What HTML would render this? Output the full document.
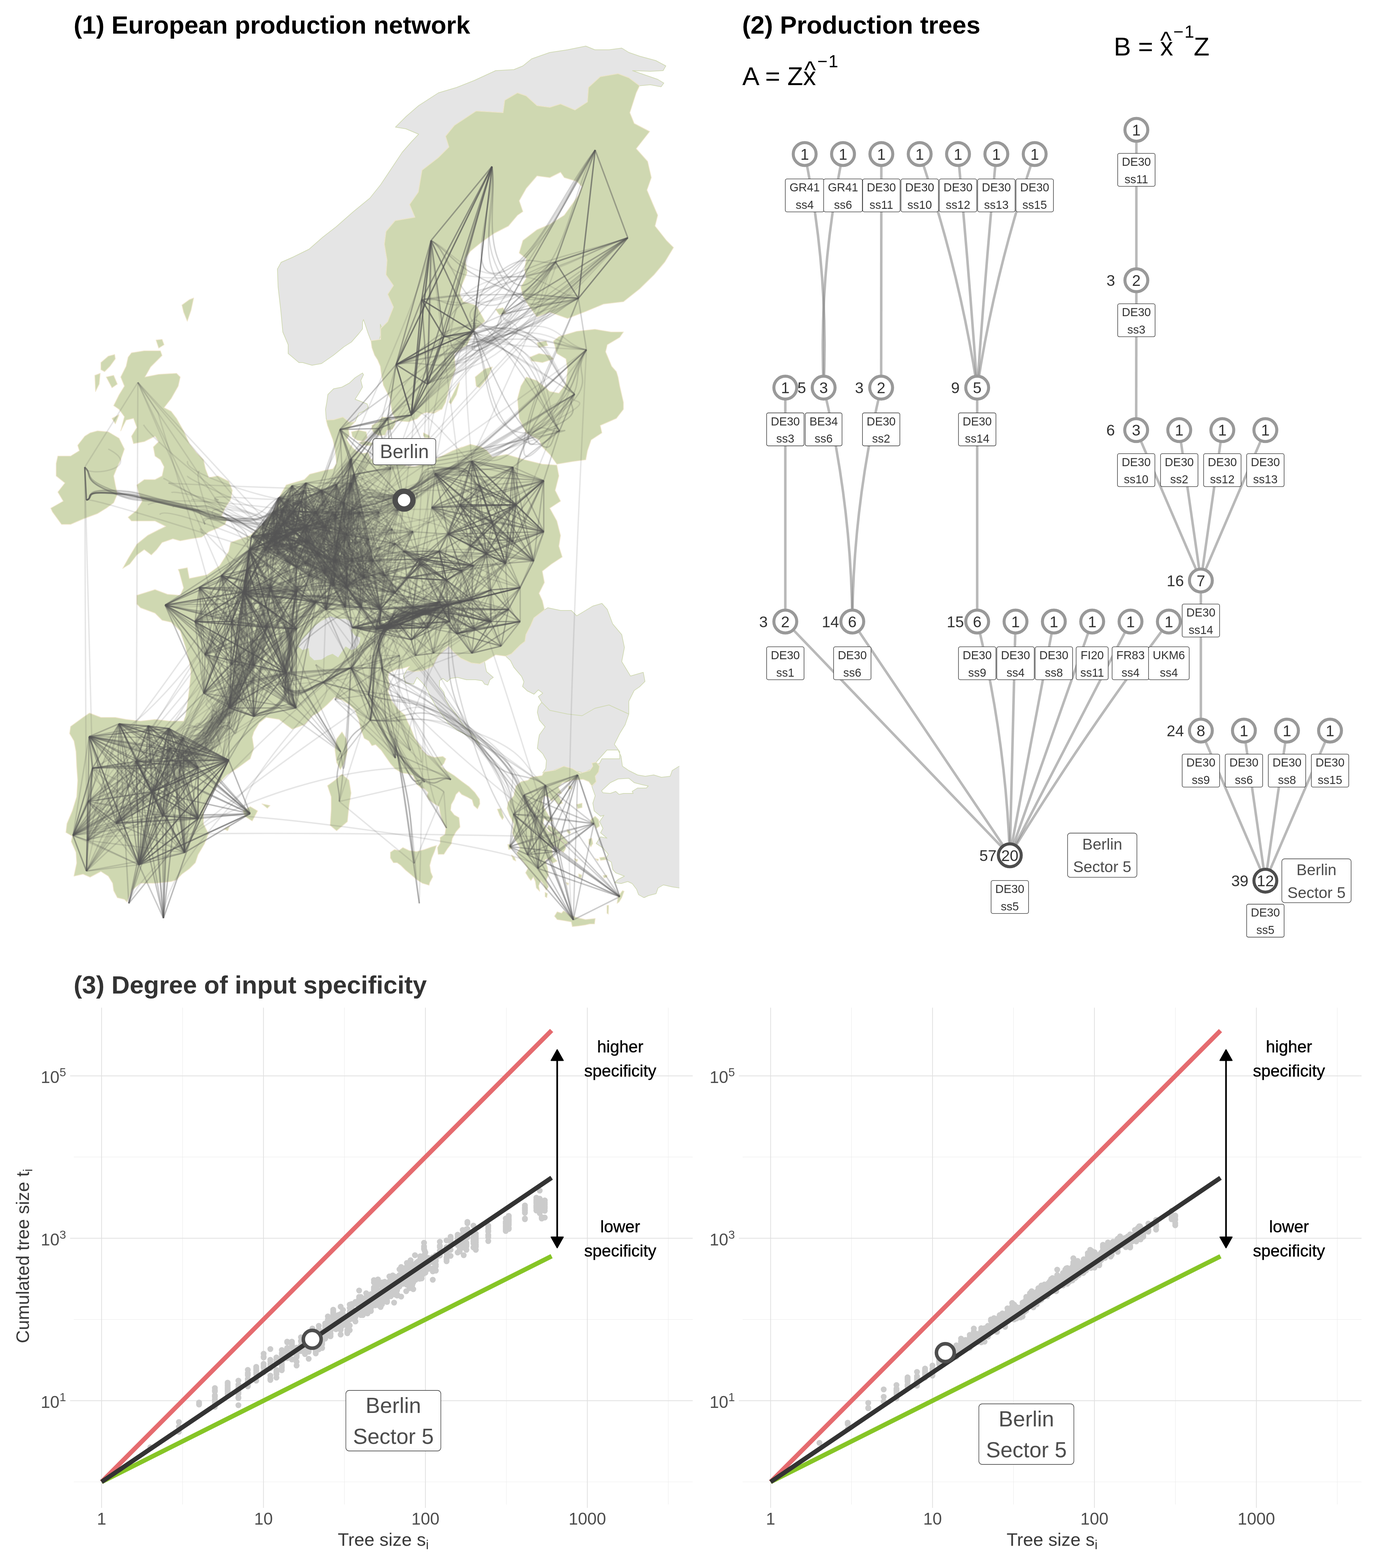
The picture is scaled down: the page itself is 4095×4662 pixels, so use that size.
<!DOCTYPE html>
<html lang="en"><head><meta charset="utf-8"><title>European production network</title><style>
html,body{margin:0;padding:0;background:#fff}
svg{display:block}
text{font-family:"Liberation Sans",Arial,Helvetica,sans-serif}
.tt{font-size:75px;font-weight:bold;fill:#000}
.nl{font-size:34.5px;fill:#333;text-anchor:middle}
.nn{font-size:46px;fill:#333;text-anchor:middle}
.bl{font-size:46.5px;fill:#4d4d4d;text-anchor:middle}
.cl{font-size:64.5px;fill:#4d4d4d;text-anchor:middle}
.fm{font-size:75px;fill:#000}
.an{font-size:49.5px;fill:#000;text-anchor:middle;stroke:#000;stroke-width:0.6}
.ax{font-size:50px;fill:#4d4d4d;text-anchor:middle}
.ay{font-size:50px;fill:#4d4d4d;text-anchor:end}
.at{font-size:54px;fill:#3a3a3a;text-anchor:middle}
</style></head><body>
<svg width="4095" height="4662" viewBox="0 0 4095 4662">
<rect width="4095" height="4662" fill="#fff"/>
<clipPath id="mc"><rect x="100" y="110" width="1920.3" height="2680"/></clipPath>
<g clip-path="url(#mc)">
<path d="M1902 255L1870 231L1838 219L1785 228L1750 260L1747 303L1710 327L1667 309L1635 319L1597 314L1565 285L1539 276L1501 298L1496 335L1416 330L1351 373L1325 405L1335 437L1303 469L1255 506L1244 571L1218 608L1234 646L1175 656L1148 688L1143 726L1151 774L1148 817L1170 849L1153 875L1170 913L1153 956L1132 977L1132 1009L1131 964L1137 978L1131 1000L1123 1025L1106 1014L1103 1013L1095 992L1081 950L1078 958L1078 978L1067 992L1045 1017L1023 1031L992 1056L956 1081L928 1086L900 1078L889 1078L857 1051L857 1025L841 987L835 923L827 853L825 800L836 780L870 765L919 741L960 705L1000 674L1050 630L1100 589L1132 549L1164 501L1196 453L1224 421L1245 399L1207 383L1176 378L1208 346L1245 314L1304 276L1358 260L1411 239L1474 210L1528 207L1555 196L1581 175L1635 156L1688 148L1742 137L1769 148L1811 148L1849 143L1870 156L1902 167L1950 180L1980 196L1972 210L1934 212L1881 210L1956 236L1974 247L1966 258L1934 252ZM970 1245L968 1217L972 1195L975 1173L992 1156L1017 1151L1039 1139L1056 1123L1078 1109L1081 1114L1073 1131L1078 1151L1067 1170L1056 1187L1092 1201L1095 1212L1081 1223L1067 1229L1056 1254L1039 1256L1020 1240L992 1248L972 1249ZM1334 1920L1347 1937L1370 1957L1401 1971L1427 1974L1441 1967L1444 1984L1447 1997L1467 2014L1457 2021L1451 2037L1441 2034L1434 2024L1414 2021L1387 2021L1360 2014L1340 2017L1330 2027L1317 2017L1307 2024L1307 2041L1320 2058L1324 2078L1337 2101L1357 2124L1374 2151L1391 2171L1414 2195L1427 2215L1414 2201L1387 2185L1360 2171L1334 2151L1314 2124L1297 2101L1280 2071L1267 2044L1253 2027L1240 2014L1230 2034L1207 2031L1200 2011L1210 1991L1227 1997L1257 1994L1287 1981L1300 1954L1317 1937ZM1618 1814L1588 1837L1578 1860L1564 1887L1561 1907L1548 1917L1521 1944L1504 1951L1518 1964L1528 1984L1551 2011L1558 2027L1554 2041L1568 2054L1588 2064L1601 2051L1614 2061L1601 2071L1611 2088L1635 2112L1688 2123L1731 2128L1769 2106L1811 2096L1870 2123L1870 2085L1886 2053L1902 2042L1918 2026L1913 1999L1875 2010L1849 1967L1857 1925L1849 1887L1822 1855L1806 1812L1790 1794L1763 1802L1715 1831L1699 1815L1667 1815L1629 1807ZM1611 2088L1601 2101L1598 2118L1604 2141L1621 2161L1604 2185L1601 2201L1598 2225L1614 2241L1625 2261L1623 2285L1614 2298L1645 2291L1678 2278L1708 2291L1735 2298L1762 2285L1765 2268L1782 2271L1790 2256L1843 2256L1843 2235L1827 2213L1843 2181L1859 2155L1870 2123L1811 2096L1769 2106L1731 2128L1688 2123L1635 2112ZM1773 2266L1805 2230L1838 2230L1847 2249L1851 2278L1870 2291L1896 2304L1919 2308L1944 2304L1967 2311L1993 2308L1999 2291L2020 2278L2032 2278L2032 2640L2020 2640L1999 2637L1973 2631L1957 2640L1951 2657L1928 2663L1915 2669L1899 2660L1893 2644L1880 2627L1867 2621L1847 2627L1828 2624L1838 2615L1857 2605L1831 2595L1822 2585L1818 2563L1802 2553L1809 2540L1793 2521L1773 2508L1786 2488L1805 2492L1786 2476L1793 2463L1783 2443L1796 2424L1786 2427L1767 2411L1763 2388L1770 2366L1760 2338L1773 2324L1770 2308L1780 2295L1783 2278Z" fill="#e5e5e5" stroke="#d0d9b3" stroke-width="2" stroke-linejoin="round"/>
<path d="M1789 2351L1815 2327L1838 2316L1870 2314L1886 2327L1909 2333L1928 2337L1922 2343L1896 2343L1880 2353L1883 2359L1854 2359L1841 2362L1831 2353L1815 2359L1793 2357Z" fill="#fff" stroke="#d0d9b3" stroke-width="2" stroke-linejoin="round"/>
<path d="M1902 255L1892 276L1873 335L1886 367L1932 391L1892 442L1926 480L1937 528L1924 565L1940 603L1956 640L1948 672L1982 715L2003 736L1977 779L1945 817L1902 859L1854 897L1795 904L1742 926L1688 947L1635 928L1597 942L1571 907L1555 880L1549 853L1565 827L1560 800L1565 769L1544 752L1555 715L1597 683L1635 667L1678 640L1720 581L1731 555L1715 539L1678 528L1667 512L1635 528L1597 523L1565 560L1544 597L1555 629L1539 640L1512 672L1469 694L1432 720L1399 747L1383 769L1389 811L1373 849L1367 875L1378 897L1416 908L1442 955L1410 982L1389 1025L1351 1051L1354 1099L1341 1132L1325 1196L1314 1217L1276 1228L1312 1217L1290 1229L1268 1226L1254 1231L1240 1245L1215 1254L1179 1251L1167 1229L1162 1201L1162 1187L1151 1167L1140 1145L1137 1128L1134 1112L1131 1089L1123 1070L1114 1056L1106 1034L1103 1013L1132 1009L1132 977L1153 956L1170 913L1153 875L1170 849L1148 817L1151 774L1143 726L1148 688L1175 656L1234 646L1218 608L1244 571L1255 506L1303 469L1335 437L1325 405L1351 373L1416 330L1496 335L1501 298L1539 276L1565 285L1597 314L1635 319L1667 309L1710 327L1747 303L1750 260L1785 228L1838 219L1870 231L1902 255ZM1413 1121L1442 1097L1464 1091L1448 1126L1426 1153L1416 1148ZM1335 1196L1362 1142L1367 1137L1357 1174L1341 1201ZM1474 920L1496 915L1504 931L1485 936ZM1259 1287L1276 1295L1279 1301L1265 1302L1259 1295ZM1646 1014L1662 1001L1715 985L1769 979L1817 987L1854 987L1843 1003L1806 1025L1801 1046L1819 1089L1833 1105L1838 1121L1843 1148L1854 1196L1854 1217L1833 1244L1785 1265L1790 1287L1758 1308L1747 1340L1742 1367L1704 1372L1656 1380L1635 1351L1613 1329L1603 1308L1565 1287L1544 1244L1539 1185L1549 1148L1565 1121L1597 1132L1635 1164L1662 1169L1683 1142L1688 1099L1683 1067L1656 1051ZM1576 1062L1603 1051L1635 1057L1646 1067L1613 1078L1581 1073ZM1597 1019L1624 1014L1629 1027L1603 1033ZM1045 1284L1067 1279L1089 1284L1092 1301L1081 1312L1062 1309L1048 1298ZM1106 1265L1123 1256L1137 1240L1156 1242L1167 1251L1179 1245L1173 1265L1167 1276L1151 1279L1145 1293L1128 1295L1112 1287L1106 1276ZM1067 1315L1089 1312L1109 1318L1103 1325L1078 1323ZM391 1049L429 1043L477 1043L482 1057L448 1091L431 1121L472 1113L525 1110L536 1121L530 1148L509 1185L488 1212L509 1223L525 1244L546 1281L563 1319L584 1346L605 1367L611 1394L621 1420L648 1415L680 1431L691 1458L686 1485L669 1511L659 1533L675 1543L669 1559L648 1570L621 1581L600 1597L568 1602L536 1608L514 1602L482 1613L466 1634L450 1650L429 1634L407 1650L386 1677L365 1690L381 1661L407 1618L439 1592L472 1575L493 1565L461 1549L429 1549L391 1549L381 1538L407 1517L423 1490L413 1469L407 1442L429 1426L461 1426L482 1415L488 1388L477 1367L461 1356L456 1329L472 1313L461 1297L429 1313L397 1319L391 1297L407 1271L397 1244L375 1249L359 1281L370 1239L354 1217L338 1206L354 1174L370 1148L359 1121L375 1089L381 1062ZM290 1281L322 1284L354 1303L370 1335L359 1367L349 1388L338 1415L343 1442L349 1469L338 1495L316 1511L290 1527L247 1543L210 1559L183 1559L156 1522L151 1511L188 1490L172 1463L193 1436L167 1415L167 1378L172 1356L210 1356L236 1340L231 1324L252 1297L268 1287ZM300 1078L322 1059L341 1054L343 1067L327 1089L311 1105L300 1099ZM316 1121L338 1116L349 1142L333 1153ZM333 1244L354 1233L343 1260ZM282 1116L298 1110L295 1142L284 1164ZM464 1011L482 1009L488 1025L472 1035ZM541 907L563 891L576 886L568 923L557 955L546 928ZM1056 1254L1045 1265L1036 1276L1039 1293L1031 1307L1039 1320L1050 1332L1062 1343L1078 1348L1095 1346L1101 1362L1112 1371L1151 1368L1179 1373L1206 1385L1234 1387L1262 1379L1296 1365L1318 1354L1346 1340L1374 1329L1346 1340L1399 1321L1432 1329L1448 1340L1464 1359L1506 1351L1560 1367L1613 1380L1656 1383L1662 1415L1651 1458L1667 1490L1635 1511L1656 1549L1667 1592L1662 1624L1672 1656L1640 1677L1613 1698L1613 1700L1619 1732L1603 1764L1613 1786L1619 1812L1618 1814L1588 1837L1578 1860L1564 1887L1561 1907L1548 1917L1521 1944L1504 1951L1474 1947L1451 1961L1441 1967L1427 1974L1401 1971L1370 1957L1347 1937L1334 1920L1317 1937L1300 1954L1287 1981L1257 1994L1227 1997L1210 1991L1218 1981L1198 1987L1179 1990L1156 2001L1154 2017L1159 2037L1154 2056L1165 2084L1184 2109L1204 2126L1212 2146L1223 2168L1234 2196L1254 2224L1253 2228L1270 2245L1292 2252L1317 2249L1326 2256L1320 2270L1312 2278L1329 2292L1351 2306L1373 2323L1395 2339L1412 2356L1426 2376L1427 2390L1420 2405L1409 2395L1404 2378L1390 2370L1373 2362L1365 2353L1356 2362L1351 2376L1342 2392L1340 2409L1351 2423L1365 2431L1368 2459L1356 2473L1345 2493L1342 2509L1331 2523L1320 2540L1303 2540L1301 2520L1309 2507L1309 2490L1323 2481L1326 2462L1315 2440L1309 2417L1306 2398L1292 2390L1276 2378L1270 2367L1273 2356L1262 2345L1251 2342L1239 2331L1228 2306L1212 2300L1195 2298L1175 2286L1161 2270L1147 2250L1134 2231L1117 2214L1106 2217L1097 2203L1083 2195L1073 2168L1067 2140L1056 2112L1039 2095L1017 2081L995 2073L973 2095L947 2118L928 2129L906 2154L869 2168L851 2155L830 2139L792 2133L771 2149L755 2176L750 2192L755 2224L744 2256L707 2283L675 2304L648 2331L621 2374L605 2411L605 2449L621 2481L621 2476L608 2509L589 2541L581 2565L563 2583L541 2599L525 2616L509 2621L461 2626L418 2626L391 2648L378 2682L370 2674L349 2669L338 2648L335 2626L322 2605L300 2591L268 2608L247 2599L220 2605L220 2604L228 2566L226 2534L212 2502L215 2486L196 2475L199 2449L215 2411L228 2369L231 2320L228 2278L226 2235L220 2203L207 2181L210 2160L247 2133L266 2120L300 2133L343 2133L375 2139L418 2144L461 2139L504 2144L546 2144L552 2128L557 2096L563 2048L568 1999L563 1967L552 1925L536 1876L509 1850L482 1844L461 1823L418 1807L407 1796L407 1770L461 1753L498 1767L536 1770L546 1748L533 1700L530 1693L557 1688L563 1720L616 1709L653 1682L680 1640L686 1613L744 1592L782 1559L819 1511L830 1479L851 1442L905 1426L921 1410L964 1399L990 1394L1001 1378L996 1335L990 1308L980 1281L974 1265L970 1249L992 1248L1020 1240L1039 1256ZM1017 2176L1030 2197L1033 2235L1022 2272L1012 2288L1001 2267L996 2229L1001 2197ZM1017 2302L1038 2320L1044 2358L1038 2395L1033 2443L1001 2470L982 2454L985 2406L985 2369L974 2336L996 2320ZM723 2411L744 2398L766 2411L750 2441L728 2427ZM779 2390L803 2395L795 2403ZM667 2465L683 2457L677 2470ZM1161 2534L1173 2526L1186 2529L1198 2520L1217 2529L1239 2532L1262 2526L1284 2518L1298 2514L1292 2532L1284 2551L1278 2573L1281 2593L1287 2607L1278 2624L1276 2632L1256 2626L1239 2615L1223 2601L1206 2587L1192 2573L1181 2565L1170 2565L1161 2551ZM1511 2385L1528 2366L1534 2337L1550 2324L1570 2320L1579 2311L1612 2306L1618 2295L1650 2290L1676 2278L1702 2285L1725 2299L1754 2291L1763 2278L1760 2269L1773 2266L1783 2278L1780 2295L1770 2308L1773 2324L1760 2337L1751 2324L1734 2317L1702 2319L1689 2324L1673 2327L1660 2340L1670 2359L1657 2359L1673 2388L1660 2392L1647 2375L1641 2382L1631 2369L1618 2366L1612 2382L1618 2401L1631 2424L1644 2440L1631 2443L1618 2434L1615 2450L1631 2472L1657 2488L1673 2501L1683 2521L1676 2534L1663 2527L1650 2514L1641 2521L1644 2547L1657 2560L1644 2566L1631 2553L1621 2556L1628 2579L1631 2602L1624 2618L1631 2637L1624 2647L1615 2627L1608 2618L1602 2634L1605 2650L1595 2640L1592 2621L1586 2608L1579 2618L1573 2611L1563 2595L1570 2582L1557 2563L1544 2550L1537 2537L1547 2521L1531 2495L1524 2476L1528 2450L1515 2424L1508 2404ZM1631 2453L1650 2463L1670 2482L1689 2505L1683 2511L1663 2495L1644 2479L1628 2463ZM1649 2724L1657 2711L1670 2715L1676 2708L1696 2721L1715 2728L1741 2734L1770 2731L1768 2747L1754 2747L1741 2750L1721 2753L1702 2755L1699 2741L1676 2737L1657 2734ZM1835 2686L1838 2666L1851 2648L1856 2650L1849 2669L1841 2682ZM1757 2437L1770 2427L1780 2437L1783 2456L1773 2463L1767 2450L1757 2446ZM1751 2495L1760 2492L1763 2508L1757 2518L1751 2508ZM1783 2550L1799 2548L1801 2556L1786 2558ZM1715 2392L1731 2388L1731 2401L1718 2404ZM1691 2337L1700 2338L1699 2346L1691 2345ZM1479 2406L1489 2404L1498 2430L1494 2437L1486 2424ZM1510 2511L1519 2510L1523 2522L1513 2526ZM1521 2542L1531 2550L1534 2560L1526 2556ZM1794 2603L1805 2602L1805 2608L1796 2610ZM1805 2692L1810 2692L1809 2718L1805 2715ZM1687 2466L1697 2474L1694 2480L1687 2474ZM1721 2598L1730 2602L1728 2611L1721 2608ZM1683 2624L1691 2626L1689 2632ZM1770 2553L1780 2555L1778 2560ZM1621 2653L1628 2657L1626 2669L1621 2666ZM1708 2553L1718 2556L1715 2563Z" fill="#cfd8b1" stroke="#efe6cc" stroke-width="2" stroke-linejoin="round"/>
<path d="M886 1923L897 1900L914 1884L934 1861L956 1845L984 1831L1006 1839L1028 1839L1045 1847L1051 1861L1045 1875L1056 1889L1073 1895L1070 1912L1059 1928L1045 1934L1028 1923L1017 1939L1006 1956L989 1945L973 1951L956 1962L934 1964L920 1951L917 1928L900 1934Z" fill="#e5e5e5" stroke="#d0d9b3" stroke-width="2" stroke-linejoin="round"/>
<g fill="none" stroke="#555" stroke-width="4.2">
<g stroke-opacity="0.15"><path d="M1031 1747L1184 1516"/><path d="M1031 1747L1000 1440"/><path d="M1031 1747L1044 1436"/><path d="M1031 1747L1127 1523"/><path d="M1031 1747L1044 1364"/><path d="M991 1740L1175 1762"/><path d="M991 1740L1144 1711"/><path d="M991 1740L1201 1487"/><path d="M991 1740L1053 1411"/><path d="M991 1740L1070 1523"/><path d="M991 1740L908 1675"/><path d="M991 1740L1175 1617"/><path d="M991 1740L1044 1364"/><path d="M969 1812L1175 1762"/><path d="M969 1812L1048 1668"/><path d="M969 1812L1184 1516"/><path d="M969 1812L1053 1411"/><path d="M969 1812L1070 1523"/><path d="M969 1812L939 1523"/><path d="M969 1812L996 1530"/><path d="M969 1812L908 1675"/><path d="M969 1812L1228 1581"/><path d="M969 1812L1175 1617"/><path d="M1026 1805L1000 1440"/><path d="M1026 1805L1031 1588"/><path d="M1026 1805L1044 1436"/><path d="M1026 1805L996 1530"/><path d="M1026 1805L943 1646"/><path d="M1026 1805L919 1711"/><path d="M1026 1805L1127 1523"/><path d="M1026 1805L1044 1364"/><path d="M1026 1805L1096 1603"/><path d="M1131 1812L1201 1487"/><path d="M1131 1812L1184 1516"/><path d="M1131 1812L1000 1440"/><path d="M1131 1812L1162 1393"/><path d="M1131 1812L1044 1436"/><path d="M1131 1812L908 1675"/><path d="M1131 1812L1127 1523"/><path d="M1175 1762L1048 1668"/><path d="M1175 1762L1074 1805"/><path d="M1175 1762L1201 1487"/><path d="M1175 1762L1031 1588"/><path d="M1175 1762L1070 1523"/><path d="M1175 1762L912 1610"/><path d="M1175 1762L939 1523"/><path d="M1175 1762L943 1646"/><path d="M1175 1762L908 1675"/><path d="M1175 1762L919 1711"/><path d="M1175 1762L1175 1617"/><path d="M1144 1711L1048 1668"/><path d="M1144 1711L1000 1440"/><path d="M1144 1711L1000 1624"/><path d="M1144 1711L1070 1523"/><path d="M1144 1711L1022 1494"/><path d="M1144 1711L1044 1436"/><path d="M1144 1711L965 1566"/><path d="M1144 1711L965 1704"/><path d="M1144 1711L1175 1617"/><path d="M1144 1711L1166 1574"/><path d="M1144 1711L1096 1603"/><path d="M1109 1668L1201 1487"/><path d="M1109 1668L1184 1516"/><path d="M1109 1668L1070 1523"/><path d="M1109 1668L956 1458"/><path d="M1109 1668L939 1523"/><path d="M1109 1668L996 1530"/><path d="M1109 1668L965 1566"/><path d="M1109 1668L943 1646"/><path d="M1109 1668L908 1675"/><path d="M1109 1668L919 1711"/><path d="M1109 1668L1175 1617"/><path d="M1109 1668L1044 1364"/><path d="M1083 1718L1201 1487"/><path d="M1083 1718L1000 1440"/><path d="M1083 1718L1031 1588"/><path d="M1083 1718L1162 1393"/><path d="M1083 1718L1022 1494"/><path d="M1083 1718L908 1675"/><path d="M1083 1718L919 1711"/><path d="M1083 1718L1044 1364"/><path d="M1083 1718L1096 1603"/><path d="M1048 1668L1000 1440"/><path d="M1048 1668L1053 1411"/><path d="M1048 1668L1162 1393"/><path d="M1048 1668L943 1646"/><path d="M1048 1668L919 1711"/><path d="M1048 1668L1228 1581"/><path d="M1048 1668L1044 1364"/><path d="M1048 1668L1096 1603"/><path d="M1074 1805L1201 1487"/><path d="M1074 1805L1000 1440"/><path d="M1074 1805L1053 1411"/><path d="M1074 1805L1022 1494"/><path d="M1074 1805L956 1458"/><path d="M1074 1805L996 1530"/><path d="M1074 1805L943 1646"/><path d="M1074 1805L919 1711"/><path d="M1201 1487L1184 1516"/><path d="M1201 1487L1000 1624"/><path d="M1201 1487L1031 1588"/><path d="M1201 1487L956 1458"/><path d="M1201 1487L939 1523"/><path d="M1201 1487L965 1566"/><path d="M1201 1487L908 1675"/><path d="M1201 1487L965 1704"/><path d="M1201 1487L1228 1581"/><path d="M1201 1487L1127 1523"/><path d="M1184 1516L1000 1440"/><path d="M1184 1516L1053 1411"/><path d="M1184 1516L1000 1624"/><path d="M1184 1516L1070 1523"/><path d="M1184 1516L1044 1436"/><path d="M1184 1516L956 1458"/><path d="M1184 1516L996 1530"/><path d="M1184 1516L965 1566"/><path d="M1184 1516L1166 1574"/><path d="M1000 1440L1000 1624"/><path d="M1000 1440L1031 1588"/><path d="M1000 1440L1162 1393"/><path d="M1000 1440L1044 1436"/><path d="M1000 1440L939 1523"/><path d="M1000 1440L996 1530"/><path d="M1000 1440L965 1704"/><path d="M1000 1440L1044 1364"/><path d="M1053 1411L943 1646"/><path d="M1053 1411L919 1711"/><path d="M1053 1411L1175 1617"/><path d="M1053 1411L1096 1603"/><path d="M996 1668L1044 1436"/><path d="M996 1668L1228 1581"/><path d="M996 1668L1175 1617"/><path d="M996 1668L1166 1574"/><path d="M996 1668L1044 1364"/><path d="M1000 1624L1031 1588"/><path d="M1000 1624L1044 1436"/><path d="M1000 1624L939 1523"/><path d="M1000 1624L1096 1603"/><path d="M1031 1588L956 1458"/><path d="M1031 1588L943 1646"/><path d="M1031 1588L919 1711"/><path d="M1031 1588L1228 1581"/><path d="M1031 1588L1044 1364"/><path d="M1162 1393L1070 1523"/><path d="M1162 1393L908 1566"/><path d="M1070 1523L939 1523"/><path d="M1070 1523L908 1675"/><path d="M1070 1523L919 1711"/><path d="M1070 1523L1228 1581"/><path d="M1070 1523L1175 1617"/><path d="M1070 1523L1166 1574"/><path d="M1070 1523L1044 1364"/><path d="M1022 1494L908 1675"/><path d="M1022 1494L965 1704"/><path d="M1022 1494L1166 1574"/><path d="M1022 1494L1127 1523"/><path d="M1044 1436L908 1675"/><path d="M1044 1436L965 1704"/><path d="M1044 1436L919 1711"/><path d="M1044 1436L1175 1617"/><path d="M1044 1436L1127 1523"/><path d="M956 1458L943 1646"/><path d="M956 1458L1096 1603"/><path d="M908 1566L1228 1581"/><path d="M908 1566L1166 1574"/><path d="M912 1610L1127 1523"/><path d="M996 1530L908 1675"/><path d="M996 1530L919 1711"/><path d="M996 1530L1175 1617"/><path d="M996 1530L1127 1523"/><path d="M996 1530L1044 1364"/><path d="M996 1530L1096 1603"/><path d="M965 1566L1175 1617"/><path d="M965 1566L1166 1574"/><path d="M965 1566L1127 1523"/><path d="M943 1646L1166 1574"/><path d="M943 1646L1127 1523"/><path d="M908 1675L1166 1574"/><path d="M908 1675L1044 1364"/><path d="M965 1704L919 1711"/><path d="M965 1704L1228 1581"/><path d="M965 1704L1044 1364"/><path d="M919 1711L1175 1617"/><path d="M919 1711L1044 1364"/><path d="M1228 1581L1127 1523"/><path d="M1228 1581L1044 1364"/><path d="M1175 1617L1166 1574"/><path d="M1175 1617L1096 1603"/><path d="M1166 1574L1096 1603"/><path d="M1044 1364L1096 1603"/><path d="M961 2029L1263 2325"/><path d="M939 1976L1101 2141"/><path d="M939 1976L1188 2145"/><path d="M996 2080L1101 1949"/><path d="M996 2080L1101 2141"/><path d="M1114 1906L1188 1949"/><path d="M1101 1949L1188 1949"/><path d="M1101 1949L1096 2065"/><path d="M1101 1949L1175 2253"/><path d="M1136 1986L1221 2231"/><path d="M1136 1986L1263 2325"/><path d="M1136 1986L1009 2383"/><path d="M1188 1949L1188 2145"/><path d="M1188 1949L1175 2253"/><path d="M1188 1949L1254 2267"/><path d="M1096 2065L1162 2173"/><path d="M1096 2065L1341 2318"/><path d="M1101 2141L1221 2231"/><path d="M1101 2141L1263 2325"/><path d="M1162 2173L1175 2253"/><path d="M1162 2173L1254 2267"/><path d="M1162 2173L1328 2462"/><path d="M1188 2145L1175 2253"/><path d="M1188 2145L1221 2231"/><path d="M1188 2145L1341 2318"/><path d="M1263 2325L1009 2383"/><path d="M1320 2354L1328 2462"/><path d="M1320 2354L1232 2567"/><path d="M1232 2567L1009 2383"/><path d="M275 2284L589 2282"/><path d="M262 2383L441 2158"/><path d="M262 2383L549 2535"/><path d="M217 2484L502 2166"/><path d="M217 2484L413 2571"/><path d="M257 2590L354 2152"/><path d="M257 2590L506 2224"/><path d="M265 2190C402 2284 827 1604 851 1595"/><path d="M354 2152C437 2269 254 2461 260 2499"/><path d="M502 2166C497 2275 745 1977 755 2130"/><path d="M502 2166C497 2275 1016 1625 1000 1624"/><path d="M506 2224C498 2298 825 1529 781 1559"/><path d="M589 2282C531 2321 1050 1663 1083 1718"/><path d="M452 2354C476 2350 761 1872 794 1866"/><path d="M452 2354C476 2350 1050 1663 1083 1718"/><path d="M405 2264C458 2314 863 1538 875 1581"/><path d="M680 2260C568 2312 1016 1551 1000 1440"/><path d="M680 2260C568 2312 1029 1611 1031 1588"/><path d="M589 2434C531 2382 260 2376 275 2284"/><path d="M589 2434C531 2382 1484 1565 1525 1610"/><path d="M589 2434C531 2382 1620 2522 1600 2582"/><path d="M589 2434C531 2382 1291 868 1282 715"/><path d="M744 2419C593 2376 1520 1493 1617 1429"/><path d="M413 2571C461 2436 1083 1605 1166 1574"/><path d="M549 2535C515 2422 1210 2198 1341 2318"/><path d="M383 2686C449 2483 1437 1871 1411 1870"/><path d="M486 2730C490 2500 1057 2082 961 2029"/><path d="M275 2284C260 2376 799 1602 781 1592"/><path d="M262 2383C255 2415 999 1559 956 1458"/><path d="M217 2484C237 2456 716 1967 683 2105"/><path d="M217 2484C237 2456 1266 1818 1306 1790"/><path d="M217 2484C237 2456 1306 983 1320 1001"/><path d="M217 2484C237 2456 1692 766 1652 779"/><path d="M260 2499C254 2461 1015 1642 996 1668"/><path d="M260 2499C254 2461 815 1598 821 1581"/><path d="M260 2499C254 2461 1218 1844 1188 1856"/><path d="M260 2499C254 2461 1622 2485 1604 2488"/><path d="M260 2499C254 2461 1778 737 1867 707"/><path d="M260 2499C254 2461 253 1424 252 1389"/><path d="M724 1759C733 1829 1074 1660 1144 1711"/><path d="M724 1759C733 1829 1060 1642 1109 1668"/><path d="M724 1759C733 1829 1037 1540 1053 1411"/><path d="M724 1759C733 1829 1443 1499 1425 1444"/><path d="M805 1747C787 1781 870 1517 875 1520"/><path d="M659 1711C706 1809 1034 1521 1044 1364"/><path d="M659 1711C706 1809 1744 1040 1744 1040"/><path d="M689 1848C719 1864 1692 766 1652 779"/><path d="M794 1866C761 1872 1268 1076 1223 1234"/><path d="M794 1866C763 1871 557 1423 593 1400"/><path d="M742 1635C740 1779 1234 1824 1228 1805"/><path d="M742 1635C740 1767 561 1508 602 1588"/><path d="M882 1758C796 1828 1778 737 1867 707"/><path d="M882 1870C833 1872 948 1586 908 1566"/><path d="M882 1870C796 1873 993 1634 943 1646"/><path d="M491 1799C639 1845 855 1500 856 1487"/><path d="M491 1799C639 1845 1475 1591 1503 1675"/><path d="M491 1799C639 1845 1477 1848 1512 1812"/><path d="M610 1946C687 1903 1015 1642 996 1668"/><path d="M683 2105C716 1967 1046 1697 1074 1805"/><path d="M683 2105C716 1967 1034 1521 1044 1364"/><path d="M683 2105C713 1978 502 1345 470 1227"/><path d="M851 2000C783 1925 815 1598 821 1581"/><path d="M755 1978C745 1916 813 1614 816 1621"/><path d="M755 2130C745 1977 1091 2065 1044 1986"/><path d="M1031 1747C1029 1674 799 1602 781 1592"/><path d="M969 1812L961 2029"/><path d="M1026 1805C1027 1697 1278 1841 1337 1848"/><path d="M1026 1805C1027 1752 1260 1667 1247 1662"/><path d="M1131 1812C1069 1700 849 1528 842 1556"/><path d="M1144 1711C1074 1660 1435 1470 1403 1371"/><path d="M1109 1668C1060 1642 1456 1862 1460 1848"/><path d="M1109 1668C1060 1642 1149 2050 1188 1949"/><path d="M1083 1718C1050 1663 829 1634 856 1671"/><path d="M1083 1718C1050 1663 1437 1871 1411 1870"/><path d="M1083 1718C1050 1663 1210 2198 1341 2318"/><path d="M1074 1805C1046 1697 1287 1039 1271 1142"/><path d="M1000 1440C1016 1551 1591 2458 1527 2421"/><path d="M1053 1411C1037 1540 834 1618 867 1632"/><path d="M996 1668C1015 1642 1118 1256 1153 1243"/><path d="M1000 1624C1007 1625 789 1596 781 1592"/><path d="M1022 1494C1025 1573 1266 1818 1306 1790"/><path d="M908 1566C979 1602 1287 1039 1271 1142"/><path d="M912 1610C981 1619 1112 2096 1096 2065"/><path d="M965 1566C1002 1602 1421 1522 1368 1501"/><path d="M943 1646C993 1634 1520 1493 1617 1429"/><path d="M943 1646C993 1634 1119 2033 1114 1906"/><path d="M943 1646C993 1634 1642 2502 1655 2532"/><path d="M1228 1581C1117 1605 565 1495 610 1559"/><path d="M1044 1364C1034 1521 1433 1900 1403 1942"/><path d="M1044 1364C1034 1521 1119 2033 1114 1906"/><path d="M1096 1603C1055 1616 1149 2128 1188 2145"/><path d="M910 1436C877 1480 1149 2128 1188 2145"/><path d="M869 1444C860 1483 1190 1850 1118 1870"/><path d="M869 1444C860 1483 1407 1556 1333 1588"/><path d="M895 1491C870 1502 1616 2459 1589 2424"/><path d="M856 1487L867 1632"/><path d="M840 1516C849 1512 1487 1522 1534 1501"/><path d="M840 1516C848 1512 488 1469 440 1501"/><path d="M829 1480C843 1496 541 1410 558 1371"/><path d="M829 1480C843 1496 583 1462 650 1487"/><path d="M812 1523C837 1515 1296 1664 1306 1639"/><path d="M781 1559C821 1531 520 1452 510 1465"/><path d="M781 1559C821 1531 579 1485 641 1538"/><path d="M842 1556C849 1528 1274 1680 1249 1678"/><path d="M875 1581C863 1538 1268 1076 1223 1234"/><path d="M821 1581C816 1596 516 1439 501 1436"/><path d="M821 1581C816 1596 583 1462 650 1487"/><path d="M851 1595C827 1604 1113 2050 1101 1949"/><path d="M781 1592C798 1601 509 1433 486 1422"/><path d="M788 1635C801 1621 522 1472 514 1509"/><path d="M788 1635C801 1621 565 1495 610 1559"/><path d="M867 1632C834 1618 1341 976 1407 985"/><path d="M867 1632C834 1618 1108 1268 1127 1274"/><path d="M867 1632C834 1618 1062 1269 1011 1277"/><path d="M856 1671C829 1634 1437 1871 1411 1870"/><path d="M882 1686C882 1686 1112 2096 1096 2065"/><path d="M1337 1848C1278 1841 1205 2255 1328 2462"/><path d="M1306 1790C1266 1818 1459 1542 1464 1552"/><path d="M1228 1805C1234 1824 1291 868 1282 715"/><path d="M1228 1805C1234 1822 504 1482 475 1530"/><path d="M1118 1870C1184 1852 482 1361 427 1263"/><path d="M1247 1662C1271 1672 547 1462 571 1487"/><path d="M1247 1662C1271 1672 579 1485 641 1538"/><path d="M1210 1718C1258 1695 1113 2127 1101 2141"/><path d="M1210 1718C1258 1695 1341 976 1407 985"/><path d="M1464 1552C1459 1542 1091 2065 1044 1986"/><path d="M1534 1501C1487 1522 1446 1764 1460 1754"/><path d="M1503 1675C1475 1591 1162 2163 1221 2231"/><path d="M1587 1668C1508 1588 1127 2065 1136 1986"/><path d="M1617 1429C1529 1488 516 1439 501 1436"/><path d="M1425 1444C1443 1499 1113 2127 1101 2141"/><path d="M1403 1371C1435 1470 1127 2065 1136 1986"/><path d="M1403 1371C1416 1413 1242 1168 1223 1234"/><path d="M1368 1790L1236 1949"/><path d="M1368 1790C1410 1779 1127 2065 1136 1986"/><path d="M1368 1790C1406 1780 541 1430 558 1415"/><path d="M1403 1783C1424 1776 1468 1891 1490 1921"/><path d="M1403 1783C1424 1776 1642 2502 1655 2532"/><path d="M1403 1783C1424 1776 1291 868 1282 715"/><path d="M1460 1754C1446 1764 1341 976 1407 985"/><path d="M1460 1754C1446 1764 1744 1040 1744 1040"/><path d="M1460 1848C1456 1862 256 1463 257 1487"/><path d="M1403 1942C1433 1900 1127 2065 1136 1986"/><path d="M1044 1986C1091 2065 1692 766 1652 779"/><path d="M1136 1986C1127 2065 1616 2459 1589 2424"/><path d="M1136 1986C1127 2065 1364 780 1463 495"/><path d="M1101 2141C1113 2127 1268 1076 1223 1234"/><path d="M1705 2735C1662 2583 1744 1040 1744 1040"/><path d="M1271 1142C1287 1039 1247 2686 1247 2686"/><path d="M252 1389C253 1421 435 1394 322 1335"/><path d="M452 2354C488 2311 497 2298 559 2225C621 2152 592 2199 639 2135C686 2072 670 2161 699 2035C727 1910 716 1851 724 1759"/><path d="M452 2354C490 2311 501 2297 566 2224C631 2150 599 2197 646 2134C693 2070 653 2162 706 2034C759 1905 772 1843 805 1747"/><path d="M452 2354C494 2314 509 2303 578 2233C646 2162 611 2206 658 2143C704 2079 672 2135 718 2043C763 1951 769 1925 794 1866"/><path d="M452 2354C486 2320 494 2316 555 2251C616 2187 588 2225 635 2161C681 2098 603 2260 695 2061C786 1863 837 1731 908 1566"/><path d="M452 2354C497 2325 515 2325 586 2266C657 2206 619 2239 666 2176C713 2112 600 2139 726 2076C852 2012 938 2016 1044 1986"/><path d="M405 2264C456 2252 480 2271 558 2230C636 2189 591 2203 638 2140C684 2077 663 2208 698 2040C732 1872 727 1770 742 1635"/><path d="M405 2264C459 2252 487 2270 569 2229C650 2187 602 2202 649 2139C695 2075 695 2136 709 2039C722 1942 696 1912 689 1848"/><path d="M484 2426C513 2363 515 2329 571 2236C627 2142 605 2209 651 2146C698 2082 660 2179 711 2046C763 1913 774 1847 805 1747"/><path d="M484 2426C506 2359 502 2321 551 2224C600 2126 585 2197 631 2134C678 2070 637 2123 691 2034C746 1945 760 1922 794 1866"/><path d="M484 2426C516 2361 522 2326 581 2231C641 2136 615 2204 661 2141C708 2078 594 2093 721 2041C849 1989 936 2004 1044 1986"/><path d="M413 2571C464 2459 488 2376 565 2234C642 2092 598 2207 645 2144C691 2081 674 2194 705 2044C736 1894 726 1810 737 1693"/><path d="M413 2571C464 2470 487 2399 564 2269C641 2138 598 2242 644 2179C691 2115 606 2208 704 2079C802 1949 861 1887 939 1790"/><path d="M413 2571C460 2464 480 2387 554 2250C627 2113 587 2223 634 2160C680 2097 675 2164 694 2060C712 1956 691 1919 689 1848"/><path d="M413 2571C457 2456 473 2371 543 2226C612 2082 576 2200 623 2136C669 2073 542 2087 683 2036C823 1986 923 2003 1044 1986"/><path d="M589 2434C576 2374 536 2344 549 2255C563 2165 583 2228 629 2165C676 2101 658 2200 689 2065C721 1929 713 1861 724 1759"/><path d="M589 2434C570 2364 525 2324 534 2224C542 2124 567 2197 614 2134C660 2071 610 2163 674 2034C737 1905 761 1843 805 1747"/><path d="M589 2434C580 2379 544 2354 562 2269C580 2184 596 2243 642 2179C689 2116 604 2209 702 2079C801 1950 860 1887 939 1790"/><path d="M589 2434C571 2372 526 2340 535 2248C543 2156 568 2221 615 2158C661 2094 615 2155 675 2058C734 1960 754 1930 794 1866"/><path d="M346 2448C424 2376 476 2334 580 2232C685 2130 614 2205 660 2142C707 2078 672 2173 720 2042C769 1910 777 1845 805 1747"/><path d="M346 2448C418 2376 463 2334 561 2232C660 2130 595 2205 641 2142C688 2079 611 2219 701 2042C792 1865 842 1754 912 1610"/><path d="M265 2190C356 2204 421 2248 539 2232C657 2216 572 2205 619 2142C665 2079 638 2211 679 2042C720 1873 721 1771 742 1635"/><path d="M265 2190C366 2206 440 2252 568 2238C695 2224 601 2211 648 2148C694 2084 630 2178 708 2048C786 1918 824 1855 882 1758"/><path d="M265 2190C359 2209 425 2259 545 2248C665 2237 579 2221 625 2158C672 2095 610 2111 685 2058C761 2005 796 2019 851 2000"/><path d="M265 2190C370 2204 448 2247 580 2231C712 2215 613 2204 660 2141C707 2078 637 2232 720 2041C803 1849 845 1725 908 1566"/><path d="M265 2190C364 2209 437 2257 563 2246C689 2234 596 2219 643 2156C690 2092 613 2238 703 2056C793 1874 843 1758 912 1610"/><path d="M549 2535C551 2444 527 2383 555 2262C584 2141 589 2235 635 2172C682 2108 666 2209 695 2072C725 1934 715 1863 724 1759"/><path d="M549 2535C547 2447 519 2389 543 2270C568 2152 577 2244 623 2180C670 2117 645 2243 683 2080C721 1918 719 1822 737 1693"/><path d="M549 2535C550 2436 524 2367 552 2238C580 2110 585 2212 632 2148C679 2085 619 2098 692 2048C765 1999 798 2016 851 2000"/><path d="M549 2535C544 2432 512 2359 533 2227C555 2094 567 2200 613 2137C660 2073 573 2212 673 2037C773 1861 833 1752 912 1610"/><path d="M589 2282C572 2280 528 2309 537 2277C547 2245 571 2250 617 2187C664 2124 619 2194 677 2087C736 1980 755 1940 794 1866"/><path d="M589 2282C580 2265 546 2277 564 2230C583 2183 598 2203 644 2140C691 2077 689 2137 704 2040C719 1943 694 1912 689 1848"/><path d="M680 2260C639 2249 571 2268 557 2227C542 2186 590 2200 637 2137C683 2074 663 2185 697 2037C730 1889 724 1808 737 1693"/><path d="M680 2260C632 2248 556 2265 534 2223C512 2180 568 2196 614 2133C661 2069 632 2198 674 2033C717 1867 719 1768 742 1635"/><path d="M680 2260C640 2252 572 2274 558 2236C543 2197 591 2209 638 2146C684 2082 616 2175 698 2046C779 1916 820 1854 882 1758"/><path d="M680 2260C643 2261 580 2292 569 2262C559 2233 603 2236 649 2172C696 2109 613 2199 709 2072C806 1945 862 1884 939 1790"/><path d="M502 2166C526 2189 522 2242 572 2235C622 2229 605 2209 652 2145C699 2082 688 2174 712 2045C736 1917 720 1854 724 1759"/><path d="M502 2166C524 2186 520 2237 568 2227C617 2217 602 2200 648 2137C695 2074 679 2185 708 2037C738 1889 728 1808 737 1693"/><path d="M502 2166C525 2186 521 2236 570 2225C619 2215 603 2199 650 2135C697 2072 697 2131 710 2035C723 1940 696 1911 689 1848"/><path d="M502 2166C515 2192 502 2247 541 2243C581 2238 575 2216 621 2153C668 2089 541 2109 681 2053C822 1997 923 2008 1044 1986"/><path d="M275 2284C365 2273 428 2291 544 2250C661 2208 578 2223 624 2160C671 2096 580 2183 684 2060C789 1937 854 1880 939 1790"/><path d="M275 2284C379 2277 457 2300 587 2263C718 2226 621 2237 667 2173C714 2110 666 2131 727 2073C789 2016 810 2024 851 2000"/><path d="M275 2284C368 2267 434 2280 553 2233C672 2186 586 2206 633 2143C679 2079 556 2095 693 2043C830 1990 927 2005 1044 1986"/><path d="M217 2484C324 2404 405 2353 538 2243C672 2132 572 2216 618 2153C665 2089 639 2206 678 2053C718 1900 718 1813 737 1693"/><path d="M257 1487C282 1477 244 1455 333 1457C421 1460 403 1468 523 1495C643 1523 604 1494 693 1540C781 1587 756 1603 788 1635"/><path d="M961 2029C1024 1976 1051 1939 1152 1871C1252 1804 1142 1846 1262 1826C1382 1806 1429 1817 1512 1812"/><path d="M912 1610C961 1577 960 1561 1058 1512C1157 1462 1115 1502 1208 1462C1302 1422 1266 1398 1338 1392C1410 1386 1396 1426 1425 1444"/><path d="M1031 1747C1036 1669 992 1607 1048 1511C1103 1416 1104 1501 1198 1461C1291 1421 1218 1415 1328 1391C1437 1367 1459 1390 1525 1389"/><path d="M1031 1747C1035 1672 989 1613 1043 1522C1098 1430 1100 1512 1193 1472C1287 1432 1246 1411 1323 1402C1401 1392 1391 1430 1425 1444"/><path d="M991 1740C1014 1666 987 1610 1059 1519C1132 1429 1116 1509 1209 1469C1302 1429 1188 1462 1339 1399C1491 1337 1556 1320 1664 1281"/><path d="M991 1740C1009 1667 977 1612 1045 1522C1112 1433 1101 1512 1195 1472C1288 1432 1141 1546 1325 1402C1508 1258 1604 1161 1744 1040"/><path d="M1053 1411C1053 1450 1004 1505 1055 1527C1106 1549 1112 1517 1205 1477C1299 1437 1156 1553 1335 1407C1515 1262 1608 1163 1744 1040"/><path d="M1709 1172C1660 1210 1663 1220 1561 1287C1459 1353 1455 1343 1403 1371"/><path d="M1709 1172C1664 1211 1631 1179 1573 1289C1515 1399 1547 1431 1534 1501"/><path d="M1709 1172C1663 1212 1839 1160 1572 1291C1305 1423 1129 1475 908 1566"/><path d="M1744 1040C1685 1129 1638 1151 1568 1305C1498 1458 1545 1436 1534 1501"/><path d="M1407 985C1425 996 1380 1086 1461 1017C1543 949 1589 858 1652 779"/><path d="M1407 985C1428 983 1357 962 1469 981C1581 999 1652 1021 1744 1040"/><path d="M1407 985C1429 998 1373 961 1473 1023C1574 1086 1630 1122 1709 1172"/><path d="M1320 1001C1375 1008 1345 1009 1487 1022C1628 1036 1658 1034 1744 1040"/><path d="M1320 1001C1365 1007 1326 964 1456 1021C1585 1078 1625 1122 1709 1172"/><path d="M1178 1084C1279 1065 1322 1129 1480 1027C1639 925 1595 862 1652 779"/><path d="M1178 1084C1274 1059 1360 1060 1466 1010C1571 961 1484 960 1493 934"/><path d="M1178 1084C1285 1059 1270 1136 1500 1010C1729 884 1744 808 1867 707"/><path d="M1178 1084C1284 1060 1336 948 1498 1014C1660 1080 1609 1192 1664 1281"/><path d="M1223 1234C1309 1149 1338 1129 1481 978C1624 826 1595 845 1652 779"/><path d="M1223 1234C1312 1153 1317 1056 1491 991C1664 927 1660 1024 1744 1040"/><path d="M1223 1234C1308 1153 1388 1090 1478 990C1568 890 1488 953 1493 934"/><path d="M1223 1234C1308 1161 1332 999 1479 1015C1625 1030 1602 1192 1664 1281"/><path d="M1271 1142C1341 1095 1322 1033 1479 999C1637 965 1656 1027 1744 1040"/><path d="M1271 1142C1348 1087 1356 966 1502 976C1648 986 1640 1107 1709 1172"/><path d="M1271 1142C1350 1103 1434 1095 1508 1026C1582 956 1498 965 1493 934"/><path d="M1320 1001C1369 945 1334 870 1467 832C1601 794 1636 869 1720 887"/><path d="M1254 891C1339 888 1377 921 1510 883C1642 846 1605 814 1652 779"/><path d="M1282 715C1348 749 1355 797 1479 818C1602 839 1594 792 1652 779"/><path d="M1282 715C1348 752 1285 829 1480 826C1675 823 1738 746 1867 707"/><path d="M1044 1986C1158 2046 1204 2020 1386 2166C1567 2312 1521 2338 1589 2424"/><path d="M1044 1986C1160 2055 1218 2008 1393 2193C1568 2378 1510 2425 1569 2541"/><path d="M961 2029C1111 2082 1180 2021 1411 2188C1643 2356 1574 2417 1655 2532"/><path d="M961 2029C1110 2077 1221 2042 1410 2172C1599 2303 1488 2338 1527 2421"/><path d="M1136 1986C1222 2048 1232 2055 1394 2171C1556 2288 1546 2281 1622 2335"/><path d="M1101 2141C1196 2149 1201 2036 1385 2166C1570 2296 1565 2410 1655 2532"/><path d="M1101 2141C1203 2152 1235 2111 1408 2175C1582 2240 1550 2282 1622 2335"/><path d="M1101 2141C1201 2158 1238 2099 1401 2193C1564 2288 1526 2347 1589 2424"/><path d="M410 1137L405 2264"/><path d="M410 1137L805 1606"/><path d="M410 1137L742 1635"/><path d="M410 1137L821 1581"/><path d="M410 1137L659 1711"/><path d="M252 1389L275 2284"/><path d="M252 1389L410 1137"/><path d="M410 1137L610 1559"/><path d="M410 1137L470 1227"/></g>
<g stroke-opacity="0.20"><path d="M689 1848L1013 2235"/><path d="M593 1747L882 1870"/><path d="M742 1635L1013 2235"/><path d="M610 1946L1013 2235"/><path d="M1031 1747L1144 1711"/><path d="M1031 1747L1201 1487"/><path d="M1031 1747L1070 1523"/><path d="M1031 1747L956 1458"/><path d="M1031 1747L939 1523"/><path d="M1031 1747L908 1675"/><path d="M1031 1747L1228 1581"/><path d="M1031 1747L1175 1617"/><path d="M1031 1747L1166 1574"/><path d="M1031 1747L1096 1603"/><path d="M991 1740L1109 1668"/><path d="M991 1740L1000 1440"/><path d="M991 1740L1000 1624"/><path d="M991 1740L1022 1494"/><path d="M991 1740L1044 1436"/><path d="M991 1740L939 1523"/><path d="M991 1740L1228 1581"/><path d="M991 1740L1127 1523"/><path d="M969 1812L1144 1711"/><path d="M969 1812L1109 1668"/><path d="M969 1812L1083 1718"/><path d="M969 1812L1201 1487"/><path d="M969 1812L1000 1624"/><path d="M969 1812L1031 1588"/><path d="M969 1812L1022 1494"/><path d="M969 1812L1044 1436"/><path d="M969 1812L956 1458"/><path d="M969 1812L965 1566"/><path d="M969 1812L919 1711"/><path d="M969 1812L1044 1364"/><path d="M969 1812L1096 1603"/><path d="M1026 1805L1144 1711"/><path d="M1026 1805L1109 1668"/><path d="M1026 1805L1083 1718"/><path d="M1026 1805L1053 1411"/><path d="M1026 1805L1000 1624"/><path d="M1026 1805L1070 1523"/><path d="M1026 1805L956 1458"/><path d="M1026 1805L908 1566"/><path d="M1026 1805L939 1523"/><path d="M1026 1805L965 1566"/><path d="M1026 1805L908 1675"/><path d="M1131 1812L1053 1411"/><path d="M1131 1812L1000 1624"/><path d="M1131 1812L956 1458"/><path d="M1131 1812L939 1523"/><path d="M1131 1812L965 1704"/><path d="M1131 1812L1228 1581"/><path d="M1131 1812L1175 1617"/><path d="M1131 1812L1166 1574"/><path d="M1131 1812L1044 1364"/><path d="M1175 1762L1109 1668"/><path d="M1175 1762L1053 1411"/><path d="M1175 1762L1000 1624"/><path d="M1175 1762L1022 1494"/><path d="M1175 1762L1044 1436"/><path d="M1175 1762L908 1566"/><path d="M1175 1762L996 1530"/><path d="M1175 1762L965 1566"/><path d="M1175 1762L965 1704"/><path d="M1144 1711L1109 1668"/><path d="M1144 1711L1083 1718"/><path d="M1144 1711L1053 1411"/><path d="M1144 1711L1031 1588"/><path d="M1144 1711L956 1458"/><path d="M1144 1711L908 1566"/><path d="M1144 1711L939 1523"/><path d="M1144 1711L996 1530"/><path d="M1144 1711L943 1646"/><path d="M1144 1711L908 1675"/><path d="M1144 1711L919 1711"/><path d="M1144 1711L1228 1581"/><path d="M1109 1668L1048 1668"/><path d="M1109 1668L1053 1411"/><path d="M1109 1668L1044 1436"/><path d="M1109 1668L912 1610"/><path d="M1109 1668L1166 1574"/><path d="M1109 1668L1096 1603"/><path d="M1083 1718L1053 1411"/><path d="M1083 1718L1044 1436"/><path d="M1083 1718L996 1530"/><path d="M1083 1718L965 1566"/><path d="M1083 1718L965 1704"/><path d="M1083 1718L1175 1617"/><path d="M1048 1668L1074 1805"/><path d="M1048 1668L1000 1624"/><path d="M1048 1668L1070 1523"/><path d="M1048 1668L1044 1436"/><path d="M1048 1668L956 1458"/><path d="M1048 1668L939 1523"/><path d="M1048 1668L965 1566"/><path d="M1048 1668L908 1675"/><path d="M1048 1668L965 1704"/><path d="M1048 1668L1175 1617"/><path d="M1074 1805L1000 1624"/><path d="M1074 1805L1031 1588"/><path d="M1074 1805L1070 1523"/><path d="M1074 1805L1044 1436"/><path d="M1074 1805L912 1610"/><path d="M1074 1805L939 1523"/><path d="M1074 1805L965 1566"/><path d="M1074 1805L908 1675"/><path d="M1074 1805L965 1704"/><path d="M1074 1805L1127 1523"/><path d="M1074 1805L1096 1603"/><path d="M1201 1487L1053 1411"/><path d="M1201 1487L996 1668"/><path d="M1201 1487L1070 1523"/><path d="M1201 1487L1022 1494"/><path d="M1201 1487L1044 1436"/><path d="M1201 1487L908 1566"/><path d="M1201 1487L912 1610"/><path d="M1201 1487L1044 1364"/><path d="M1184 1516L996 1668"/><path d="M1184 1516L1022 1494"/><path d="M1184 1516L908 1566"/><path d="M1184 1516L912 1610"/><path d="M1000 1440L1053 1411"/><path d="M1000 1440L996 1668"/><path d="M1000 1440L1070 1523"/><path d="M1000 1440L943 1646"/><path d="M1053 1411L996 1668"/><path d="M1053 1411L1000 1624"/><path d="M1053 1411L1162 1393"/><path d="M1053 1411L1070 1523"/><path d="M1053 1411L912 1610"/><path d="M1053 1411L939 1523"/><path d="M1053 1411L965 1704"/><path d="M1053 1411L1127 1523"/><path d="M996 1668L908 1675"/><path d="M996 1668L919 1711"/><path d="M996 1668L1127 1523"/><path d="M1000 1624L1022 1494"/><path d="M1000 1624L956 1458"/><path d="M1000 1624L908 1675"/><path d="M1000 1624L965 1704"/><path d="M1000 1624L919 1711"/><path d="M1000 1624L1127 1523"/><path d="M1000 1624L1044 1364"/><path d="M1031 1588L1022 1494"/><path d="M1031 1588L1044 1436"/><path d="M1031 1588L912 1610"/><path d="M1031 1588L939 1523"/><path d="M1031 1588L965 1566"/><path d="M1031 1588L965 1704"/><path d="M1031 1588L1127 1523"/><path d="M1031 1588L1096 1603"/><path d="M1162 1393L1044 1436"/><path d="M1162 1393L939 1523"/><path d="M1162 1393L965 1566"/><path d="M1162 1393L1044 1364"/><path d="M1070 1523L996 1530"/><path d="M1070 1523L965 1566"/><path d="M1070 1523L943 1646"/><path d="M1070 1523L1127 1523"/><path d="M1070 1523L1096 1603"/><path d="M1022 1494L1044 1436"/><path d="M1022 1494L919 1711"/><path d="M1022 1494L1096 1603"/><path d="M1044 1436L956 1458"/><path d="M1044 1436L912 1610"/><path d="M1044 1436L965 1566"/><path d="M1044 1436L943 1646"/><path d="M1044 1436L1044 1364"/><path d="M956 1458L996 1530"/><path d="M956 1458L965 1704"/><path d="M956 1458L919 1711"/><path d="M956 1458L1228 1581"/><path d="M956 1458L1127 1523"/><path d="M956 1458L1044 1364"/><path d="M908 1566L1175 1617"/><path d="M908 1566L1127 1523"/><path d="M908 1566L1096 1603"/><path d="M912 1610L908 1675"/><path d="M912 1610L919 1711"/><path d="M912 1610L1228 1581"/><path d="M912 1610L1175 1617"/><path d="M912 1610L1166 1574"/><path d="M912 1610L1096 1603"/><path d="M939 1523L908 1675"/><path d="M939 1523L965 1704"/><path d="M939 1523L919 1711"/><path d="M939 1523L1127 1523"/><path d="M939 1523L1044 1364"/><path d="M939 1523L1096 1603"/><path d="M996 1530L943 1646"/><path d="M996 1530L965 1704"/><path d="M996 1530L1166 1574"/><path d="M965 1566L943 1646"/><path d="M965 1566L908 1675"/><path d="M965 1566L919 1711"/><path d="M943 1646L965 1704"/><path d="M943 1646L1044 1364"/><path d="M943 1646L1096 1603"/><path d="M908 1675L965 1704"/><path d="M908 1675L919 1711"/><path d="M965 1704L1127 1523"/><path d="M965 1704L1096 1603"/><path d="M1228 1581L1175 1617"/><path d="M1228 1581L1166 1574"/><path d="M1166 1574L1127 1523"/><path d="M1166 1574L1044 1364"/><path d="M869 1444L904 1458"/><path d="M961 2029L939 1976"/><path d="M961 2029L1114 1906"/><path d="M961 2029L1188 1949"/><path d="M996 2080L1096 2065"/><path d="M996 2080L1175 2253"/><path d="M1044 1986L1188 2145"/><path d="M1044 1986L1221 2231"/><path d="M1114 1906L1096 2065"/><path d="M1136 1986L1101 2141"/><path d="M1136 1986L1341 2318"/><path d="M1101 2141L1188 2145"/><path d="M1101 2141L1175 2253"/><path d="M1516 2517L1843 2666"/><path d="M275 2284L354 2152"/><path d="M275 2284L502 2166"/><path d="M275 2284L680 2260"/><path d="M275 2284L589 2434"/><path d="M275 2284L413 2571"/><path d="M262 2383L265 2190"/><path d="M262 2383L506 2224"/><path d="M262 2383L405 2264"/><path d="M262 2383L484 2426"/><path d="M262 2383L346 2448"/><path d="M262 2383L589 2434"/><path d="M262 2383L413 2571"/><path d="M217 2484L265 2190"/><path d="M217 2484L545 2194"/><path d="M217 2484L506 2224"/><path d="M217 2484L589 2282"/><path d="M217 2484L405 2264"/><path d="M217 2484L484 2426"/><path d="M260 2499L589 2282"/><path d="M260 2499L452 2354"/><path d="M260 2499L346 2448"/><path d="M260 2499L680 2260"/><path d="M260 2499L549 2535"/><path d="M257 2590L265 2190"/><path d="M257 2590L502 2166"/><path d="M257 2590L545 2194"/><path d="M257 2590L589 2282"/><path d="M257 2590L405 2264"/><path d="M257 2590L346 2448"/><path d="M257 2590L413 2571"/><path d="M257 2590L549 2535"/><path d="M265 2190C341 2242 228 2468 217 2484"/><path d="M589 2282C565 2298 751 2066 755 2130"/><path d="M452 2354C467 2351 655 1993 606 2061"/><path d="M680 2260C620 2288 749 1945 755 1978"/><path d="M724 1759C729 1798 1027 1744 1026 1805"/><path d="M724 1759C730 1804 1029 1603 1031 1588"/><path d="M724 1759C730 1810 1024 1552 1022 1494"/><path d="M724 1759L856 1671"/><path d="M805 1747C788 1779 1030 1717 1031 1747"/><path d="M805 1747L996 1668"/><path d="M805 1747L781 1592"/><path d="M737 1693L943 1646"/><path d="M737 1693L781 1559"/><path d="M659 1711C684 1764 946 1585 908 1566"/><path d="M659 1711L816 1603"/><path d="M794 1866C778 1869 1030 1711 1031 1747"/><path d="M794 1866C774 1869 950 1588 908 1566"/><path d="M794 1866C777 1869 948 1615 912 1610"/><path d="M882 1758C841 1791 1102 1759 1131 1812"/><path d="M882 1758L1074 1805"/><path d="M882 1758L781 1592"/><path d="M882 1758L788 1635"/><path d="M882 1758L827 1646"/><path d="M939 1790C888 1812 981 1581 965 1566"/><path d="M939 1790L943 1646"/><path d="M939 1790C888 1812 807 1607 805 1606"/><path d="M939 1790C889 1812 815 1604 816 1603"/><path d="M939 1790L788 1635"/><path d="M939 1790L1118 1870"/><path d="M882 1870L965 1704"/><path d="M851 2000C806 1950 1008 1651 996 1668"/><path d="M851 2000C802 1945 963 1617 912 1610"/><path d="M880 2105C831 2027 989 1749 969 1812"/><path d="M1031 1747C1029 1707 845 1514 840 1516"/><path d="M1031 1747C1030 1711 818 1589 821 1581"/><path d="M1031 1747C1030 1715 841 1599 851 1595"/><path d="M1031 1747C1029 1704 771 1600 748 1595"/><path d="M1031 1747C1030 1713 815 1617 816 1621"/><path d="M1031 1747L867 1632"/><path d="M1031 1747L856 1671"/><path d="M1031 1747C1030 1716 823 1637 827 1646"/><path d="M1031 1747C1029 1707 1301 1652 1306 1639"/><path d="M991 1740C1001 1708 869 1517 875 1520"/><path d="M991 1740L856 1671"/><path d="M991 1740C1005 1696 1296 1813 1331 1798"/><path d="M991 1740C1000 1711 1201 1851 1188 1856"/><path d="M969 1812C985 1760 869 1561 875 1581"/><path d="M969 1812C986 1758 815 1604 816 1603"/><path d="M969 1812L867 1632"/><path d="M1026 1805L1210 1718"/><path d="M1131 1812C1100 1756 1413 1779 1403 1783"/><path d="M1131 1812C1093 1744 1457 1857 1460 1848"/><path d="M1131 1812L1101 1949"/><path d="M1131 1812L1188 1949"/><path d="M1175 1762L1271 1866"/><path d="M1175 1762L1328 1725"/><path d="M1144 1711L1118 1870"/><path d="M1144 1711L1328 1725"/><path d="M1083 1718C1065 1688 818 1590 821 1581"/><path d="M1083 1718C1068 1694 1263 1858 1271 1866"/><path d="M1083 1718C1066 1690 1067 2025 1044 1986"/><path d="M1048 1668L1201 1639"/><path d="M1184 1516L1247 1662"/><path d="M1000 1440L840 1516"/><path d="M1000 1440L842 1556"/><path d="M1000 1440C1007 1487 818 1588 821 1581"/><path d="M1053 1411C1046 1467 836 1487 829 1480"/><path d="M1053 1411C1046 1470 1244 1162 1223 1234"/><path d="M996 1668C1005 1656 865 1462 869 1444"/><path d="M996 1668L856 1671"/><path d="M996 1668C1004 1657 1150 1861 1118 1870"/><path d="M996 1668C1008 1651 1380 1568 1333 1588"/><path d="M1000 1624L875 1520"/><path d="M1000 1624L840 1516"/><path d="M1000 1624L851 1595"/><path d="M1000 1624L867 1632"/><path d="M1031 1588L895 1491"/><path d="M1031 1588L875 1520"/><path d="M1031 1588C1030 1598 836 1487 829 1480"/><path d="M1031 1588L882 1686"/><path d="M1070 1523C1059 1549 845 1544 842 1556"/><path d="M1070 1523L875 1581"/><path d="M1070 1523C1059 1550 1260 1679 1249 1678"/><path d="M1022 1494L829 1480"/><path d="M1044 1436L875 1520"/><path d="M1044 1436L840 1516"/><path d="M1044 1436C1039 1486 845 1543 842 1556"/><path d="M956 1458L805 1606"/><path d="M956 1458L851 1595"/><path d="M956 1458L816 1603"/><path d="M908 1566C949 1587 1040 1273 1011 1277"/><path d="M939 1523L816 1621"/><path d="M939 1523L882 1686"/><path d="M996 1530L821 1581"/><path d="M996 1530C1003 1554 789 1596 781 1592"/><path d="M965 1566L856 1487"/><path d="M965 1566L856 1671"/><path d="M908 1675L821 1581"/><path d="M965 1704C983 1681 837 1488 829 1480"/><path d="M965 1704L805 1606"/><path d="M965 1704L827 1646"/><path d="M919 1711L875 1581"/><path d="M919 1711L805 1606"/><path d="M1175 1617L1249 1678"/><path d="M1175 1617L1306 1639"/><path d="M1166 1574L1247 1662"/><path d="M910 1436L821 1581"/><path d="M904 1458L816 1603"/><path d="M895 1491L788 1635"/><path d="M875 1520L856 1671"/><path d="M875 1520L827 1646"/><path d="M856 1487L851 1595"/><path d="M856 1487L816 1603"/><path d="M829 1480L816 1621"/><path d="M781 1559L816 1621"/><path d="M781 1559L867 1632"/><path d="M781 1592L882 1686"/><path d="M1306 1790C1289 1802 1491 1639 1503 1675"/><path d="M1306 1790L1403 1942"/><path d="M1331 1798L1201 1639"/><path d="M1331 1798C1308 1807 1520 1753 1547 1747"/><path d="M1271 1866C1263 1859 1302 1649 1306 1639"/><path d="M1271 1866L1403 1783"/><path d="M1271 1866L1460 1848"/><path d="M1228 1805C1231 1814 1066 2023 1044 1986"/><path d="M1188 1856L1210 1718"/><path d="M1188 1856L1368 1790"/><path d="M1188 1856L1136 1986"/><path d="M1118 1870L1236 1949"/><path d="M1048 1866L1044 1986"/><path d="M1048 1866L1114 1906"/><path d="M1249 1678L1368 1790"/><path d="M1249 1678C1262 1679 1458 1855 1460 1848"/><path d="M1201 1639C1225 1650 1449 1616 1446 1646"/><path d="M1306 1639L1464 1552"/><path d="M1306 1639C1301 1651 1511 1511 1534 1501"/><path d="M1306 1639C1302 1651 1458 1855 1460 1848"/><path d="M1328 1725C1319 1714 1462 1548 1464 1552"/><path d="M1328 1725C1315 1710 1508 1513 1534 1501"/><path d="M1372 1697L1464 1552"/><path d="M1372 1697L1547 1747"/><path d="M1407 1682L1525 1610"/><path d="M1407 1682L1547 1747"/><path d="M1534 1501C1505 1514 1394 1783 1368 1790"/><path d="M1503 1675L1368 1790"/><path d="M1446 1646C1449 1618 1524 1854 1547 1848"/><path d="M1617 1581L1547 1747"/><path d="M1587 1668L1512 1812"/><path d="M1293 1408L1223 1234"/><path d="M1460 1754L1359 1884"/><path d="M1460 1754L1547 1848"/><path d="M1460 1754L1490 1921"/><path d="M1547 1747L1411 1870"/><path d="M1460 1848C1458 1855 1244 1948 1236 1949"/><path d="M1411 1870L1289 1942"/><path d="M1407 985C1367 980 1720 840 1720 887"/><path d="M1223 1234L1011 1277"/><path d="M452 2354C486 2326 494 2328 555 2270C616 2211 589 2243 635 2180C682 2116 661 2242 695 2080C729 1917 723 1822 737 1693"/><path d="M405 2264C464 2251 497 2269 583 2226C669 2183 616 2199 663 2136C709 2073 640 2211 723 2036C806 1861 849 1752 912 1610"/><path d="M405 2264C461 2262 490 2291 573 2259C656 2228 607 2233 653 2169C700 2106 583 2131 713 2069C843 2008 934 2013 1044 1986"/><path d="M484 2426C508 2377 506 2357 557 2278C609 2199 591 2251 637 2188C684 2125 626 2151 697 2088C769 2025 800 2029 851 2000"/><path d="M413 2571C460 2467 481 2393 554 2258C628 2124 588 2232 634 2168C681 2105 637 2209 694 2068C751 1928 768 1854 805 1747"/><path d="M346 2448C419 2388 466 2357 566 2267C666 2176 599 2240 646 2177C693 2113 676 2238 706 2077C737 1915 727 1821 737 1693"/><path d="M346 2448C410 2387 448 2355 538 2264C629 2173 572 2237 618 2174C665 2111 572 2202 678 2074C785 1946 852 1885 939 1790"/><path d="M346 2448C417 2383 462 2348 561 2252C659 2157 594 2226 641 2162C688 2099 631 2117 701 2062C771 2008 801 2021 851 2000"/><path d="M346 2448C411 2380 450 2342 542 2244C635 2146 576 2218 622 2154C669 2091 621 2237 682 2054C743 1872 764 1756 805 1606"/><path d="M549 2535C559 2448 543 2391 579 2274C616 2156 613 2247 659 2184C706 2120 692 2266 719 2084C747 1901 734 1785 742 1635"/><path d="M549 2535C547 2433 519 2362 543 2231C568 2099 577 2204 623 2141C670 2077 578 2158 683 2041C788 1924 854 1874 939 1790"/><path d="M549 2535C546 2441 516 2377 540 2254C563 2130 573 2227 620 2164C667 2100 584 2263 680 2064C776 1865 832 1732 908 1566"/><path d="M589 2282C583 2276 551 2300 572 2264C593 2228 605 2238 652 2174C699 2111 682 2254 712 2074C742 1895 732 1782 742 1635"/><path d="M589 2282C575 2266 534 2279 547 2233C560 2187 580 2206 627 2143C674 2080 583 2160 687 2043C791 1925 855 1875 939 1790"/><path d="M589 2282C577 2267 539 2283 555 2239C570 2194 588 2212 635 2149C681 2085 603 2243 695 2049C786 1855 837 1727 908 1566"/><path d="M680 2260C647 2252 587 2274 580 2235C573 2197 613 2209 660 2145C707 2082 672 2178 720 2045C768 1912 777 1846 805 1747"/><path d="M680 2260C631 2264 555 2297 532 2271C509 2244 565 2244 612 2181C659 2117 592 2141 672 2081C752 2020 792 2027 851 2000"/><path d="M680 2260C646 2253 584 2275 576 2237C568 2200 610 2211 656 2147C703 2084 706 2147 716 2047C727 1948 698 1915 689 1848"/><path d="M680 2260C643 2263 579 2297 568 2270C557 2243 601 2243 648 2180C695 2117 576 2145 708 2080C840 2015 932 2017 1044 1986"/><path d="M502 2166C528 2200 526 2264 578 2268C630 2272 611 2241 658 2178C705 2115 672 2182 718 2078C763 1974 769 1937 794 1866"/><path d="M502 2166C520 2203 512 2269 556 2276C601 2282 590 2249 636 2186C683 2122 606 2292 696 2086C787 1879 838 1739 908 1566"/><path d="M502 2166C530 2201 532 2266 586 2271C641 2276 620 2245 666 2181C713 2118 680 2273 726 2081C773 1890 779 1765 805 1606"/><path d="M275 2284C366 2272 431 2290 549 2248C667 2207 582 2222 629 2158C676 2095 651 2233 689 2058C727 1884 724 1776 742 1635"/><path d="M275 2284C366 2277 430 2300 547 2263C665 2226 581 2236 627 2173C674 2110 602 2211 687 2073C772 1935 817 1863 882 1758"/><path d="M275 2284C370 2271 438 2288 560 2246C681 2203 593 2219 640 2156C686 2092 648 2152 700 2056C751 1959 763 1929 794 1866"/><path d="M262 2383C367 2336 444 2318 576 2241C707 2163 609 2214 656 2151C702 2088 666 2185 716 2051C766 1916 775 1848 805 1747"/><path d="M262 2383C368 2340 448 2327 581 2255C714 2182 614 2228 661 2165C707 2101 672 2251 721 2065C769 1879 777 1759 805 1606"/><path d="M217 2484C328 2415 412 2375 550 2275C687 2176 583 2249 630 2185C676 2122 605 2228 690 2085C774 1943 818 1867 882 1758"/><path d="M217 2484C329 2406 415 2357 554 2249C693 2141 587 2222 634 2159C680 2096 640 2157 694 2059C747 1961 761 1931 794 1866"/><path d="M252 1389C278 1414 241 1426 331 1463C421 1501 401 1473 521 1501C641 1529 589 1553 691 1546C794 1539 783 1502 829 1480"/><path d="M252 1389C279 1414 242 1427 333 1465C423 1503 403 1476 523 1503C643 1531 587 1544 693 1548C799 1552 791 1527 840 1516"/><path d="M257 1487C283 1480 245 1460 335 1465C424 1470 405 1475 525 1503C645 1530 596 1522 695 1548C793 1574 779 1570 821 1581"/><path d="M257 1487C281 1480 242 1461 329 1466C417 1472 399 1477 519 1504C639 1532 574 1507 689 1549C805 1592 807 1604 867 1632"/><path d="M257 1487C281 1480 241 1460 329 1466C416 1471 399 1476 519 1504C639 1531 557 1513 689 1549C820 1584 838 1589 912 1610"/><path d="M257 1487C280 1480 240 1461 327 1467C414 1472 397 1477 517 1505C637 1532 612 1506 687 1550C762 1593 724 1607 742 1635"/><path d="M257 1487C280 1480 240 1461 327 1467C414 1473 397 1477 517 1505C637 1532 565 1489 687 1550C809 1610 817 1640 882 1686"/><path d="M1044 1986C1079 1946 1078 1921 1150 1866C1222 1811 1219 1821 1260 1821C1300 1821 1268 1851 1271 1866"/><path d="M1044 1986C1079 1947 1078 1923 1151 1869C1223 1815 1176 1853 1261 1824C1345 1795 1355 1797 1403 1783"/><path d="M1044 1986C1079 1943 1077 1916 1149 1858C1221 1801 1138 1829 1259 1813C1380 1798 1428 1813 1512 1812"/><path d="M961 2029C1025 1976 1052 1938 1153 1870C1254 1803 1224 1827 1263 1825C1303 1824 1269 1853 1271 1866"/><path d="M961 2029C1024 1973 1051 1933 1151 1863C1251 1792 1174 1815 1261 1818C1348 1820 1361 1852 1411 1870"/><path d="M961 2029C1021 1976 1045 1938 1142 1870C1240 1803 1180 1821 1252 1825C1325 1830 1323 1865 1359 1884"/><path d="M1136 1986C1139 1946 1105 1921 1145 1867C1185 1812 1150 1828 1255 1822C1360 1815 1391 1839 1460 1848"/><path d="M1136 1986C1139 1944 1106 1918 1147 1862C1187 1806 1171 1843 1257 1817C1342 1791 1354 1794 1403 1783"/><path d="M1096 2065C1113 1999 1093 1947 1146 1866C1199 1785 1229 1841 1256 1821C1283 1801 1237 1810 1228 1805"/><path d="M1096 2065C1117 1997 1100 1944 1157 1861C1214 1778 1200 1809 1267 1816C1334 1824 1328 1862 1359 1884"/><path d="M1096 2065C1112 2001 1092 1951 1145 1872C1197 1793 1132 1847 1255 1827C1377 1807 1426 1817 1512 1812"/><path d="M1118 1870C1128 1870 1102 1886 1149 1871C1196 1856 1218 1828 1259 1826C1300 1824 1267 1853 1271 1866"/><path d="M1118 1870C1129 1868 1102 1882 1149 1865C1196 1848 1186 1845 1259 1820C1332 1795 1332 1800 1368 1790"/><path d="M1048 1866C1080 1864 1075 1876 1143 1858C1212 1840 1179 1836 1253 1813C1328 1791 1330 1798 1368 1790"/><path d="M1131 1812C1138 1828 1108 1860 1151 1861C1194 1862 1192 1808 1261 1816C1330 1824 1326 1862 1359 1884"/><path d="M1031 1747C1068 1788 1069 1844 1143 1870C1217 1896 1225 1847 1253 1825C1281 1803 1236 1812 1228 1805"/><path d="M1031 1747C1071 1785 1074 1837 1151 1860C1228 1882 1158 1818 1261 1815C1364 1811 1393 1837 1460 1848"/><path d="M965 1566C997 1548 978 1547 1060 1512C1141 1478 1116 1502 1210 1462C1303 1422 1268 1399 1340 1392C1411 1386 1396 1427 1425 1444"/><path d="M1031 1747C1039 1668 997 1606 1055 1511C1113 1415 1112 1501 1205 1461C1299 1421 1226 1377 1335 1391C1445 1404 1468 1465 1534 1501"/><path d="M1031 1747C1038 1669 994 1608 1051 1514C1108 1419 1108 1504 1201 1464C1295 1424 1193 1405 1331 1394C1470 1382 1522 1417 1617 1429"/><path d="M1131 1812C1103 1713 1024 1631 1045 1516C1067 1401 1102 1506 1195 1466C1289 1426 1215 1421 1325 1396C1435 1370 1459 1392 1525 1389"/><path d="M1022 1494C1034 1500 996 1522 1058 1510C1121 1499 1115 1500 1208 1460C1302 1420 1266 1396 1338 1390C1410 1385 1396 1426 1425 1444"/><path d="M1053 1411C1049 1450 996 1506 1043 1529C1090 1552 1100 1519 1193 1479C1287 1439 1246 1421 1323 1409C1400 1397 1391 1432 1425 1444"/><path d="M805 1606C885 1577 915 1564 1045 1518C1175 1471 1101 1508 1195 1468C1288 1428 1255 1430 1325 1398C1394 1366 1377 1380 1403 1371"/><path d="M829 1480C903 1496 928 1529 1052 1528C1176 1528 1109 1518 1202 1478C1295 1438 1163 1510 1332 1408C1501 1306 1583 1251 1709 1172"/><path d="M1664 1281C1631 1291 1609 1238 1566 1312C1523 1385 1545 1438 1534 1501"/><path d="M1664 1281C1629 1288 1541 1434 1560 1303C1578 1172 1667 1026 1720 887"/><path d="M1709 1172C1657 1217 1652 1369 1552 1307C1451 1244 1455 1092 1407 985"/><path d="M1744 1040C1686 1128 1685 1192 1571 1302C1457 1413 1459 1348 1403 1371"/><path d="M1744 1040C1686 1123 1750 1138 1569 1287C1388 1436 1324 1420 1201 1487"/><path d="M1744 1040C1681 1125 1786 1171 1556 1295C1325 1418 1220 1372 1053 1411"/><path d="M1744 1040C1682 1128 1836 1129 1557 1305C1279 1480 1124 1479 908 1566"/><path d="M1744 1040C1678 1122 1659 1305 1547 1286C1435 1268 1454 1085 1407 985"/><path d="M1407 985C1436 991 1341 1097 1495 1004C1648 912 1743 806 1867 707"/><path d="M1407 985C1426 989 1378 899 1464 997C1549 1096 1597 1186 1664 1281"/><path d="M1320 1001C1368 991 1331 1010 1465 972C1598 934 1635 916 1720 887"/><path d="M1320 1001C1376 999 1379 1070 1490 997C1601 923 1598 851 1652 779"/><path d="M1320 1001C1379 1002 1382 911 1497 1004C1611 1098 1608 1189 1664 1281"/><path d="M1178 1084C1270 1060 1266 1026 1455 1012C1644 997 1648 1031 1744 1040"/><path d="M1223 1234C1310 1150 1318 1096 1484 981C1649 865 1642 918 1720 887"/><path d="M1223 1234C1307 1148 1311 997 1473 977C1635 956 1631 1107 1709 1172"/><path d="M1223 1234C1307 1156 1260 1175 1474 999C1689 823 1736 804 1867 707"/><path d="M1271 1142C1341 1098 1330 1095 1480 1010C1630 925 1640 928 1720 887"/><path d="M1271 1142C1335 1089 1336 1105 1463 984C1590 863 1589 847 1652 779"/><path d="M1271 1142C1343 1102 1289 1168 1488 1022C1686 877 1740 812 1867 707"/><path d="M1407 985C1429 953 1368 921 1472 888C1577 856 1638 888 1720 887"/><path d="M1407 985C1432 927 1399 881 1481 813C1563 744 1595 790 1652 779"/><path d="M1407 985C1433 943 1331 951 1485 858C1638 766 1739 757 1867 707"/><path d="M1407 985C1444 942 1397 1035 1519 856C1640 676 1686 583 1770 446"/><path d="M1320 1001C1366 951 1278 949 1460 851C1643 753 1731 755 1867 707"/><path d="M1320 1001C1380 949 1351 1030 1501 846C1651 661 1681 580 1770 446"/><path d="M1254 891C1345 872 1322 896 1527 835C1731 773 1753 749 1867 707"/><path d="M1254 891C1336 869 1327 974 1499 825C1672 677 1680 573 1770 446"/><path d="M1282 715C1364 772 1365 975 1528 886C1691 796 1690 593 1770 446"/><path d="M1463 495C1475 609 1415 706 1501 837C1587 967 1647 870 1720 887"/><path d="M1463 495C1484 622 1394 805 1528 875C1663 946 1754 763 1867 707"/><path d="M882 1758C875 1808 871 1808 860 1907C849 2007 844 1992 850 2057C857 2123 870 2089 880 2105"/><path d="M1096 2065C1127 2130 1137 2052 1187 2260C1237 2467 1227 2544 1247 2686"/><path d="M1044 1986C1160 2053 1200 2072 1393 2189C1585 2305 1545 2286 1622 2335"/><path d="M1136 1986C1220 2049 1258 2032 1389 2177C1519 2322 1481 2339 1527 2421"/><path d="M1096 2065C1194 2106 1204 2033 1390 2189C1576 2344 1567 2417 1655 2532"/><path d="M1131 1812C1225 1939 1260 1987 1413 2191C1565 2395 1530 2347 1589 2424"/><path d="M1331 1798C1354 1925 1320 1933 1399 2181C1478 2429 1512 2421 1569 2541"/><path d="M1011 1277C977 1374 943 1470 908 1566"/><path d="M1127 1274C1144 1210 1161 1147 1178 1084"/><path d="M1153 1243C1120 1299 1086 1355 1053 1411"/><path d="M1153 1243C1109 1327 1066 1410 1022 1494"/></g>
<g stroke-opacity="0.25"><path d="M354 2152L506 2224"/><path d="M354 2152L383 2686"/><path d="M506 2224L383 2686"/><path d="M506 2224L486 2730"/><path d="M805 1747L683 2105"/><path d="M805 1747L689 1975"/><path d="M805 1747L755 1978"/><path d="M659 1711L882 1870"/><path d="M659 1711L606 2061"/><path d="M659 1711L683 2105"/><path d="M659 1711L689 1975"/><path d="M659 1711L755 1978"/><path d="M659 1711L755 2130"/><path d="M593 1747L606 2061"/><path d="M593 1747L755 1978"/><path d="M593 1747L755 2130"/><path d="M593 1747L880 2105"/><path d="M794 1866L610 1946"/><path d="M742 1635L882 1870"/><path d="M742 1635L755 1978"/><path d="M882 1758L689 1975"/><path d="M882 1758L755 1978"/><path d="M882 1758L755 2130"/><path d="M882 1758L880 2105"/><path d="M939 1790L606 2061"/><path d="M939 1790L689 1975"/><path d="M882 1870L491 1799"/><path d="M882 1870L689 1975"/><path d="M882 1870L755 1978"/><path d="M882 1870L755 2130"/><path d="M882 1870L880 2105"/><path d="M491 1799L755 2130"/><path d="M610 1946L683 2105"/><path d="M610 1946L755 2130"/><path d="M606 2061L755 1978"/><path d="M689 1975L880 2105"/><path d="M851 2000L1013 2235"/><path d="M1031 1747L1175 1762"/><path d="M1031 1747L1053 1411"/><path d="M1031 1747L1000 1624"/><path d="M1031 1747L1031 1588"/><path d="M1031 1747L1022 1494"/><path d="M1031 1747L996 1530"/><path d="M1031 1747L943 1646"/><path d="M1031 1747L919 1711"/><path d="M991 1740L1031 1588"/><path d="M991 1740L956 1458"/><path d="M991 1740L996 1530"/><path d="M991 1740L965 1566"/><path d="M991 1740L943 1646"/><path d="M991 1740L1096 1603"/><path d="M969 1812L1131 1812"/><path d="M969 1812L1074 1805"/><path d="M969 1812L908 1566"/><path d="M969 1812L912 1610"/><path d="M969 1812L943 1646"/><path d="M1026 1805L1175 1762"/><path d="M1026 1805L1048 1668"/><path d="M1026 1805L996 1668"/><path d="M1026 1805L1022 1494"/><path d="M1026 1805L912 1610"/><path d="M1026 1805L965 1704"/><path d="M1131 1812L1175 1762"/><path d="M1131 1812L1144 1711"/><path d="M1131 1812L1109 1668"/><path d="M1131 1812L1031 1588"/><path d="M1131 1812L1070 1523"/><path d="M1131 1812L1022 1494"/><path d="M1131 1812L908 1566"/><path d="M1131 1812L996 1530"/><path d="M1131 1812L943 1646"/><path d="M1131 1812L919 1711"/><path d="M1131 1812L1096 1603"/><path d="M1175 1762L1144 1711"/><path d="M1175 1762L1083 1718"/><path d="M1175 1762L996 1668"/><path d="M1144 1711L1074 1805"/><path d="M1144 1711L996 1668"/><path d="M1144 1711L912 1610"/><path d="M1109 1668L1083 1718"/><path d="M1109 1668L1074 1805"/><path d="M1109 1668L1000 1624"/><path d="M1109 1668L1031 1588"/><path d="M1109 1668L1022 1494"/><path d="M1109 1668L908 1566"/><path d="M1109 1668L965 1704"/><path d="M1083 1718L1048 1668"/><path d="M1083 1718L1000 1624"/><path d="M1083 1718L1070 1523"/><path d="M1083 1718L956 1458"/><path d="M1083 1718L908 1566"/><path d="M1083 1718L912 1610"/><path d="M1083 1718L939 1523"/><path d="M1083 1718L943 1646"/><path d="M1048 1668L1031 1588"/><path d="M1048 1668L1022 1494"/><path d="M1048 1668L908 1566"/><path d="M1048 1668L912 1610"/><path d="M1048 1668L996 1530"/><path d="M1074 1805L908 1566"/><path d="M1000 1440L1022 1494"/><path d="M1000 1440L956 1458"/><path d="M1000 1440L908 1566"/><path d="M1000 1440L912 1610"/><path d="M1000 1440L965 1566"/><path d="M1053 1411L1031 1588"/><path d="M1053 1411L1022 1494"/><path d="M1053 1411L1044 1436"/><path d="M1053 1411L956 1458"/><path d="M1053 1411L908 1566"/><path d="M1053 1411L996 1530"/><path d="M1053 1411L1044 1364"/><path d="M996 1668L1031 1588"/><path d="M996 1668L1070 1523"/><path d="M996 1668L1022 1494"/><path d="M996 1668L956 1458"/><path d="M996 1668L1096 1603"/><path d="M1000 1624L1070 1523"/><path d="M1000 1624L908 1566"/><path d="M1000 1624L996 1530"/><path d="M1000 1624L943 1646"/><path d="M1031 1588L1070 1523"/><path d="M1031 1588L996 1530"/><path d="M1070 1523L1044 1436"/><path d="M1070 1523L956 1458"/><path d="M1070 1523L912 1610"/><path d="M1070 1523L965 1704"/><path d="M1022 1494L956 1458"/><path d="M1022 1494L912 1610"/><path d="M1022 1494L939 1523"/><path d="M1022 1494L996 1530"/><path d="M1022 1494L965 1566"/><path d="M1022 1494L943 1646"/><path d="M1022 1494L1044 1364"/><path d="M1044 1436L908 1566"/><path d="M1044 1436L939 1523"/><path d="M1044 1436L996 1530"/><path d="M956 1458L939 1523"/><path d="M956 1458L965 1566"/><path d="M908 1566L996 1530"/><path d="M908 1566L908 1675"/><path d="M908 1566L919 1711"/><path d="M908 1566L1044 1364"/><path d="M912 1610L965 1704"/><path d="M912 1610L1044 1364"/><path d="M939 1523L996 1530"/><path d="M939 1523L943 1646"/><path d="M965 1566L965 1704"/><path d="M965 1566L1044 1364"/><path d="M965 1566L1096 1603"/><path d="M943 1646L908 1675"/><path d="M943 1646L919 1711"/><path d="M910 1436L869 1444"/><path d="M869 1444L781 1559"/><path d="M875 1520L856 1487"/><path d="M875 1520L781 1559"/><path d="M856 1487L829 1480"/><path d="M856 1487L781 1559"/><path d="M851 1595L816 1621"/><path d="M748 1595L816 1621"/><path d="M816 1621L867 1632"/><path d="M856 1671L827 1646"/><path d="M1464 1552L1284 1509"/><path d="M1587 1668L1398 1624"/><path d="M1587 1668L1425 1444"/><path d="M1525 1610L1398 1624"/><path d="M1617 1429L1425 1444"/><path d="M1617 1429L1525 1389"/><path d="M1293 1408L1398 1624"/><path d="M1284 1509L1398 1624"/><path d="M1284 1509L1525 1389"/><path d="M1398 1624L1525 1389"/><path d="M961 2029L1101 2141"/><path d="M996 2080L1044 1986"/><path d="M996 2080L1136 1986"/><path d="M1114 1906L1136 1986"/><path d="M1096 2065L1175 2253"/><path d="M1718 2304L1843 2666"/><path d="M1718 2304L1705 2735"/><path d="M1622 2335L1766 2449"/><path d="M1622 2335L1843 2666"/><path d="M1558 2364L1527 2421"/><path d="M1558 2364L1516 2517"/><path d="M1558 2364L1569 2541"/><path d="M1558 2364L1705 2735"/><path d="M1589 2424L1766 2449"/><path d="M1589 2424L1843 2666"/><path d="M1527 2421L1516 2517"/><path d="M1527 2421L1604 2488"/><path d="M1527 2421L1766 2449"/><path d="M1516 2517L1569 2541"/><path d="M1516 2517L1600 2582"/><path d="M1516 2517L1766 2449"/><path d="M1569 2541L1600 2582"/><path d="M1569 2541L1705 2735"/><path d="M1604 2488L1766 2449"/><path d="M275 2284L405 2264"/><path d="M275 2284L549 2535"/><path d="M262 2383L502 2166"/><path d="M262 2383L545 2194"/><path d="M262 2383L452 2354"/><path d="M217 2484L354 2152"/><path d="M217 2484L441 2158"/><path d="M217 2484L452 2354"/><path d="M217 2484L346 2448"/><path d="M217 2484L589 2434"/><path d="M260 2499L354 2152"/><path d="M260 2499L502 2166"/><path d="M260 2499L506 2224"/><path d="M260 2499L405 2264"/><path d="M260 2499L484 2426"/><path d="M260 2499L413 2571"/><path d="M257 2590L452 2354"/><path d="M354 2152L275 2284"/><path d="M545 2194L606 2061"/><path d="M545 2194L683 2105"/><path d="M452 2354C467 2351 704 2018 683 2105"/><path d="M405 2264C433 2291 228 2469 217 2484"/><path d="M484 2426C486 2402 227 2470 217 2484"/><path d="M680 2260C616 2290 812 1957 851 2000"/><path d="M413 2571C435 2511 259 2397 262 2383"/><path d="M724 1759C728 1791 985 1760 969 1812"/><path d="M724 1759C729 1802 1040 1652 1048 1668"/><path d="M724 1759C730 1804 1056 1735 1074 1805"/><path d="M724 1759C728 1791 966 1640 943 1646"/><path d="M724 1759L908 1675"/><path d="M724 1759L919 1711"/><path d="M724 1759C729 1795 869 1516 875 1520"/><path d="M724 1759C729 1797 838 1489 829 1480"/><path d="M724 1759C728 1791 824 1519 812 1523"/><path d="M724 1759L851 1595"/><path d="M724 1759L827 1646"/><path d="M805 1747C788 1780 1026 1759 1026 1805"/><path d="M805 1747C780 1794 1093 1743 1131 1812"/><path d="M805 1747C788 1780 844 1514 840 1516"/><path d="M805 1747L842 1556"/><path d="M805 1747L821 1581"/><path d="M805 1747L856 1671"/><path d="M737 1693L812 1523"/><path d="M737 1693L875 1581"/><path d="M737 1693L851 1595"/><path d="M737 1693L816 1621"/><path d="M737 1693L856 1671"/><path d="M737 1693L827 1646"/><path d="M659 1711C680 1755 823 1519 812 1523"/><path d="M659 1711L805 1606"/><path d="M659 1711L781 1592"/><path d="M659 1711L748 1595"/><path d="M659 1711L788 1635"/><path d="M794 1866L882 1686"/><path d="M742 1635C741 1707 1002 1706 991 1740"/><path d="M742 1635L856 1671"/><path d="M882 1758L943 1646"/><path d="M882 1758L908 1675"/><path d="M882 1758C844 1789 870 1517 875 1520"/><path d="M882 1758L875 1581"/><path d="M851 2000C812 1957 1029 1705 1031 1747"/><path d="M851 2000C814 1959 1003 1702 991 1740"/><path d="M851 2000C823 1969 984 1766 969 1812"/><path d="M851 2000C818 1964 1027 1753 1026 1805"/><path d="M851 2000C809 1953 1092 1742 1131 1812"/><path d="M851 2000L1044 1986"/><path d="M1031 1747C1029 1702 839 1491 829 1480"/><path d="M1031 1747C1030 1711 807 1607 805 1606"/><path d="M1031 1747C1030 1711 795 1627 788 1635"/><path d="M1031 1747C1029 1706 1300 1811 1331 1798"/><path d="M1031 1747C1030 1711 1262 1858 1271 1866"/><path d="M1031 1747C1030 1716 1260 1679 1249 1678"/><path d="M1031 1747C1030 1715 1065 2020 1044 1986"/><path d="M991 1740C1002 1706 844 1514 840 1516"/><path d="M991 1740C1003 1701 838 1490 829 1480"/><path d="M991 1740C1002 1704 825 1519 812 1523"/><path d="M991 1740C1001 1707 790 1597 781 1592"/><path d="M991 1740L867 1632"/><path d="M991 1740L1118 1870"/><path d="M991 1740L1048 1866"/><path d="M991 1740L1210 1718"/><path d="M969 1812L1044 1986"/><path d="M1131 1812C1087 1732 808 1607 805 1606"/><path d="M1131 1812C1104 1763 1386 1785 1368 1790"/><path d="M1131 1812L1289 1942"/><path d="M1131 1812L1236 1949"/><path d="M1131 1812C1099 1755 1010 2056 961 2029"/><path d="M1144 1711L1306 1790"/><path d="M1144 1711L1271 1866"/><path d="M1109 1668L1228 1805"/><path d="M1109 1668L1249 1678"/><path d="M1109 1668L1306 1639"/><path d="M1083 1718C1067 1691 1304 1809 1331 1798"/><path d="M1083 1718L1249 1678"/><path d="M1083 1718L1210 1718"/><path d="M1083 1718L1201 1639"/><path d="M1048 1668C1043 1657 1230 1813 1228 1805"/><path d="M1048 1668L1247 1662"/><path d="M1074 1805C1061 1754 1305 1809 1331 1798"/><path d="M1074 1805L1044 1986"/><path d="M1000 1440L895 1491"/><path d="M1000 1440L875 1520"/><path d="M1000 1440L812 1523"/><path d="M1053 1411L910 1436"/><path d="M1053 1411L1153 1243"/><path d="M1053 1411L1011 1277"/><path d="M996 1668C1004 1656 836 1488 829 1480"/><path d="M996 1668C1004 1657 823 1519 812 1523"/><path d="M996 1668L851 1595"/><path d="M996 1668L816 1603"/><path d="M996 1668C1005 1656 766 1599 748 1595"/><path d="M996 1668L816 1621"/><path d="M996 1668C1007 1652 1281 1808 1306 1790"/><path d="M996 1668C1004 1656 1259 1667 1247 1662"/><path d="M996 1668L1201 1639"/><path d="M996 1668C1007 1653 1301 1653 1306 1639"/><path d="M1031 1588L875 1581"/><path d="M1070 1523L895 1491"/><path d="M1022 1494L910 1436"/><path d="M1022 1494L840 1516"/><path d="M1022 1494L851 1595"/><path d="M1044 1436L910 1436"/><path d="M956 1458L1011 1277"/><path d="M912 1610L904 1458"/><path d="M912 1610L748 1595"/><path d="M939 1523L856 1487"/><path d="M939 1523L867 1632"/><path d="M996 1530L910 1436"/><path d="M996 1530L856 1487"/><path d="M965 1566L869 1444"/><path d="M965 1566L827 1646"/><path d="M943 1646L875 1520"/><path d="M943 1646L805 1606"/><path d="M943 1646L856 1671"/><path d="M908 1675L842 1556"/><path d="M908 1675L851 1595"/><path d="M908 1675L788 1635"/><path d="M908 1675L856 1671"/><path d="M965 1704L875 1520"/><path d="M965 1704C981 1683 823 1519 812 1523"/><path d="M965 1704L875 1581"/><path d="M965 1704L781 1592"/><path d="M919 1711L851 1595"/><path d="M919 1711L856 1671"/><path d="M1228 1581L1333 1588"/><path d="M1175 1617L1247 1662"/><path d="M1166 1574L1201 1639"/><path d="M1044 1364C1039 1435 836 1488 829 1480"/><path d="M1044 1364L1127 1274"/><path d="M869 1444L805 1606"/><path d="M869 1444L851 1595"/><path d="M904 1458L821 1581"/><path d="M895 1491L851 1595"/><path d="M895 1491L748 1595"/><path d="M895 1491L867 1632"/><path d="M856 1487L805 1606"/><path d="M840 1516L816 1621"/><path d="M840 1516L827 1646"/><path d="M829 1480L788 1635"/><path d="M812 1523L856 1671"/><path d="M842 1556L882 1686"/><path d="M875 1581L788 1635"/><path d="M748 1595L882 1686"/><path d="M827 1646L882 1686"/><path d="M1306 1790L1446 1646"/><path d="M1306 1790L1460 1754"/><path d="M1306 1790L1289 1942"/><path d="M1331 1798L1503 1675"/><path d="M1331 1798L1403 1942"/><path d="M1331 1798L1236 1949"/><path d="M1271 1866L1247 1662"/><path d="M1271 1866L1411 1870"/><path d="M1228 1805L1306 1639"/><path d="M1228 1805L1403 1783"/><path d="M1228 1805L1289 1942"/><path d="M1188 1856L1249 1678"/><path d="M1118 1870L1210 1718"/><path d="M1118 1870L1044 1986"/><path d="M1247 1662C1259 1667 1490 1635 1503 1675"/><path d="M1247 1662L1368 1790"/><path d="M1247 1662C1259 1667 1385 1881 1359 1884"/><path d="M1249 1678L1284 1509"/><path d="M1306 1639L1284 1509"/><path d="M1328 1725L1411 1870"/><path d="M1328 1725L1359 1884"/><path d="M1372 1697L1460 1754"/><path d="M1372 1697L1460 1848"/><path d="M1372 1697L1411 1870"/><path d="M1407 1682L1359 1884"/><path d="M1464 1552L1547 1747"/><path d="M1503 1675L1512 1812"/><path d="M1446 1646L1460 1848"/><path d="M1446 1646L1512 1812"/><path d="M1617 1429L1664 1281"/><path d="M1333 1588L1403 1783"/><path d="M1525 1389L1664 1281"/><path d="M1368 1790L1403 1942"/><path d="M1368 1790L1512 1812"/><path d="M1403 1783L1547 1848"/><path d="M1403 1783L1289 1942"/><path d="M1460 1754L1411 1870"/><path d="M1547 1747L1547 1848"/><path d="M1359 1884L1289 1942"/><path d="M1403 1942L1289 1942"/><path d="M1236 1949L1136 1986"/><path d="M1223 1234L1127 1274"/><path d="M1178 1084L1153 1243"/><path d="M1720 887L1744 1040"/><path d="M252 1389C277 1412 239 1424 328 1460C417 1496 398 1470 518 1498C638 1526 580 1524 688 1543C796 1562 791 1551 842 1556"/><path d="M257 1487C283 1479 245 1459 334 1464C424 1469 404 1474 524 1502C644 1529 599 1540 694 1547C790 1554 773 1531 812 1523"/><path d="M1044 1986C1081 1947 1081 1924 1155 1871C1229 1818 1195 1853 1265 1826C1336 1799 1334 1802 1368 1790"/><path d="M1136 1986C1139 1946 1106 1922 1145 1867C1185 1813 1202 1848 1255 1822C1309 1797 1289 1801 1306 1790"/><path d="M1096 2065C1114 1996 1095 1942 1150 1859C1204 1775 1219 1811 1260 1814C1300 1816 1267 1849 1271 1866"/><path d="M1096 2065C1116 1998 1099 1946 1155 1864C1211 1782 1194 1844 1265 1819C1336 1795 1333 1800 1368 1790"/><path d="M1101 2141C1119 2049 1101 1971 1157 1864C1212 1756 1243 1838 1267 1819C1290 1799 1241 1810 1228 1805"/><path d="M1101 2141C1116 2051 1095 1976 1148 1872C1200 1767 1170 1827 1258 1827C1346 1826 1360 1856 1411 1870"/><path d="M1101 2141C1116 2050 1096 1974 1148 1868C1200 1762 1185 1849 1258 1823C1331 1797 1331 1801 1368 1790"/><path d="M1118 1870C1127 1871 1100 1886 1145 1872C1191 1858 1202 1854 1255 1827C1309 1800 1289 1803 1306 1790"/><path d="M1118 1870C1131 1867 1107 1879 1156 1861C1205 1843 1165 1820 1266 1816C1367 1812 1395 1837 1460 1848"/><path d="M1118 1870C1131 1869 1107 1884 1156 1868C1205 1852 1180 1822 1266 1823C1351 1824 1363 1854 1411 1870"/><path d="M1048 1866C1080 1867 1076 1883 1145 1869C1214 1855 1193 1848 1255 1824C1317 1800 1306 1807 1331 1798"/><path d="M1048 1866C1080 1864 1074 1877 1142 1860C1210 1843 1209 1813 1252 1815C1295 1817 1265 1849 1271 1866"/><path d="M1048 1866C1080 1866 1074 1880 1143 1864C1211 1848 1147 1824 1253 1819C1358 1814 1391 1839 1460 1848"/><path d="M1048 1866C1083 1868 1081 1886 1152 1873C1224 1860 1193 1824 1262 1828C1331 1832 1327 1866 1359 1884"/><path d="M1048 1866C1082 1866 1079 1880 1150 1864C1221 1848 1139 1837 1260 1819C1381 1802 1428 1814 1512 1812"/><path d="M1131 1812C1138 1829 1108 1861 1151 1863C1195 1865 1210 1842 1261 1818C1313 1794 1291 1800 1306 1790"/><path d="M1131 1812C1139 1828 1109 1859 1154 1859C1198 1860 1178 1811 1264 1814C1350 1818 1362 1851 1411 1870"/><path d="M1131 1812C1135 1828 1103 1859 1143 1859C1184 1860 1178 1837 1253 1814C1328 1791 1329 1798 1368 1790"/><path d="M1131 1812C1140 1829 1112 1860 1158 1862C1203 1863 1150 1833 1268 1817C1386 1800 1431 1814 1512 1812"/><path d="M1031 1747C1073 1786 1078 1840 1157 1864C1236 1887 1229 1818 1267 1819C1305 1819 1270 1850 1271 1866"/><path d="M1031 1747C1072 1788 1076 1844 1154 1870C1232 1896 1196 1820 1264 1825C1332 1830 1327 1865 1359 1884"/><path d="M1031 1747C1069 1789 1071 1845 1146 1871C1221 1898 1170 1856 1256 1826C1342 1797 1354 1798 1403 1783"/><path d="M908 1566C953 1553 948 1556 1043 1526C1138 1496 1099 1516 1193 1476C1286 1436 1151 1507 1323 1406C1495 1305 1580 1250 1709 1172"/><path d="M996 1668C1013 1616 981 1581 1049 1513C1117 1444 1106 1503 1199 1463C1292 1423 1218 1380 1329 1393C1441 1405 1466 1465 1534 1501"/><path d="M1031 1747C1039 1673 997 1615 1055 1524C1113 1433 1112 1514 1205 1474C1298 1434 1155 1549 1335 1404C1515 1260 1608 1162 1744 1040"/><path d="M991 1740C1008 1665 976 1607 1043 1516C1110 1424 1099 1506 1193 1466C1286 1426 1253 1427 1323 1396C1393 1364 1376 1379 1403 1371"/><path d="M939 1523C974 1520 960 1534 1045 1515C1131 1495 1102 1505 1195 1465C1288 1425 1249 1401 1325 1395C1402 1388 1391 1427 1425 1444"/><path d="M1131 1812C1106 1712 1030 1629 1054 1512C1079 1396 1111 1502 1204 1462C1298 1422 1166 1489 1334 1392C1503 1296 1584 1245 1709 1172"/><path d="M812 1523C890 1525 919 1543 1047 1528C1176 1513 1104 1518 1197 1478C1291 1438 1145 1554 1327 1408C1510 1262 1605 1163 1744 1040"/><path d="M1664 1281C1629 1291 1715 1242 1560 1310C1406 1379 1321 1428 1201 1487"/><path d="M1664 1281C1631 1289 1769 1262 1565 1306C1361 1349 1223 1376 1053 1411"/><path d="M1664 1281C1633 1283 1657 1386 1571 1287C1485 1189 1462 1086 1407 985"/><path d="M1709 1172C1663 1215 1788 1220 1569 1300C1351 1380 1225 1374 1053 1411"/><path d="M1709 1172C1663 1213 1567 1389 1571 1294C1575 1199 1671 1023 1720 887"/><path d="M1407 985C1437 989 1391 1030 1496 998C1600 965 1645 924 1720 887"/><path d="M1407 985C1422 990 1424 1017 1453 1001C1481 984 1480 956 1493 934"/><path d="M1320 1001C1364 993 1396 1001 1454 979C1512 956 1480 949 1493 934"/><path d="M1320 1001C1370 998 1288 1089 1470 991C1652 893 1734 801 1867 707"/><path d="M1178 1084C1285 1055 1320 1064 1501 998C1682 933 1647 924 1720 887"/><path d="M1178 1084C1276 1047 1296 944 1473 974C1650 1003 1630 1106 1709 1172"/><path d="M1271 1142C1333 1101 1325 972 1455 1018C1586 1064 1594 1193 1664 1281"/><path d="M1254 891C1330 886 1326 877 1481 876C1637 875 1641 883 1720 887"/><path d="M1282 715C1353 762 1350 799 1497 857C1643 914 1646 877 1720 887"/><path d="M1463 495C1476 601 1439 717 1502 812C1565 907 1602 790 1652 779"/><path d="M1463 495C1469 601 1378 828 1480 812C1583 796 1674 568 1770 446"/><path d="M805 1747C822 1797 842 1798 855 1898C869 1998 847 2014 845 2048C844 2082 849 2016 851 2000"/><path d="M805 1747C825 1800 847 1804 863 1907C879 2011 889 1983 853 2057C817 2131 788 2106 755 2130"/><path d="M742 1635C782 1723 826 1761 863 1899C900 2036 793 2020 853 2049C913 2078 980 2007 1044 1986"/><path d="M882 1758C875 1806 872 1803 861 1901C851 1999 887 1975 851 2051C816 2127 787 2104 755 2130"/><path d="M882 1686C873 1755 867 1774 854 1893C842 2012 836 1973 844 2043C853 2114 868 2084 880 2105"/><path d="M882 1686C877 1757 875 1778 867 1898C858 2019 894 1971 857 2048C819 2126 789 2103 755 2130"/><path d="M1096 2065C1128 2127 1116 2153 1190 2249C1265 2346 1276 2319 1320 2354"/><path d="M1175 2253C1179 2258 1168 2164 1187 2268C1206 2373 1217 2468 1232 2567"/><path d="M1175 2253C1184 2253 1145 2231 1201 2252C1256 2274 1294 2296 1341 2318"/><path d="M1044 1986C1037 2074 1036 2117 1024 2250C1013 2382 1014 2339 1009 2383"/><path d="M1101 2141C1073 2177 1046 2217 1017 2248C988 2279 1014 2239 1013 2235"/><path d="M1136 1986C1228 2050 1262 2032 1413 2178C1564 2324 1530 2342 1589 2424"/><path d="M1096 2065C1202 2104 1248 2063 1413 2182C1577 2302 1530 2344 1589 2424"/><path d="M1101 2141C1200 2157 1243 2057 1399 2190C1555 2323 1512 2424 1569 2541"/><path d="M1331 1798C1352 1921 1297 1990 1393 2169C1490 2348 1545 2280 1622 2335"/><path d="M1011 1277C1025 1322 1039 1367 1053 1411"/><path d="M1011 1277C1022 1306 1033 1335 1044 1364"/><path d="M1011 1277C1143 1180 1275 1082 1407 985"/><path d="M1011 1277C1015 1350 1018 1422 1022 1494"/><path d="M1127 1274C1220 1177 1314 1081 1407 985"/><path d="M1127 1274C1139 1314 1150 1353 1162 1393"/><path d="M1153 1243C1161 1190 1170 1137 1178 1084"/></g>
<g stroke-opacity="0.30"><path d="M265 2190L441 2158"/><path d="M265 2190L545 2194"/><path d="M265 2190L484 2426"/><path d="M265 2190L413 2571"/><path d="M354 2152L484 2426"/><path d="M354 2152L680 2260"/><path d="M441 2158L545 2194"/><path d="M441 2158L346 2448"/><path d="M441 2158L549 2535"/><path d="M441 2158L486 2730"/><path d="M502 2166L506 2224"/><path d="M545 2194L452 2354"/><path d="M545 2194L346 2448"/><path d="M545 2194L744 2419"/><path d="M545 2194L383 2686"/><path d="M506 2224L589 2282"/><path d="M506 2224L680 2260"/><path d="M506 2224L744 2419"/><path d="M589 2282L484 2426"/><path d="M589 2282L549 2535"/><path d="M452 2354L484 2426"/><path d="M452 2354L680 2260"/><path d="M452 2354L589 2434"/><path d="M452 2354L413 2571"/><path d="M452 2354L486 2730"/><path d="M405 2264L680 2260"/><path d="M405 2264L744 2419"/><path d="M405 2264L486 2730"/><path d="M484 2426L589 2434"/><path d="M484 2426L744 2419"/><path d="M484 2426L549 2535"/><path d="M346 2448L744 2419"/><path d="M346 2448L549 2535"/><path d="M680 2260L589 2434"/><path d="M589 2434L413 2571"/><path d="M744 2419L413 2571"/><path d="M413 2571L383 2686"/><path d="M413 2571L486 2730"/><path d="M275 2284L260 2499"/><path d="M724 1759L737 1693"/><path d="M724 1759L882 1870"/><path d="M724 1759L580 1848"/><path d="M724 1759L851 2000"/><path d="M724 1759L1013 2235"/><path d="M805 1747L689 1848"/><path d="M805 1747L610 1946"/><path d="M805 1747L606 2061"/><path d="M805 1747L880 2105"/><path d="M737 1693L593 1747"/><path d="M737 1693L882 1758"/><path d="M737 1693L882 1870"/><path d="M737 1693L610 1946"/><path d="M737 1693L606 2061"/><path d="M737 1693L755 1978"/><path d="M737 1693L755 2130"/><path d="M659 1711L851 2000"/><path d="M689 1848L939 1790"/><path d="M689 1848L580 1848"/><path d="M593 1747L742 1635"/><path d="M593 1747L882 1758"/><path d="M593 1747L939 1790"/><path d="M593 1747L610 1946"/><path d="M593 1747L689 1975"/><path d="M794 1866L882 1758"/><path d="M794 1866L491 1799"/><path d="M794 1866L755 1978"/><path d="M794 1866L1013 2235"/><path d="M742 1635L491 1799"/><path d="M742 1635L683 2105"/><path d="M742 1635L689 1975"/><path d="M742 1635L851 2000"/><path d="M742 1635L755 2130"/><path d="M742 1635L880 2105"/><path d="M882 1758L882 1870"/><path d="M882 1758L580 1848"/><path d="M882 1758L491 1799"/><path d="M882 1758L606 2061"/><path d="M882 1758L683 2105"/><path d="M939 1790L580 1848"/><path d="M939 1790L491 1799"/><path d="M939 1790L755 2130"/><path d="M580 1848L606 2061"/><path d="M580 1848L755 1978"/><path d="M580 1848L755 2130"/><path d="M491 1799L610 1946"/><path d="M491 1799L683 2105"/><path d="M491 1799L755 1978"/><path d="M610 1946L689 1975"/><path d="M610 1946L755 1978"/><path d="M606 2061L689 1975"/><path d="M683 2105L755 2130"/><path d="M689 1975L851 2000"/><path d="M689 1975L755 2130"/><path d="M880 2105L1013 2235"/><path d="M1031 1747L969 1812"/><path d="M1031 1747L1026 1805"/><path d="M1031 1747L1131 1812"/><path d="M1031 1747L1109 1668"/><path d="M1031 1747L1048 1668"/><path d="M1031 1747L908 1566"/><path d="M1031 1747L965 1704"/><path d="M991 1740L1026 1805"/><path d="M991 1740L1083 1718"/><path d="M991 1740L1048 1668"/><path d="M991 1740L1074 1805"/><path d="M991 1740L908 1566"/><path d="M991 1740L912 1610"/><path d="M991 1740L919 1711"/><path d="M969 1812L1026 1805"/><path d="M969 1812L965 1704"/><path d="M1026 1805L1074 1805"/><path d="M1131 1812L1048 1668"/><path d="M1131 1812L996 1668"/><path d="M1131 1812L912 1610"/><path d="M1131 1812L965 1566"/><path d="M1109 1668L996 1668"/><path d="M1083 1718L1074 1805"/><path d="M1048 1668L996 1668"/><path d="M1074 1805L996 1668"/><path d="M1053 1411L965 1566"/><path d="M996 1668L939 1523"/><path d="M996 1668L996 1530"/><path d="M996 1668L943 1646"/><path d="M996 1668L965 1704"/><path d="M1000 1624L965 1566"/><path d="M1031 1588L908 1566"/><path d="M1070 1523L1022 1494"/><path d="M1070 1523L908 1566"/><path d="M1022 1494L908 1566"/><path d="M956 1458L912 1610"/><path d="M908 1566L912 1610"/><path d="M910 1436L856 1487"/><path d="M910 1436L840 1516"/><path d="M910 1436L842 1556"/><path d="M869 1444L895 1491"/><path d="M869 1444L875 1520"/><path d="M904 1458L856 1487"/><path d="M904 1458L840 1516"/><path d="M904 1458L829 1480"/><path d="M904 1458L812 1523"/><path d="M904 1458L781 1559"/><path d="M895 1491L875 1520"/><path d="M895 1491L856 1487"/><path d="M895 1491L781 1559"/><path d="M895 1491L875 1581"/><path d="M856 1487L840 1516"/><path d="M856 1487L812 1523"/><path d="M840 1516L812 1523"/><path d="M840 1516L781 1559"/><path d="M829 1480L812 1523"/><path d="M812 1523L781 1559"/><path d="M805 1606L856 1671"/><path d="M851 1595L816 1603"/><path d="M851 1595L788 1635"/><path d="M851 1595L856 1671"/><path d="M851 1595L827 1646"/><path d="M781 1592L816 1621"/><path d="M781 1592L856 1671"/><path d="M816 1603L748 1595"/><path d="M816 1603L856 1671"/><path d="M748 1595L867 1632"/><path d="M816 1621L788 1635"/><path d="M816 1621L856 1671"/><path d="M816 1621L827 1646"/><path d="M788 1635L856 1671"/><path d="M788 1635L827 1646"/><path d="M867 1632L827 1646"/><path d="M1337 1848L1306 1790"/><path d="M1337 1848L1331 1798"/><path d="M1337 1848L1228 1805"/><path d="M1306 1790L1228 1805"/><path d="M1331 1798L1271 1866"/><path d="M1331 1798L1228 1805"/><path d="M1331 1798L1118 1870"/><path d="M1331 1798L1048 1866"/><path d="M1223 1902L1271 1866"/><path d="M1223 1902L1188 1856"/><path d="M1271 1866L1188 1856"/><path d="M1271 1866L1118 1870"/><path d="M1228 1805L1118 1870"/><path d="M1188 1856L1118 1870"/><path d="M1247 1662L1249 1678"/><path d="M1247 1662L1407 1682"/><path d="M1210 1718L1328 1725"/><path d="M1306 1639L1328 1725"/><path d="M1306 1639L1407 1682"/><path d="M1464 1552L1587 1668"/><path d="M1464 1552L1333 1588"/><path d="M1534 1501L1617 1581"/><path d="M1534 1501L1617 1429"/><path d="M1534 1501L1284 1509"/><path d="M1534 1501L1425 1444"/><path d="M1503 1675L1398 1624"/><path d="M1446 1646L1284 1509"/><path d="M1617 1581L1587 1668"/><path d="M1587 1668L1617 1429"/><path d="M1587 1668L1333 1588"/><path d="M1525 1610L1425 1444"/><path d="M1525 1610L1525 1389"/><path d="M1525 1610L1403 1371"/><path d="M1617 1429L1333 1588"/><path d="M1617 1429L1398 1624"/><path d="M1368 1501L1398 1624"/><path d="M1293 1408L1525 1389"/><path d="M1293 1408L1403 1371"/><path d="M1284 1509L1333 1588"/><path d="M1333 1588L1398 1624"/><path d="M1333 1588L1525 1389"/><path d="M1425 1444L1525 1389"/><path d="M1425 1444L1403 1371"/><path d="M1368 1790L1460 1754"/><path d="M1403 1783L1547 1747"/><path d="M1411 1870L1359 1884"/><path d="M1359 1884L1547 1848"/><path d="M961 2029L1096 2065"/><path d="M1044 1986L1188 1949"/><path d="M1044 1986L1096 2065"/><path d="M1044 1986L1101 2141"/><path d="M1044 1986L1175 2253"/><path d="M1136 1986L1188 1949"/><path d="M1096 2065L1101 2141"/><path d="M1718 2304L1622 2335"/><path d="M1718 2304L1589 2424"/><path d="M1718 2304L1527 2421"/><path d="M1718 2304L1604 2488"/><path d="M1718 2304L1600 2582"/><path d="M1622 2335L1589 2424"/><path d="M1622 2335L1655 2532"/><path d="M1622 2335L1705 2735"/><path d="M1558 2364L1589 2424"/><path d="M1558 2364L1604 2488"/><path d="M1558 2364L1766 2449"/><path d="M1558 2364L1843 2666"/><path d="M1589 2424L1516 2517"/><path d="M1589 2424L1600 2582"/><path d="M1589 2424L1705 2735"/><path d="M1527 2421L1569 2541"/><path d="M1527 2421L1600 2582"/><path d="M1527 2421L1843 2666"/><path d="M1527 2421L1705 2735"/><path d="M1569 2541L1604 2488"/><path d="M1569 2541L1766 2449"/><path d="M1604 2488L1600 2582"/><path d="M1604 2488L1843 2666"/><path d="M1604 2488L1705 2735"/><path d="M1600 2582L1766 2449"/><path d="M1766 2449L1843 2666"/><path d="M1766 2449L1705 2735"/><path d="M1843 2666L1705 2735"/><path d="M1407 985L1178 1084"/><path d="M1320 1001L1271 1142"/><path d="M1320 1001L1178 1084"/><path d="M1320 1001L1254 891"/><path d="M1271 1142L1223 1234"/><path d="M1271 1142L1178 1084"/><path d="M1223 1234L1178 1084"/><path d="M1223 1234L1282 715"/><path d="M1178 1084L1463 495"/><path d="M252 1389L257 1487"/><path d="M275 2284L265 2190"/><path d="M217 2484L680 2260"/><path d="M265 2190L275 2284"/><path d="M502 2166L606 2061"/><path d="M452 2354C464 2352 227 2470 217 2484"/><path d="M346 2448L262 2383"/><path d="M680 2260L683 2105"/><path d="M680 2260L755 2130"/><path d="M680 2260C628 2284 840 2040 880 2105"/><path d="M724 1759L781 1592"/><path d="M805 1747L991 1740"/><path d="M805 1747L912 1610"/><path d="M805 1747L919 1711"/><path d="M805 1747L805 1606"/><path d="M805 1747L788 1635"/><path d="M737 1693L912 1610"/><path d="M737 1693L821 1581"/><path d="M794 1866L969 1812"/><path d="M742 1635L895 1491"/><path d="M742 1635L875 1520"/><path d="M742 1635L840 1516"/><path d="M742 1635L829 1480"/><path d="M742 1635L827 1646"/><path d="M742 1635L882 1686"/><path d="M882 1758L821 1581"/><path d="M882 1758L867 1632"/><path d="M939 1790L1083 1718"/><path d="M939 1790L1048 1668"/><path d="M939 1790L882 1686"/><path d="M1031 1747C1029 1705 827 1518 812 1523"/><path d="M1031 1747L1118 1870"/><path d="M1031 1747L1048 1866"/><path d="M991 1740L875 1581"/><path d="M991 1740C1001 1710 818 1588 821 1581"/><path d="M991 1740L882 1686"/><path d="M969 1812L1048 1866"/><path d="M1131 1812L1271 1866"/><path d="M1131 1812L1247 1662"/><path d="M1131 1812L1201 1639"/><path d="M1131 1812L1328 1725"/><path d="M1175 1762L1247 1662"/><path d="M1175 1762L1249 1678"/><path d="M1144 1711L1247 1662"/><path d="M1144 1711L1201 1639"/><path d="M1109 1668L1247 1662"/><path d="M1083 1718L1228 1805"/><path d="M1083 1718L1247 1662"/><path d="M1074 1805L1228 1805"/><path d="M1074 1805L1188 1856"/><path d="M996 1668L895 1491"/><path d="M996 1668L842 1556"/><path d="M996 1668L875 1581"/><path d="M996 1668L805 1606"/><path d="M1070 1523L875 1520"/><path d="M1022 1494L895 1491"/><path d="M1022 1494L842 1556"/><path d="M956 1458L875 1581"/><path d="M908 1566L869 1444"/><path d="M908 1566L904 1458"/><path d="M908 1566L781 1559"/><path d="M908 1566L748 1595"/><path d="M908 1566L788 1635"/><path d="M908 1566L856 1671"/><path d="M912 1610L910 1436"/><path d="M912 1610L827 1646"/><path d="M939 1523L910 1436"/><path d="M939 1523L869 1444"/><path d="M939 1523L805 1606"/><path d="M939 1523L816 1603"/><path d="M996 1530L904 1458"/><path d="M996 1530L875 1520"/><path d="M996 1530L840 1516"/><path d="M996 1530L875 1581"/><path d="M965 1566L910 1436"/><path d="M965 1566L904 1458"/><path d="M965 1566L805 1606"/><path d="M965 1566L821 1581"/><path d="M965 1566L781 1592"/><path d="M943 1646L829 1480"/><path d="M943 1646L812 1523"/><path d="M943 1646L851 1595"/><path d="M965 1704L882 1686"/><path d="M1228 1581L1247 1662"/><path d="M1228 1581L1201 1639"/><path d="M1044 1364L1011 1277"/><path d="M895 1491L805 1606"/><path d="M875 1520L781 1592"/><path d="M875 1520L816 1621"/><path d="M875 1520L867 1632"/><path d="M840 1516L851 1595"/><path d="M840 1516L788 1635"/><path d="M829 1480L851 1595"/><path d="M812 1523L827 1646"/><path d="M781 1559L851 1595"/><path d="M781 1559L788 1635"/><path d="M842 1556L827 1646"/><path d="M875 1581L816 1621"/><path d="M875 1581L827 1646"/><path d="M875 1581L882 1686"/><path d="M1337 1848L1368 1790"/><path d="M1306 1790L1210 1718"/><path d="M1306 1790L1372 1697"/><path d="M1306 1790L1333 1588"/><path d="M1331 1798L1407 1682"/><path d="M1331 1798L1446 1646"/><path d="M1331 1798L1289 1942"/><path d="M1271 1866L1328 1725"/><path d="M1271 1866L1368 1790"/><path d="M1271 1866L1359 1884"/><path d="M1228 1805L1247 1662"/><path d="M1228 1805L1249 1678"/><path d="M1228 1805L1368 1790"/><path d="M1228 1805L1236 1949"/><path d="M1118 1870L1114 1906"/><path d="M1118 1870L1136 1986"/><path d="M1247 1662L1446 1646"/><path d="M1247 1662L1403 1783"/><path d="M1201 1639L1333 1588"/><path d="M1306 1639L1368 1501"/><path d="M1328 1725L1460 1848"/><path d="M1372 1697L1503 1675"/><path d="M1372 1697L1398 1624"/><path d="M1372 1697L1368 1790"/><path d="M1372 1697L1403 1783"/><path d="M1407 1682L1333 1588"/><path d="M1407 1682L1368 1790"/><path d="M1407 1682L1460 1754"/><path d="M1503 1675L1403 1783"/><path d="M1503 1675L1460 1754"/><path d="M1503 1675L1547 1747"/><path d="M1446 1646L1368 1790"/><path d="M1446 1646L1547 1747"/><path d="M1403 1783L1512 1812"/><path d="M252 1389C279 1412 243 1422 333 1457C424 1493 403 1468 523 1495C643 1523 574 1477 693 1540C813 1604 819 1637 882 1686"/><path d="M257 1487C280 1480 239 1460 326 1466C412 1472 396 1477 516 1504C636 1532 577 1532 686 1549C795 1566 790 1553 842 1556"/><path d="M257 1487C282 1478 245 1456 334 1459C423 1463 404 1470 524 1497C644 1525 588 1536 694 1542C799 1549 791 1525 840 1516"/><path d="M1136 1986C1139 1948 1106 1925 1146 1872C1186 1819 1194 1851 1256 1827C1318 1802 1306 1807 1331 1798"/><path d="M1136 1986C1141 1943 1110 1915 1151 1857C1193 1800 1175 1808 1261 1812C1348 1817 1361 1851 1411 1870"/><path d="M1096 2065C1112 2001 1091 1951 1144 1872C1197 1792 1192 1851 1254 1827C1316 1802 1306 1807 1331 1798"/><path d="M1101 2141C1117 2050 1096 1975 1148 1869C1201 1764 1155 1831 1258 1824C1362 1817 1392 1840 1460 1848"/><path d="M1101 2141C1118 2049 1098 1972 1152 1865C1205 1759 1141 1838 1262 1820C1382 1803 1429 1815 1512 1812"/><path d="M1048 1866C1080 1864 1076 1876 1145 1858C1214 1840 1201 1835 1255 1813C1309 1790 1289 1798 1306 1790"/><path d="M1048 1866C1080 1866 1076 1881 1145 1865C1214 1850 1227 1841 1255 1820C1283 1800 1237 1810 1228 1805"/><path d="M1131 1812C1139 1829 1111 1861 1155 1863C1200 1866 1206 1840 1265 1818C1324 1797 1309 1805 1331 1798"/><path d="M1131 1812C1138 1829 1109 1862 1152 1864C1196 1866 1223 1818 1262 1819C1302 1820 1268 1850 1271 1866"/><path d="M1131 1812C1139 1831 1110 1864 1154 1868C1198 1872 1162 1830 1264 1823C1366 1817 1394 1840 1460 1848"/><path d="M1131 1812C1138 1829 1108 1862 1151 1864C1194 1866 1177 1846 1261 1819C1345 1792 1355 1795 1403 1783"/><path d="M1031 1747C1072 1784 1076 1836 1154 1858C1232 1879 1214 1835 1264 1813C1315 1790 1292 1798 1306 1790"/><path d="M742 1635C781 1724 823 1764 859 1903C895 2043 815 2011 849 2053C883 2095 923 2037 961 2029"/><path d="M882 1758C873 1805 868 1802 856 1898C845 1995 812 2005 846 2048C881 2092 923 2035 961 2029"/><path d="M882 1686C877 1755 875 1775 866 1894C858 2014 825 2000 856 2044C888 2089 926 2034 961 2029"/><path d="M919 1711C900 1775 884 1790 862 1904C840 2018 855 2022 852 2054C848 2086 851 2018 851 2000"/><path d="M919 1711C902 1776 888 1791 868 1905C847 2020 854 1989 858 2055C862 2122 872 2088 880 2105"/><path d="M1044 1986C1094 2080 1123 2157 1196 2270C1269 2383 1240 2307 1263 2325"/><path d="M1096 2065C1127 2132 1143 2099 1188 2266C1233 2434 1217 2467 1232 2567"/><path d="M1096 2065C1130 2126 1121 2116 1199 2248C1276 2381 1285 2391 1328 2462"/><path d="M1044 1986C1038 2074 1038 2167 1028 2250C1018 2333 1018 2240 1013 2235"/><path d="M1011 1277C1082 1263 1153 1249 1223 1234"/><path d="M1127 1274C1092 1347 1057 1421 1022 1494"/><path d="M1127 1274C1152 1345 1177 1416 1201 1487"/><path d="M1153 1243C1177 1240 1200 1237 1223 1234"/><path d="M1153 1243C1071 1351 990 1459 908 1566"/><path d="M1153 1243C1169 1324 1185 1406 1201 1487"/></g>
<g stroke-opacity="0.35"><path d="M265 2190L354 2152"/><path d="M265 2190L506 2224"/><path d="M265 2190L744 2419"/><path d="M265 2190L549 2535"/><path d="M354 2152L441 2158"/><path d="M354 2152L405 2264"/><path d="M354 2152L346 2448"/><path d="M354 2152L744 2419"/><path d="M354 2152L549 2535"/><path d="M354 2152L486 2730"/><path d="M441 2158L506 2224"/><path d="M441 2158L589 2282"/><path d="M545 2194L506 2224"/><path d="M545 2194L589 2434"/><path d="M545 2194L413 2571"/><path d="M506 2224L405 2264"/><path d="M589 2282L346 2448"/><path d="M589 2282L744 2419"/><path d="M452 2354L383 2686"/><path d="M405 2264L346 2448"/><path d="M484 2426L346 2448"/><path d="M484 2426L486 2730"/><path d="M589 2434L744 2419"/><path d="M589 2434L549 2535"/><path d="M589 2434L383 2686"/><path d="M260 2499L257 2590"/><path d="M805 1747L737 1693"/><path d="M805 1747L659 1711"/><path d="M805 1747L794 1866"/><path d="M805 1747L882 1870"/><path d="M805 1747L491 1799"/><path d="M805 1747L851 2000"/><path d="M805 1747L755 2130"/><path d="M737 1693L794 1866"/><path d="M737 1693L939 1790"/><path d="M737 1693L580 1848"/><path d="M737 1693L683 2105"/><path d="M737 1693L689 1975"/><path d="M737 1693L880 2105"/><path d="M659 1711L689 1848"/><path d="M659 1711L794 1866"/><path d="M659 1711L610 1946"/><path d="M659 1711L880 2105"/><path d="M689 1848L794 1866"/><path d="M689 1848L610 1946"/><path d="M689 1848L606 2061"/><path d="M689 1848L689 1975"/><path d="M689 1848L851 2000"/><path d="M689 1848L755 1978"/><path d="M689 1848L755 2130"/><path d="M689 1848L880 2105"/><path d="M593 1747L794 1866"/><path d="M593 1747L580 1848"/><path d="M593 1747L683 2105"/><path d="M794 1866L742 1635"/><path d="M794 1866L939 1790"/><path d="M794 1866L683 2105"/><path d="M794 1866L689 1975"/><path d="M794 1866L755 2130"/><path d="M794 1866L880 2105"/><path d="M742 1635L606 2061"/><path d="M882 1758L939 1790"/><path d="M882 1758L610 1946"/><path d="M939 1790L882 1870"/><path d="M939 1790L610 1946"/><path d="M939 1790L683 2105"/><path d="M939 1790L755 1978"/><path d="M939 1790L880 2105"/><path d="M882 1870L610 1946"/><path d="M882 1870L606 2061"/><path d="M882 1870L683 2105"/><path d="M580 1848L610 1946"/><path d="M580 1848L880 2105"/><path d="M491 1799L606 2061"/><path d="M491 1799L689 1975"/><path d="M610 1946L606 2061"/><path d="M610 1946L851 2000"/><path d="M610 1946L880 2105"/><path d="M606 2061L683 2105"/><path d="M606 2061L851 2000"/><path d="M606 2061L755 2130"/><path d="M606 2061L880 2105"/><path d="M683 2105L689 1975"/><path d="M689 1975L755 1978"/><path d="M755 1978L755 2130"/><path d="M1031 1747L1074 1805"/><path d="M1031 1747L965 1566"/><path d="M991 1740L969 1812"/><path d="M991 1740L1131 1812"/><path d="M991 1740L965 1704"/><path d="M969 1812L996 1668"/><path d="M1131 1812L1074 1805"/><path d="M1083 1718L996 1668"/><path d="M996 1668L1000 1624"/><path d="M996 1668L912 1610"/><path d="M996 1668L965 1566"/><path d="M1000 1624L912 1610"/><path d="M956 1458L908 1566"/><path d="M908 1566L939 1523"/><path d="M908 1566L965 1566"/><path d="M908 1566L943 1646"/><path d="M908 1566L965 1704"/><path d="M912 1610L939 1523"/><path d="M912 1610L996 1530"/><path d="M912 1610L965 1566"/><path d="M996 1530L965 1566"/><path d="M910 1436L904 1458"/><path d="M910 1436L895 1491"/><path d="M910 1436L829 1480"/><path d="M910 1436L812 1523"/><path d="M910 1436L781 1559"/><path d="M869 1444L856 1487"/><path d="M869 1444L840 1516"/><path d="M869 1444L829 1480"/><path d="M869 1444L842 1556"/><path d="M869 1444L875 1581"/><path d="M904 1458L895 1491"/><path d="M904 1458L875 1520"/><path d="M904 1458L842 1556"/><path d="M904 1458L875 1581"/><path d="M895 1491L812 1523"/><path d="M875 1520L840 1516"/><path d="M875 1520L875 1581"/><path d="M856 1487L875 1581"/><path d="M840 1516L829 1480"/><path d="M829 1480L781 1559"/><path d="M829 1480L875 1581"/><path d="M781 1559L842 1556"/><path d="M781 1559L875 1581"/><path d="M805 1606L851 1595"/><path d="M805 1606L781 1592"/><path d="M805 1606L816 1621"/><path d="M805 1606L867 1632"/><path d="M805 1606L827 1646"/><path d="M821 1581L851 1595"/><path d="M821 1581L781 1592"/><path d="M821 1581L856 1671"/><path d="M821 1581L827 1646"/><path d="M851 1595L781 1592"/><path d="M851 1595L748 1595"/><path d="M851 1595L867 1632"/><path d="M781 1592L816 1603"/><path d="M781 1592L748 1595"/><path d="M781 1592L867 1632"/><path d="M781 1592L827 1646"/><path d="M816 1603L816 1621"/><path d="M816 1603L867 1632"/><path d="M816 1603L827 1646"/><path d="M748 1595L788 1635"/><path d="M748 1595L856 1671"/><path d="M748 1595L827 1646"/><path d="M788 1635L867 1632"/><path d="M867 1632L856 1671"/><path d="M1337 1848L1271 1866"/><path d="M1337 1848L1188 1856"/><path d="M1228 1805L1048 1866"/><path d="M1249 1678L1201 1639"/><path d="M1464 1552L1446 1646"/><path d="M1464 1552L1617 1581"/><path d="M1464 1552L1525 1610"/><path d="M1464 1552L1617 1429"/><path d="M1464 1552L1398 1624"/><path d="M1464 1552L1403 1371"/><path d="M1503 1675L1617 1581"/><path d="M1503 1675L1587 1668"/><path d="M1503 1675L1525 1610"/><path d="M1503 1675L1284 1509"/><path d="M1446 1646L1525 1610"/><path d="M1446 1646L1617 1429"/><path d="M1446 1646L1425 1444"/><path d="M1446 1646L1525 1389"/><path d="M1446 1646L1403 1371"/><path d="M1617 1581L1617 1429"/><path d="M1617 1581L1398 1624"/><path d="M1617 1581L1525 1389"/><path d="M1587 1668L1525 1610"/><path d="M1587 1668L1293 1408"/><path d="M1587 1668L1284 1509"/><path d="M1587 1668L1525 1389"/><path d="M1525 1610L1617 1429"/><path d="M1525 1610L1368 1501"/><path d="M1525 1610L1284 1509"/><path d="M1617 1429L1368 1501"/><path d="M1617 1429L1293 1408"/><path d="M1293 1408L1284 1509"/><path d="M1284 1509L1425 1444"/><path d="M1333 1588L1403 1371"/><path d="M1398 1624L1425 1444"/><path d="M1411 1870L1403 1942"/><path d="M1547 1848L1490 1921"/><path d="M1718 2304L1558 2364"/><path d="M1718 2304L1516 2517"/><path d="M1718 2304L1569 2541"/><path d="M1718 2304L1766 2449"/><path d="M1622 2335L1558 2364"/><path d="M1622 2335L1527 2421"/><path d="M1622 2335L1569 2541"/><path d="M1622 2335L1604 2488"/><path d="M1622 2335L1600 2582"/><path d="M1558 2364L1600 2582"/><path d="M1589 2424L1527 2421"/><path d="M1589 2424L1569 2541"/><path d="M1589 2424L1604 2488"/><path d="M1516 2517L1604 2488"/><path d="M1516 2517L1705 2735"/><path d="M1569 2541L1843 2666"/><path d="M1600 2582L1843 2666"/><path d="M1600 2582L1705 2735"/><path d="M1655 2532L1766 2449"/><path d="M1720 887L1493 934"/><path d="M452 2354L262 2383"/><path d="M405 2264L275 2284"/><path d="M724 1759C728 1793 1002 1706 991 1740"/><path d="M724 1759C729 1796 1006 1654 996 1668"/><path d="M724 1759C728 1793 943 1584 908 1566"/><path d="M724 1759C728 1789 845 1543 842 1556"/><path d="M724 1759L816 1603"/><path d="M724 1759L867 1632"/><path d="M724 1759L882 1686"/><path d="M805 1747L908 1566"/><path d="M737 1693L781 1592"/><path d="M737 1693L816 1603"/><path d="M737 1693L748 1595"/><path d="M742 1635L908 1566"/><path d="M742 1635L812 1523"/><path d="M742 1635L875 1581"/><path d="M742 1635L851 1595"/><path d="M742 1635L816 1621"/><path d="M742 1635L867 1632"/><path d="M882 1758L1031 1747"/><path d="M882 1758L991 1740"/><path d="M882 1758L969 1812"/><path d="M939 1790L1131 1812"/><path d="M939 1790L1074 1805"/><path d="M939 1790L912 1610"/><path d="M939 1790L965 1704"/><path d="M880 2105L961 2029"/><path d="M1031 1747L1210 1718"/><path d="M1131 1812L1306 1790"/><path d="M1131 1812L1331 1798"/><path d="M1131 1812L1223 1902"/><path d="M1131 1812L1048 1866"/><path d="M1131 1812L1249 1678"/><path d="M1131 1812L1044 1986"/><path d="M1144 1711L1228 1805"/><path d="M1144 1711L1249 1678"/><path d="M996 1668L867 1632"/><path d="M996 1668L882 1686"/><path d="M956 1458L869 1444"/><path d="M912 1610L840 1516"/><path d="M912 1610L829 1480"/><path d="M912 1610L856 1671"/><path d="M939 1523L904 1458"/><path d="M939 1523L875 1520"/><path d="M939 1523L812 1523"/><path d="M996 1530L895 1491"/><path d="M996 1530L842 1556"/><path d="M965 1566L816 1603"/><path d="M965 1566L867 1632"/><path d="M965 1566L882 1686"/><path d="M943 1646L875 1581"/><path d="M943 1646L821 1581"/><path d="M943 1646L882 1686"/><path d="M908 1675L867 1632"/><path d="M875 1520L851 1595"/><path d="M856 1487L821 1581"/><path d="M840 1516L781 1592"/><path d="M840 1516L748 1595"/><path d="M840 1516L867 1632"/><path d="M829 1480L816 1603"/><path d="M829 1480L748 1595"/><path d="M812 1523L816 1621"/><path d="M812 1523L867 1632"/><path d="M781 1559L816 1603"/><path d="M842 1556L748 1595"/><path d="M875 1581L748 1595"/><path d="M821 1581L882 1686"/><path d="M788 1635L882 1686"/><path d="M1306 1790L1247 1662"/><path d="M1306 1790L1249 1678"/><path d="M1306 1790L1460 1848"/><path d="M1306 1790L1359 1884"/><path d="M1331 1798L1247 1662"/><path d="M1331 1798L1249 1678"/><path d="M1331 1798L1306 1639"/><path d="M1331 1798L1372 1697"/><path d="M1331 1798L1460 1754"/><path d="M1331 1798L1411 1870"/><path d="M1331 1798L1359 1884"/><path d="M1271 1866L1236 1949"/><path d="M1228 1805L1210 1718"/><path d="M1306 1639L1446 1646"/><path d="M1328 1725L1446 1646"/><path d="M1328 1725L1403 1783"/><path d="M1407 1682L1503 1675"/><path d="M1407 1682L1398 1624"/><path d="M1407 1682L1403 1783"/><path d="M1587 1668L1547 1747"/><path d="M1368 1790L1359 1884"/><path d="M1403 1783L1411 1870"/><path d="M1403 1783L1359 1884"/><path d="M1460 1754L1512 1812"/><path d="M1547 1747L1460 1848"/><path d="M1547 1747L1512 1812"/><path d="M1709 1172L1664 1281"/><path d="M805 1747C824 1797 845 1797 861 1897C876 1997 789 2017 851 2047C912 2077 979 2006 1044 1986"/><path d="M742 1635C780 1722 821 1759 856 1896C891 2033 848 2012 846 2046C844 2081 849 2015 851 2000"/><path d="M882 1758C874 1808 869 1808 858 1908C847 2008 851 2027 848 2058C846 2088 850 2019 851 2000"/><path d="M919 1711C901 1776 887 1791 866 1907C845 2022 893 1982 856 2057C819 2131 789 2106 755 2130"/><path d="M1044 1986C1098 2079 1107 2156 1206 2267C1305 2377 1296 2301 1341 2318"/><path d="M1136 1986C1154 2074 1123 2140 1192 2251C1260 2362 1292 2296 1341 2318"/><path d="M1136 1986C1156 2075 1153 2141 1196 2254C1238 2367 1240 2301 1263 2325"/><path d="M1175 2253C1178 2256 1161 2119 1185 2263C1209 2408 1226 2545 1247 2686"/><path d="M1101 2141C1073 2175 1049 2162 1018 2243C987 2324 1012 2336 1009 2383"/><path d="M1011 1277C1067 1213 1122 1148 1178 1084"/><path d="M1011 1277C1075 1347 1138 1417 1201 1487"/><path d="M1011 1277C1062 1316 1112 1355 1162 1393"/><path d="M1127 1274C1099 1304 1071 1334 1044 1364"/><path d="M1127 1274C1159 1261 1191 1247 1223 1234"/><path d="M1127 1274C1054 1371 981 1469 908 1566"/><path d="M1153 1243C1117 1283 1080 1324 1044 1364"/><path d="M1153 1243C1238 1157 1322 1071 1407 985"/><path d="M1153 1243C1156 1293 1159 1343 1162 1393"/></g>
<g stroke-opacity="0.40"><path d="M265 2190L589 2282"/><path d="M265 2190L346 2448"/><path d="M265 2190L589 2434"/><path d="M354 2152L502 2166"/><path d="M354 2152L413 2571"/><path d="M441 2158L502 2166"/><path d="M441 2158L484 2426"/><path d="M441 2158L589 2434"/><path d="M441 2158L744 2419"/><path d="M502 2166L744 2419"/><path d="M502 2166L549 2535"/><path d="M502 2166L486 2730"/><path d="M545 2194L405 2264"/><path d="M545 2194L484 2426"/><path d="M545 2194L549 2535"/><path d="M545 2194L486 2730"/><path d="M506 2224L484 2426"/><path d="M506 2224L346 2448"/><path d="M506 2224L589 2434"/><path d="M506 2224L549 2535"/><path d="M589 2282L405 2264"/><path d="M452 2354L346 2448"/><path d="M452 2354L744 2419"/><path d="M452 2354L549 2535"/><path d="M405 2264L549 2535"/><path d="M346 2448L413 2571"/><path d="M680 2260L744 2419"/><path d="M589 2434L486 2730"/><path d="M413 2571L549 2535"/><path d="M275 2284L257 2590"/><path d="M262 2383L257 2590"/><path d="M217 2484L260 2499"/><path d="M724 1759L755 2130"/><path d="M805 1747L593 1747"/><path d="M737 1693L689 1848"/><path d="M737 1693L491 1799"/><path d="M737 1693L851 2000"/><path d="M659 1711L593 1747"/><path d="M659 1711L882 1758"/><path d="M659 1711L939 1790"/><path d="M659 1711L580 1848"/><path d="M689 1848L593 1747"/><path d="M689 1848L882 1758"/><path d="M689 1848L882 1870"/><path d="M593 1747L491 1799"/><path d="M593 1747L851 2000"/><path d="M794 1866L606 2061"/><path d="M794 1866L851 2000"/><path d="M742 1635L610 1946"/><path d="M882 1758L851 2000"/><path d="M882 1870L580 1848"/><path d="M882 1870L851 2000"/><path d="M580 1848L491 1799"/><path d="M580 1848L689 1975"/><path d="M491 1799L880 2105"/><path d="M683 2105L755 1978"/><path d="M683 2105L880 2105"/><path d="M1031 1747L991 1740"/><path d="M1031 1747L1083 1718"/><path d="M1031 1747L912 1610"/><path d="M1026 1805L1131 1812"/><path d="M1131 1812L1083 1718"/><path d="M996 1668L908 1566"/><path d="M912 1610L943 1646"/><path d="M939 1523L965 1566"/><path d="M910 1436L875 1520"/><path d="M910 1436L875 1581"/><path d="M895 1491L840 1516"/><path d="M875 1520L812 1523"/><path d="M875 1520L842 1556"/><path d="M856 1487L842 1556"/><path d="M840 1516L875 1581"/><path d="M829 1480L842 1556"/><path d="M812 1523L842 1556"/><path d="M812 1523L875 1581"/><path d="M842 1556L875 1581"/><path d="M805 1606L816 1603"/><path d="M805 1606L748 1595"/><path d="M821 1581L816 1621"/><path d="M781 1592L788 1635"/><path d="M816 1603L788 1635"/><path d="M1337 1848L1118 1870"/><path d="M1337 1848L1048 1866"/><path d="M1223 1902L1118 1870"/><path d="M1188 1856L1048 1866"/><path d="M1118 1870L1048 1866"/><path d="M1249 1678L1306 1639"/><path d="M1249 1678L1407 1682"/><path d="M1210 1718L1201 1639"/><path d="M1210 1718L1372 1697"/><path d="M1201 1639L1306 1639"/><path d="M1372 1697L1407 1682"/><path d="M1464 1552L1503 1675"/><path d="M1464 1552L1425 1444"/><path d="M1464 1552L1525 1389"/><path d="M1534 1501L1398 1624"/><path d="M1503 1675L1617 1429"/><path d="M1503 1675L1368 1501"/><path d="M1503 1675L1425 1444"/><path d="M1446 1646L1587 1668"/><path d="M1446 1646L1398 1624"/><path d="M1617 1581L1525 1610"/><path d="M1617 1581L1293 1408"/><path d="M1617 1581L1284 1509"/><path d="M1617 1581L1333 1588"/><path d="M1617 1581L1425 1444"/><path d="M1617 1581L1403 1371"/><path d="M1525 1610L1293 1408"/><path d="M1525 1610L1333 1588"/><path d="M1617 1429L1284 1509"/><path d="M1617 1429L1403 1371"/><path d="M1368 1501L1293 1408"/><path d="M1368 1501L1425 1444"/><path d="M1368 1501L1525 1389"/><path d="M1293 1408L1333 1588"/><path d="M1293 1408L1425 1444"/><path d="M1398 1624L1403 1371"/><path d="M1525 1389L1403 1371"/><path d="M1359 1884L1512 1812"/><path d="M1403 1942L1512 1812"/><path d="M1403 1942L1547 1848"/><path d="M1512 1812L1490 1921"/><path d="M1718 2304L1655 2532"/><path d="M1622 2335L1516 2517"/><path d="M1558 2364L1655 2532"/><path d="M1589 2424L1655 2532"/><path d="M1516 2517L1655 2532"/><path d="M1569 2541L1655 2532"/><path d="M1655 2532L1843 2666"/><path d="M1271 1142L1463 495"/><path d="M1652 779L1493 934"/><path d="M1153 1243L1127 1274"/><path d="M724 1759C728 1790 943 1614 912 1610"/><path d="M724 1759L821 1581"/><path d="M724 1759L748 1595"/><path d="M724 1759L788 1635"/><path d="M737 1693L805 1606"/><path d="M737 1693L788 1635"/><path d="M742 1635L821 1581"/><path d="M742 1635L816 1603"/><path d="M742 1635L748 1595"/><path d="M742 1635L788 1635"/><path d="M882 1758L996 1668"/><path d="M882 1758L912 1610"/><path d="M882 1758L965 1704"/><path d="M882 1758L919 1711"/><path d="M882 1758L882 1686"/><path d="M939 1790L1031 1747"/><path d="M939 1790L969 1812"/><path d="M939 1790L919 1711"/><path d="M882 1870L969 1812"/><path d="M851 2000L961 2029"/><path d="M1026 1805L1048 1866"/><path d="M1131 1812L1228 1805"/><path d="M1131 1812L1210 1718"/><path d="M1175 1762L1228 1805"/><path d="M1074 1805L1118 1870"/><path d="M1074 1805L1048 1866"/><path d="M996 1668L821 1581"/><path d="M956 1458L904 1458"/><path d="M956 1458L875 1520"/><path d="M956 1458L829 1480"/><path d="M956 1458L812 1523"/><path d="M908 1566L875 1520"/><path d="M908 1566L856 1487"/><path d="M908 1566L840 1516"/><path d="M908 1566L829 1480"/><path d="M908 1566L816 1603"/><path d="M908 1566L816 1621"/><path d="M908 1566L867 1632"/><path d="M908 1566L882 1686"/><path d="M912 1610L812 1523"/><path d="M912 1610L842 1556"/><path d="M912 1610L805 1606"/><path d="M912 1610L821 1581"/><path d="M912 1610L816 1621"/><path d="M912 1610L867 1632"/><path d="M939 1523L840 1516"/><path d="M939 1523L829 1480"/><path d="M939 1523L875 1581"/><path d="M939 1523L821 1581"/><path d="M965 1566L840 1516"/><path d="M965 1566L829 1480"/><path d="M965 1566L812 1523"/><path d="M943 1646L867 1632"/><path d="M908 1675L882 1686"/><path d="M875 1520L805 1606"/><path d="M875 1520L821 1581"/><path d="M875 1520L816 1603"/><path d="M840 1516L821 1581"/><path d="M829 1480L805 1606"/><path d="M829 1480L781 1592"/><path d="M812 1523L851 1595"/><path d="M812 1523L816 1603"/><path d="M812 1523L748 1595"/><path d="M812 1523L788 1635"/><path d="M781 1559L805 1606"/><path d="M842 1556L805 1606"/><path d="M842 1556L781 1592"/><path d="M842 1556L816 1621"/><path d="M842 1556L788 1635"/><path d="M875 1581L851 1595"/><path d="M805 1606L882 1686"/><path d="M1306 1790L1403 1783"/><path d="M1331 1798L1460 1848"/><path d="M1271 1866L1289 1942"/><path d="M1228 1805L1328 1725"/><path d="M1247 1662L1333 1588"/><path d="M1249 1678L1333 1588"/><path d="M1328 1725L1368 1790"/><path d="M1372 1697L1446 1646"/><path d="M1372 1697L1333 1588"/><path d="M1407 1682L1446 1646"/><path d="M1446 1646L1403 1783"/><path d="M1446 1646L1460 1754"/><path d="M1368 1790L1411 1870"/><path d="M724 1759C771 1804 822 1799 866 1894C909 1990 851 1974 856 2044C860 2114 872 2085 880 2105"/><path d="M724 1759C772 1807 823 1805 867 1903C911 2001 798 2025 857 2053C916 2080 982 2008 1044 1986"/></g>
<g stroke-opacity="0.45"><path d="M265 2190L452 2354"/><path d="M265 2190L405 2264"/><path d="M265 2190L680 2260"/><path d="M354 2152L545 2194"/><path d="M354 2152L589 2282"/><path d="M354 2152L452 2354"/><path d="M354 2152L589 2434"/><path d="M441 2158L452 2354"/><path d="M441 2158L405 2264"/><path d="M441 2158L413 2571"/><path d="M502 2166L545 2194"/><path d="M502 2166L589 2282"/><path d="M502 2166L484 2426"/><path d="M506 2224L452 2354"/><path d="M506 2224L413 2571"/><path d="M405 2264L589 2434"/><path d="M744 2419L549 2535"/><path d="M275 2284L262 2383"/><path d="M262 2383L260 2499"/><path d="M724 1759L593 1747"/><path d="M724 1759L794 1866"/><path d="M724 1759L882 1758"/><path d="M724 1759L491 1799"/><path d="M724 1759L755 1978"/><path d="M805 1747L742 1635"/><path d="M805 1747L882 1758"/><path d="M805 1747L939 1790"/><path d="M805 1747L580 1848"/><path d="M737 1693L659 1711"/><path d="M659 1711L491 1799"/><path d="M689 1848L742 1635"/><path d="M689 1848L491 1799"/><path d="M689 1848L683 2105"/><path d="M794 1866L882 1870"/><path d="M794 1866L580 1848"/><path d="M742 1635L882 1758"/><path d="M742 1635L939 1790"/><path d="M939 1790L851 2000"/><path d="M580 1848L683 2105"/><path d="M580 1848L851 2000"/><path d="M491 1799L851 2000"/><path d="M851 2000L880 2105"/><path d="M755 1978L880 2105"/><path d="M1031 1747L996 1668"/><path d="M991 1740L996 1668"/><path d="M869 1444L812 1523"/><path d="M895 1491L829 1480"/><path d="M805 1606L788 1635"/><path d="M821 1581L816 1603"/><path d="M821 1581L788 1635"/><path d="M821 1581L867 1632"/><path d="M1337 1848L1223 1902"/><path d="M1306 1790L1223 1902"/><path d="M1306 1790L1188 1856"/><path d="M1331 1798L1223 1902"/><path d="M1223 1902L1048 1866"/><path d="M1271 1866L1228 1805"/><path d="M1271 1866L1048 1866"/><path d="M1228 1805L1188 1856"/><path d="M1247 1662L1328 1725"/><path d="M1249 1678L1372 1697"/><path d="M1210 1718L1306 1639"/><path d="M1328 1725L1407 1682"/><path d="M1464 1552L1534 1501"/><path d="M1464 1552L1368 1501"/><path d="M1464 1552L1293 1408"/><path d="M1534 1501L1293 1408"/><path d="M1534 1501L1525 1389"/><path d="M1503 1675L1446 1646"/><path d="M1503 1675L1293 1408"/><path d="M1503 1675L1333 1588"/><path d="M1503 1675L1525 1389"/><path d="M1503 1675L1403 1371"/><path d="M1617 1581L1368 1501"/><path d="M1587 1668L1368 1501"/><path d="M1587 1668L1403 1371"/><path d="M1368 1501L1284 1509"/><path d="M1284 1509L1403 1371"/><path d="M1460 1848L1411 1870"/><path d="M1460 1848L1359 1884"/><path d="M1460 1848L1512 1812"/><path d="M1460 1848L1490 1921"/><path d="M1411 1870L1512 1812"/><path d="M1411 1870L1490 1921"/><path d="M1289 1942L1236 1949"/><path d="M961 2029L1044 1986"/><path d="M1044 1986L1136 1986"/><path d="M1527 2421L1655 2532"/><path d="M1600 2582L1655 2532"/><path d="M1655 2532L1705 2735"/><path d="M1271 1142L1254 891"/><path d="M1178 1084L1254 891"/><path d="M1178 1084L1282 715"/><path d="M1867 707L1770 446"/><path d="M1867 707L1493 934"/><path d="M1770 446L1493 934"/><path d="M1127 1274L1011 1277"/><path d="M742 1635L912 1610"/><path d="M742 1635L842 1556"/><path d="M742 1635L805 1606"/><path d="M742 1635L781 1592"/><path d="M939 1790L1026 1805"/><path d="M939 1790L996 1668"/><path d="M1131 1812L1188 1856"/><path d="M1144 1711L1210 1718"/><path d="M956 1458L910 1436"/><path d="M956 1458L895 1491"/><path d="M908 1566L910 1436"/><path d="M908 1566L812 1523"/><path d="M908 1566L842 1556"/><path d="M912 1610L875 1520"/><path d="M912 1610L781 1592"/><path d="M912 1610L816 1603"/><path d="M912 1610L788 1635"/><path d="M939 1523L895 1491"/><path d="M965 1566L895 1491"/><path d="M965 1566L875 1520"/><path d="M1175 1617L1201 1639"/><path d="M895 1491L821 1581"/><path d="M840 1516L805 1606"/><path d="M840 1516L816 1603"/><path d="M812 1523L821 1581"/><path d="M812 1523L781 1592"/><path d="M781 1559L821 1581"/><path d="M781 1559L748 1595"/><path d="M842 1556L851 1595"/><path d="M875 1581L805 1606"/><path d="M875 1581L781 1592"/><path d="M875 1581L867 1632"/><path d="M867 1632L882 1686"/><path d="M856 1671L882 1686"/><path d="M1337 1848L1359 1884"/><path d="M1331 1798L1328 1725"/><path d="M1331 1798L1368 1790"/><path d="M1306 1639L1333 1588"/><path d="M1368 1790L1460 1848"/><path d="M1403 1783L1460 1848"/><path d="M1460 1754L1460 1848"/></g>
<g stroke-opacity="0.50"><path d="M265 2190L502 2166"/><path d="M441 2158L680 2260"/><path d="M502 2166L452 2354"/><path d="M502 2166L405 2264"/><path d="M502 2166L346 2448"/><path d="M545 2194L589 2282"/><path d="M545 2194L680 2260"/><path d="M506 2224L680 2260"/><path d="M589 2282L680 2260"/><path d="M589 2282L413 2571"/><path d="M452 2354L589 2434"/><path d="M405 2264L484 2426"/><path d="M405 2264L680 2260"/><path d="M484 2426L680 2260"/><path d="M346 2448L589 2434"/><path d="M744 2419L413 2571"/><path d="M217 2484L257 2590"/><path d="M724 1759L689 1848"/><path d="M724 1759L683 2105"/><path d="M724 1759L689 1975"/><path d="M724 1759L880 2105"/><path d="M737 1693L742 1635"/><path d="M742 1635L580 1848"/><path d="M742 1635L851 2000"/><path d="M755 2130L880 2105"/><path d="M895 1491L842 1556"/><path d="M875 1520L829 1480"/><path d="M829 1480L812 1523"/><path d="M805 1606L821 1581"/><path d="M821 1581L748 1595"/><path d="M1337 1848L1331 1798"/><path d="M1306 1790L1331 1798"/><path d="M1306 1790L1048 1866"/><path d="M1331 1798L1048 1866"/><path d="M1223 1902L1188 1856"/><path d="M1247 1662L1201 1639"/><path d="M1464 1552L1333 1588"/><path d="M1534 1501L1446 1646"/><path d="M1534 1501L1617 1581"/><path d="M1534 1501L1587 1668"/><path d="M1534 1501L1525 1610"/><path d="M1446 1646L1617 1581"/><path d="M1446 1646L1293 1408"/><path d="M1368 1501L1333 1588"/><path d="M1333 1588L1425 1444"/><path d="M1403 1783L1460 1754"/><path d="M1460 1848L1547 1848"/><path d="M1411 1870L1547 1848"/><path d="M1359 1884L1403 1942"/><path d="M1359 1884L1490 1921"/><path d="M1403 1942L1490 1921"/><path d="M1512 1812L1547 1848"/><path d="M1622 2335L1655 2532"/><path d="M1407 985L1223 1234"/><path d="M1320 1001L1282 715"/><path d="M1271 1142L1178 1084"/><path d="M1223 1234L1463 495"/><path d="M1282 715L1463 495"/><path d="M1867 707L1652 779"/><path d="M1652 779L1770 446"/><path d="M1153 1243L1011 1277"/><path d="M724 1759L805 1606"/><path d="M939 1790L991 1740"/><path d="M1131 1812L1118 1870"/><path d="M1175 1762L1210 1718"/><path d="M908 1566L875 1581"/><path d="M908 1566L805 1606"/><path d="M908 1566L821 1581"/><path d="M908 1566L851 1595"/><path d="M912 1610L895 1491"/><path d="M912 1610L875 1581"/><path d="M912 1610L851 1595"/><path d="M912 1610L882 1686"/><path d="M939 1523L842 1556"/><path d="M965 1566L875 1581"/><path d="M919 1711L882 1686"/><path d="M812 1523L805 1606"/><path d="M781 1559L781 1592"/><path d="M842 1556L821 1581"/><path d="M842 1556L816 1603"/><path d="M875 1581L821 1581"/><path d="M875 1581L816 1603"/><path d="M1306 1790L1328 1725"/><path d="M1306 1790L1368 1790"/><path d="M1223 1902L1236 1949"/></g>
<g stroke-opacity="0.55"><path d="M265 2190L413 2571"/><path d="M354 2152L680 2260"/><path d="M502 2166L680 2260"/><path d="M502 2166L589 2434"/><path d="M452 2354L484 2426"/><path d="M484 2426L589 2434"/><path d="M275 2284L217 2484"/><path d="M724 1759L737 1693"/><path d="M724 1759L882 1870"/><path d="M724 1759L606 2061"/><path d="M659 1711L742 1635"/><path d="M689 1848L580 1848"/><path d="M683 2105L851 2000"/><path d="M683 2105L755 2130"/><path d="M851 2000L755 1978"/><path d="M851 2000L755 2130"/><path d="M840 1516L812 1523"/><path d="M840 1516L842 1556"/><path d="M1337 1848L1306 1790"/><path d="M1337 1848L1228 1805"/><path d="M1306 1790L1271 1866"/><path d="M1306 1790L1228 1805"/><path d="M1223 1902L1228 1805"/><path d="M1228 1805L1118 1870"/><path d="M1188 1856L1118 1870"/><path d="M1247 1662L1249 1678"/><path d="M1201 1639L1372 1697"/><path d="M1201 1639L1407 1682"/><path d="M1306 1639L1372 1697"/><path d="M1306 1639L1407 1682"/><path d="M1534 1501L1503 1675"/><path d="M1534 1501L1617 1429"/><path d="M1534 1501L1284 1509"/><path d="M1534 1501L1403 1371"/><path d="M1368 1501L1403 1371"/><path d="M1368 1790L1460 1754"/><path d="M1368 1790L1547 1747"/><path d="M1460 1848L1403 1942"/><path d="M1411 1870L1359 1884"/><path d="M1359 1884L1547 1848"/><path d="M1604 2488L1655 2532"/><path d="M1407 985L1271 1142"/><path d="M1320 1001L1271 1142"/><path d="M1271 1142L1282 715"/><path d="M1254 891L1463 495"/><path d="M908 1566L895 1491"/><path d="M908 1566L781 1592"/><path d="M965 1566L842 1556"/><path d="M829 1480L821 1581"/><path d="M842 1556L867 1632"/><path d="M1331 1798L1403 1783"/><path d="M1223 1234L1153 1243"/></g>
<g stroke-opacity="0.60"><path d="M502 2166L413 2571"/><path d="M545 2194L452 2354"/><path d="M589 2282L452 2354"/><path d="M589 2282L589 2434"/><path d="M452 2354L413 2571"/><path d="M405 2264L413 2571"/><path d="M484 2426L413 2571"/><path d="M346 2448L680 2260"/><path d="M680 2260L549 2535"/><path d="M589 2434L413 2571"/><path d="M724 1759L580 1848"/><path d="M724 1759L610 1946"/><path d="M1306 1790L1118 1870"/><path d="M1331 1798L1228 1805"/><path d="M1223 1902L1271 1866"/><path d="M1271 1866L1188 1856"/><path d="M1271 1866L1118 1870"/><path d="M1247 1662L1210 1718"/><path d="M1249 1678L1210 1718"/><path d="M1210 1718L1328 1725"/><path d="M1210 1718L1407 1682"/><path d="M1201 1639L1328 1725"/><path d="M1328 1725L1372 1697"/><path d="M1534 1501L1425 1444"/><path d="M1446 1646L1368 1501"/><path d="M1446 1646L1333 1588"/><path d="M1368 1790L1403 1783"/><path d="M1403 1783L1547 1747"/><path d="M1460 1754L1547 1747"/><path d="M1407 985L1282 715"/><path d="M1320 1001L1223 1234"/><path d="M1320 1001L1178 1084"/><path d="M1320 1001L1254 891"/><path d="M1320 1001L1463 495"/><path d="M1271 1142L1223 1234"/><path d="M1178 1084L1463 495"/><path d="M1867 707L1720 887"/><path d="M1720 887L1652 779"/><path d="M252 1389L257 1487"/></g>
<g stroke-opacity="0.65"><path d="M262 2383L217 2484"/><path d="M724 1759L805 1747"/><path d="M724 1759L939 1790"/><path d="M724 1759L851 2000"/><path d="M1331 1798L1188 1856"/><path d="M1331 1798L1118 1870"/><path d="M1247 1662L1372 1697"/><path d="M1247 1662L1407 1682"/><path d="M1249 1678L1328 1725"/><path d="M1306 1639L1328 1725"/><path d="M1534 1501L1333 1588"/><path d="M1223 1234L1282 715"/><path d="M1254 891L1282 715"/><path d="M1720 887L1770 446"/></g>
<g stroke-opacity="0.70"><path d="M452 2354L680 2260"/><path d="M724 1759L659 1711"/><path d="M724 1759L742 1635"/><path d="M1331 1798L1271 1866"/><path d="M1247 1662L1306 1639"/><path d="M1407 985L1463 495"/><path d="M1223 1234L1254 891"/></g>
<g stroke-opacity="0.75"><path d="M452 2354L405 2264"/><path d="M680 2260L589 2434"/><path d="M680 2260L413 2571"/><path d="M1534 1501L1368 1501"/><path d="M1407 985L1320 1001"/><path d="M1407 985L1178 1084"/><path d="M1407 985L1254 891"/><path d="M1223 1234L1178 1084"/></g>
</g>
</g>
<circle cx="1201.6" cy="1487" r="26.5" fill="#fff" stroke="#4d4d4d" stroke-width="16"/>
<rect x="1109" y="1304" width="187" height="78" rx="8" fill="#fff" stroke="#4d4d4d" stroke-width="1.8"/>
<text x="1202.5" y="1362.3" style="font-size:57px;fill:#4d4d4d;text-anchor:middle">Berlin</text>
<text x="219" y="100" class="tt">(1) European production network</text>
<text x="2207" y="100" class="tt">(2) Production trees</text>
<text x="219" y="2954" class="tt" style="fill:#333">(3) Degree of input specificity</text>
<g fill="none" stroke="#808080" stroke-opacity="0.55" stroke-width="7.5">
<path d="M3003.0 2543.0L2335.4 1848.0"/>
<path d="M3003.0 2543.0L2534.6 1848.0"/>
<path d="M3003.0 2543.0Q2990.5 2195.5 2906.0 1848.0"/>
<path d="M3003.0 2543.0L3020.0 1848.0"/>
<path d="M3003.0 2543.0L3134.0 1848.0"/>
<path d="M3003.0 2543.0L3248.0 1848.0"/>
<path d="M3003.0 2543.0L3362.0 1848.0"/>
<path d="M3003.0 2543.0Q3215.5 2195.5 3476.0 1848.0"/>
<path d="M2335.4 1848.0L2335.4 1152.6"/>
<path d="M2534.6 1848.0Q2532.0 1500.3 2449.4 1152.6"/>
<path d="M2534.6 1848.0Q2537.5 1500.3 2620.4 1152.6"/>
<path d="M2906.0 1848.0L2906.0 1152.6"/>
<path d="M2449.4 1152.6Q2465.2 805.3 2393.0 458.0"/>
<path d="M2449.4 1152.6Q2434.2 805.3 2507.0 458.0"/>
<path d="M2620.4 1152.6L2621.0 458.0"/>
<path d="M2906.0 1152.6Q2853.5 805.3 2735.0 458.0"/>
<path d="M2906.0 1152.6Q2881.5 805.3 2849.0 458.0"/>
<path d="M2906.0 1152.6Q2930.5 805.3 2963.0 458.0"/>
<path d="M2906.0 1152.6Q2958.5 805.3 3077.0 458.0"/>
<path d="M3763.0 2618.4L3571.2 2172.2"/>
<path d="M3763.0 2618.4L3699.2 2172.2"/>
<path d="M3763.0 2618.4L3827.3 2172.2"/>
<path d="M3763.0 2618.4L3955.3 2172.2"/>
<path d="M3571.2 2172.2L3571.2 1726.0"/>
<path d="M3571.2 1726.0L3378.8 1278.8"/>
<path d="M3571.2 1726.0L3506.9 1278.8"/>
<path d="M3571.2 1726.0L3635.0 1278.8"/>
<path d="M3571.2 1726.0L3763.0 1278.8"/>
<path d="M3378.8 1278.8L3379.4 833.3"/>
<path d="M3379.4 833.3L3379.4 386.0"/>
</g>
<g><rect x="2335.4" y="532.0" width="115.1" height="98" rx="5" fill="#fff" stroke="#333" stroke-width="1.6"/><text x="2393.0" y="569.0" class="nl">GR41</text><text x="2393.0" y="620.5" class="nl">ss4</text><rect x="2449.4" y="532.0" width="115.1" height="98" rx="5" fill="#fff" stroke="#333" stroke-width="1.6"/><text x="2507.0" y="569.0" class="nl">GR41</text><text x="2507.0" y="620.5" class="nl">ss6</text><rect x="2565.4" y="532.0" width="111.3" height="98" rx="5" fill="#fff" stroke="#333" stroke-width="1.6"/><text x="2621.0" y="569.0" class="nl">DE30</text><text x="2621.0" y="620.5" class="nl">ss11</text><rect x="2679.4" y="532.0" width="111.3" height="98" rx="5" fill="#fff" stroke="#333" stroke-width="1.6"/><text x="2735.0" y="569.0" class="nl">DE30</text><text x="2735.0" y="620.5" class="nl">ss10</text><rect x="2793.4" y="532.0" width="111.3" height="98" rx="5" fill="#fff" stroke="#333" stroke-width="1.6"/><text x="2849.0" y="569.0" class="nl">DE30</text><text x="2849.0" y="620.5" class="nl">ss12</text><rect x="2907.4" y="532.0" width="111.3" height="98" rx="5" fill="#fff" stroke="#333" stroke-width="1.6"/><text x="2963.0" y="569.0" class="nl">DE30</text><text x="2963.0" y="620.5" class="nl">ss13</text><rect x="3021.4" y="532.0" width="111.3" height="98" rx="5" fill="#fff" stroke="#333" stroke-width="1.6"/><text x="3077.0" y="569.0" class="nl">DE30</text><text x="3077.0" y="620.5" class="nl">ss15</text><rect x="2279.8" y="1227.6" width="111.3" height="98" rx="5" fill="#fff" stroke="#333" stroke-width="1.6"/><text x="2335.4" y="1264.6" class="nl">DE30</text><text x="2335.4" y="1316.1" class="nl">ss3</text><rect x="2394.7" y="1227.6" width="109.4" height="98" rx="5" fill="#fff" stroke="#333" stroke-width="1.6"/><text x="2449.4" y="1264.6" class="nl">BE34</text><text x="2449.4" y="1316.1" class="nl">ss6</text><rect x="2564.8" y="1227.6" width="111.3" height="98" rx="5" fill="#fff" stroke="#333" stroke-width="1.6"/><text x="2620.4" y="1264.6" class="nl">DE30</text><text x="2620.4" y="1316.1" class="nl">ss2</text><rect x="2850.4" y="1227.6" width="111.3" height="98" rx="5" fill="#fff" stroke="#333" stroke-width="1.6"/><text x="2906.0" y="1264.6" class="nl">DE30</text><text x="2906.0" y="1316.1" class="nl">ss14</text><rect x="2279.8" y="1923.0" width="111.3" height="98" rx="5" fill="#fff" stroke="#333" stroke-width="1.6"/><text x="2335.4" y="1960.0" class="nl">DE30</text><text x="2335.4" y="2011.5" class="nl">ss1</text><rect x="2479.0" y="1923.0" width="111.3" height="98" rx="5" fill="#fff" stroke="#333" stroke-width="1.6"/><text x="2534.6" y="1960.0" class="nl">DE30</text><text x="2534.6" y="2011.5" class="nl">ss6</text><rect x="2850.4" y="1923.0" width="111.3" height="98" rx="5" fill="#fff" stroke="#333" stroke-width="1.6"/><text x="2906.0" y="1960.0" class="nl">DE30</text><text x="2906.0" y="2011.5" class="nl">ss9</text><rect x="2964.4" y="1923.0" width="111.3" height="98" rx="5" fill="#fff" stroke="#333" stroke-width="1.6"/><text x="3020.0" y="1960.0" class="nl">DE30</text><text x="3020.0" y="2011.5" class="nl">ss4</text><rect x="3078.4" y="1923.0" width="111.3" height="98" rx="5" fill="#fff" stroke="#333" stroke-width="1.6"/><text x="3134.0" y="1960.0" class="nl">DE30</text><text x="3134.0" y="2011.5" class="nl">ss8</text><rect x="3200.3" y="1923.0" width="95.3" height="98" rx="5" fill="#fff" stroke="#333" stroke-width="1.6"/><text x="3248.0" y="1960.0" class="nl">FI20</text><text x="3248.0" y="2011.5" class="nl">ss11</text><rect x="3307.3" y="1923.0" width="109.4" height="98" rx="5" fill="#fff" stroke="#333" stroke-width="1.6"/><text x="3362.0" y="1960.0" class="nl">FR83</text><text x="3362.0" y="2011.5" class="nl">ss4</text><rect x="3415.6" y="1923.0" width="120.9" height="98" rx="5" fill="#fff" stroke="#333" stroke-width="1.6"/><text x="3476.0" y="1960.0" class="nl">UKM6</text><text x="3476.0" y="2011.5" class="nl">ss4</text><rect x="2947.4" y="2618.0" width="111.3" height="98" rx="5" fill="#fff" stroke="#333" stroke-width="1.6"/><text x="3003.0" y="2655.0" class="nl">DE30</text><text x="3003.0" y="2706.5" class="nl">ss5</text><rect x="3323.8" y="456.0" width="111.3" height="98" rx="5" fill="#fff" stroke="#333" stroke-width="1.6"/><text x="3379.4" y="493.0" class="nl">DE30</text><text x="3379.4" y="544.5" class="nl">ss11</text><rect x="3323.8" y="903.3" width="111.3" height="98" rx="5" fill="#fff" stroke="#333" stroke-width="1.6"/><text x="3379.4" y="940.3" class="nl">DE30</text><text x="3379.4" y="991.8" class="nl">ss3</text><rect x="3323.2" y="1348.8" width="111.3" height="98" rx="5" fill="#fff" stroke="#333" stroke-width="1.6"/><text x="3378.8" y="1385.8" class="nl">DE30</text><text x="3378.8" y="1437.3" class="nl">ss10</text><rect x="3451.3" y="1348.8" width="111.3" height="98" rx="5" fill="#fff" stroke="#333" stroke-width="1.6"/><text x="3506.9" y="1385.8" class="nl">DE30</text><text x="3506.9" y="1437.3" class="nl">ss2</text><rect x="3579.4" y="1348.8" width="111.3" height="98" rx="5" fill="#fff" stroke="#333" stroke-width="1.6"/><text x="3635.0" y="1385.8" class="nl">DE30</text><text x="3635.0" y="1437.3" class="nl">ss12</text><rect x="3707.4" y="1348.8" width="111.3" height="98" rx="5" fill="#fff" stroke="#333" stroke-width="1.6"/><text x="3763.0" y="1385.8" class="nl">DE30</text><text x="3763.0" y="1437.3" class="nl">ss13</text><rect x="3515.6" y="1796.0" width="111.3" height="98" rx="5" fill="#fff" stroke="#333" stroke-width="1.6"/><text x="3571.2" y="1833.0" class="nl">DE30</text><text x="3571.2" y="1884.5" class="nl">ss14</text><rect x="3515.6" y="2242.2" width="111.3" height="98" rx="5" fill="#fff" stroke="#333" stroke-width="1.6"/><text x="3571.2" y="2279.2" class="nl">DE30</text><text x="3571.2" y="2330.7" class="nl">ss9</text><rect x="3643.6" y="2242.2" width="111.3" height="98" rx="5" fill="#fff" stroke="#333" stroke-width="1.6"/><text x="3699.2" y="2279.2" class="nl">DE30</text><text x="3699.2" y="2330.7" class="nl">ss6</text><rect x="3771.7" y="2242.2" width="111.3" height="98" rx="5" fill="#fff" stroke="#333" stroke-width="1.6"/><text x="3827.3" y="2279.2" class="nl">DE30</text><text x="3827.3" y="2330.7" class="nl">ss8</text><rect x="3899.7" y="2242.2" width="111.3" height="98" rx="5" fill="#fff" stroke="#333" stroke-width="1.6"/><text x="3955.3" y="2279.2" class="nl">DE30</text><text x="3955.3" y="2330.7" class="nl">ss15</text><rect x="3707.4" y="2688.4" width="111.3" height="98" rx="5" fill="#fff" stroke="#333" stroke-width="1.6"/><text x="3763.0" y="2725.4" class="nl">DE30</text><text x="3763.0" y="2776.9" class="nl">ss5</text></g>
<g><circle cx="2393.0" cy="458.0" r="34" fill="#fff" stroke="#999" stroke-width="9"/><text x="2393.0" y="474.5" class="nn">1</text><circle cx="2507.0" cy="458.0" r="34" fill="#fff" stroke="#999" stroke-width="9"/><text x="2507.0" y="474.5" class="nn">1</text><circle cx="2621.0" cy="458.0" r="34" fill="#fff" stroke="#999" stroke-width="9"/><text x="2621.0" y="474.5" class="nn">1</text><circle cx="2735.0" cy="458.0" r="34" fill="#fff" stroke="#999" stroke-width="9"/><text x="2735.0" y="474.5" class="nn">1</text><circle cx="2849.0" cy="458.0" r="34" fill="#fff" stroke="#999" stroke-width="9"/><text x="2849.0" y="474.5" class="nn">1</text><circle cx="2963.0" cy="458.0" r="34" fill="#fff" stroke="#999" stroke-width="9"/><text x="2963.0" y="474.5" class="nn">1</text><circle cx="3077.0" cy="458.0" r="34" fill="#fff" stroke="#999" stroke-width="9"/><text x="3077.0" y="474.5" class="nn">1</text><circle cx="2335.4" cy="1152.6" r="34" fill="#fff" stroke="#999" stroke-width="9"/><text x="2335.4" y="1169.1" class="nn">1</text><circle cx="2449.4" cy="1152.6" r="34" fill="#fff" stroke="#999" stroke-width="9"/><text x="2449.4" y="1169.1" class="nn">3</text><text x="2384.4" y="1169.1" class="nn">5</text><circle cx="2620.4" cy="1152.6" r="34" fill="#fff" stroke="#999" stroke-width="9"/><text x="2620.4" y="1169.1" class="nn">2</text><text x="2555.4" y="1169.1" class="nn">3</text><circle cx="2906.0" cy="1152.6" r="34" fill="#fff" stroke="#999" stroke-width="9"/><text x="2906.0" y="1169.1" class="nn">5</text><text x="2841.0" y="1169.1" class="nn">9</text><circle cx="2335.4" cy="1848.0" r="34" fill="#fff" stroke="#999" stroke-width="9"/><text x="2335.4" y="1864.5" class="nn">2</text><text x="2270.4" y="1864.5" class="nn">3</text><circle cx="2534.6" cy="1848.0" r="34" fill="#fff" stroke="#999" stroke-width="9"/><text x="2534.6" y="1864.5" class="nn">6</text><text x="2469.6" y="1864.5" class="nn">14</text><circle cx="2906.0" cy="1848.0" r="34" fill="#fff" stroke="#999" stroke-width="9"/><text x="2906.0" y="1864.5" class="nn">6</text><text x="2841.0" y="1864.5" class="nn">15</text><circle cx="3020.0" cy="1848.0" r="34" fill="#fff" stroke="#999" stroke-width="9"/><text x="3020.0" y="1864.5" class="nn">1</text><circle cx="3134.0" cy="1848.0" r="34" fill="#fff" stroke="#999" stroke-width="9"/><text x="3134.0" y="1864.5" class="nn">1</text><circle cx="3248.0" cy="1848.0" r="34" fill="#fff" stroke="#999" stroke-width="9"/><text x="3248.0" y="1864.5" class="nn">1</text><circle cx="3362.0" cy="1848.0" r="34" fill="#fff" stroke="#999" stroke-width="9"/><text x="3362.0" y="1864.5" class="nn">1</text><circle cx="3476.0" cy="1848.0" r="34" fill="#fff" stroke="#999" stroke-width="9"/><text x="3476.0" y="1864.5" class="nn">1</text><circle cx="3003.0" cy="2543.0" r="34" fill="#fff" stroke="#4d4d4d" stroke-width="9"/><text x="3003.0" y="2559.5" class="nn">20</text><text x="2938.0" y="2559.5" class="nn">57</text><circle cx="3379.4" cy="386.0" r="34" fill="#fff" stroke="#999" stroke-width="9"/><text x="3379.4" y="402.5" class="nn">1</text><circle cx="3379.4" cy="833.3" r="34" fill="#fff" stroke="#999" stroke-width="9"/><text x="3379.4" y="849.8" class="nn">2</text><text x="3303.4" y="849.8" class="nn">3</text><circle cx="3378.8" cy="1278.8" r="34" fill="#fff" stroke="#999" stroke-width="9"/><text x="3378.8" y="1295.3" class="nn">3</text><text x="3302.8" y="1295.3" class="nn">6</text><circle cx="3506.9" cy="1278.8" r="34" fill="#fff" stroke="#999" stroke-width="9"/><text x="3506.9" y="1295.3" class="nn">1</text><circle cx="3635.0" cy="1278.8" r="34" fill="#fff" stroke="#999" stroke-width="9"/><text x="3635.0" y="1295.3" class="nn">1</text><circle cx="3763.0" cy="1278.8" r="34" fill="#fff" stroke="#999" stroke-width="9"/><text x="3763.0" y="1295.3" class="nn">1</text><circle cx="3571.2" cy="1726.0" r="34" fill="#fff" stroke="#999" stroke-width="9"/><text x="3571.2" y="1742.5" class="nn">7</text><text x="3495.2" y="1742.5" class="nn">16</text><circle cx="3571.2" cy="2172.2" r="34" fill="#fff" stroke="#999" stroke-width="9"/><text x="3571.2" y="2188.7" class="nn">8</text><text x="3495.2" y="2188.7" class="nn">24</text><circle cx="3699.2" cy="2172.2" r="34" fill="#fff" stroke="#999" stroke-width="9"/><text x="3699.2" y="2188.7" class="nn">1</text><circle cx="3827.3" cy="2172.2" r="34" fill="#fff" stroke="#999" stroke-width="9"/><text x="3827.3" y="2188.7" class="nn">1</text><circle cx="3955.3" cy="2172.2" r="34" fill="#fff" stroke="#999" stroke-width="9"/><text x="3955.3" y="2188.7" class="nn">1</text><circle cx="3763.0" cy="2618.4" r="34" fill="#fff" stroke="#4d4d4d" stroke-width="9"/><text x="3763.0" y="2634.9" class="nn">12</text><text x="3687.0" y="2634.9" class="nn">39</text></g>
<rect x="3174.8" y="2477" width="206.19999999999982" height="131.4000000000001" rx="8" fill="#fff" stroke="#4d4d4d" stroke-width="1.8"/><text x="3277.9" y="2525.5" class="bl">Berlin</text><text x="3277.9" y="2593" class="bl">Sector 5</text>
<rect x="3812" y="2553.5" width="206" height="130.30000000000018" rx="8" fill="#fff" stroke="#4d4d4d" stroke-width="1.8"/><text x="3915.0" y="2602.0" class="bl">Berlin</text><text x="3915.0" y="2669.5" class="bl">Sector 5</text>
<text x="2207.5" y="252.6" class="fm" style="font-size:76.5px">A = Zx</text><text x="2391.8" y="232.5" class="fm" style="font-size:74px">^</text><text x="2430.5" y="200.2" class="fm" style="font-size:52px;letter-spacing:3px">−1</text>
<text x="3312.2" y="164.8" class="fm" style="font-size:76.5px">B = x</text><text x="3450.1" y="145.4" class="fm" style="font-size:74px">^</text><text x="3489.2" y="112" class="fm" style="font-size:52px;letter-spacing:3px">−1</text><text x="3550.1" y="164.8" class="fm" style="font-size:76.5px">Z</text>
<g stroke="#ebebeb" stroke-width="1.2" fill="none">
<path d="M542.9 2996V4473.3"/>
<path d="M1024.3 2996V4473.3"/>
<path d="M1505.8 2996V4473.3"/>
<path d="M1987.3 2996V4473.3"/>
<path d="M219.4 4406.0H2060"/>
<path d="M219.4 3923.1H2060"/>
<path d="M219.4 3440.2H2060"/>
</g><g stroke="#e0e0e0" stroke-width="2.2" fill="none">
<path d="M302.1 2996V4483.3"/>
<path d="M783.6 2996V4483.3"/>
<path d="M1265.1 2996V4483.3"/>
<path d="M1746.6 2996V4483.3"/>
<path d="M208.4 4164.6H2060"/>
<path d="M208.4 3681.7H2060"/>
<path d="M208.4 3198.8H2060"/>
</g>
<path d="M447 4303h0M532 4257h0M532 4242h0M532 4228h0M592 4170h0M592 4174h0M592 4176h0M639 4153h0M639 4137h0M639 4170h0M639 4176h0M639 4134h0M639 4161h0M639 4149h0M639 4151h0M639 4183h0M639 4127h0M639 4137h0M639 4162h0M677 4130h0M677 4146h0M677 4134h0M677 4126h0M677 4115h0M677 4121h0M677 4131h0M677 4111h0M677 4144h0M677 4120h0M677 4115h0M677 4137h0M709 4155h0M709 4137h0M709 4133h0M709 4117h0M709 4157h0M709 4141h0M709 4131h0M709 4144h0M709 4178h0M709 4128h0M709 4105h0M709 4125h0M737 4118h0M737 4108h0M737 4073h0M737 4102h0M737 4110h0M737 4087h0M737 4113h0M737 4083h0M737 4122h0M737 4119h0M737 4100h0M737 4089h0M762 4071h0M762 4105h0M762 4087h0M762 4086h0M762 4085h0M762 4067h0M762 4081h0M762 4064h0M762 4075h0M762 4081h0M762 4074h0M762 4069h0M784 4066h0M784 4062h0M784 4080h0M784 4034h0M784 4036h0M784 4062h0M784 4066h0M784 4078h0M784 4056h0M784 4056h0M784 4025h0M784 4055h0M804 4103h0M804 4043h0M804 4062h0M804 4090h0M804 4062h0M804 4090h0M804 4011h0M804 4048h0M804 4056h0M804 4068h0M804 4099h0M804 4067h0M822 4053h0M822 4096h0M822 4076h0M822 4043h0M822 4036h0M822 4081h0M822 4086h0M822 4048h0M822 4049h0M822 4078h0M822 4073h0M822 4073h0M838 4057h0M838 4027h0M838 4036h0M838 4014h0M838 4048h0M838 4049h0M838 4062h0M838 4048h0M838 4067h0M838 4074h0M838 4036h0M838 4024h0M854 3991h0M854 4008h0M854 4023h0M854 4010h0M854 4017h0M854 4029h0M854 4038h0M854 4035h0M854 4012h0M854 4009h0M854 4019h0M854 3989h0M868 4001h0M868 3991h0M868 4023h0M868 4041h0M868 3998h0M868 4021h0M868 3989h0M868 4005h0M868 3994h0M868 3998h0M868 4042h0M868 3999h0M882 4035h0M882 4030h0M882 4011h0M882 4009h0M882 4007h0M882 4049h0M882 4032h0M882 4060h0M882 4025h0M882 4014h0M882 4035h0M882 4019h0M895 3988h0M895 4017h0M895 4017h0M895 4016h0M895 3976h0M895 3987h0M895 4006h0M895 4000h0M895 4002h0M895 4000h0M895 4007h0M895 4009h0M907 4024h0M907 3988h0M907 4005h0M907 4013h0M907 4017h0M907 4013h0M907 4008h0M907 4024h0M907 4010h0M907 4010h0M907 4025h0M907 4026h0M918 4019h0M918 3989h0M918 4040h0M918 4007h0M918 4012h0M918 4013h0M918 4001h0M918 3985h0M918 4002h0M918 4005h0M918 4012h0M918 4005h0M929 3979h0M929 3990h0M929 3992h0M929 3990h0M929 3994h0M929 3955h0M929 3967h0M929 3976h0M929 3950h0M929 3983h0M929 3961h0M929 3960h0M939 4020h0M939 4010h0M939 3981h0M939 3975h0M939 4015h0M939 3979h0M939 4001h0M939 4001h0M939 4004h0M939 4000h0M939 4024h0M939 4011h0M948 3977h0M948 3952h0M948 3942h0M948 3990h0M948 4012h0M948 3991h0M948 4000h0M948 3954h0M948 3976h0M948 3996h0M948 3970h0M948 3977h0M958 3992h0M958 3987h0M958 3983h0M958 3981h0M958 3989h0M958 3980h0M958 3993h0M958 3997h0M958 3960h0M958 3978h0M958 3977h0M958 4008h0M967 3947h0M967 3980h0M967 3943h0M967 3966h0M967 3953h0M967 3962h0M967 3956h0M967 3941h0M967 3966h0M967 3935h0M967 3972h0M967 3974h0M975 3960h0M975 3949h0M975 3929h0M975 3924h0M975 3971h0M975 3935h0M975 3914h0M975 3925h0M975 3947h0M975 3953h0M975 3948h0M975 3962h0M983 3953h0M983 3952h0M983 3931h0M983 3953h0M983 3973h0M983 3933h0M983 3967h0M983 3957h0M983 3952h0M983 3955h0M983 3965h0M983 3954h0M991 3924h0M991 3917h0M991 3897h0M991 3903h0M991 3903h0M991 3901h0M991 3946h0M991 3928h0M991 3913h0M991 3907h0M991 3894h0M991 3907h0M999 3938h0M999 3942h0M999 3935h0M999 3928h0M999 3944h0M999 3952h0M999 3952h0M999 3922h0M999 3919h0M999 3923h0M999 3925h0M999 3926h0M1006 3921h0M1006 3948h0M1006 3934h0M1006 3943h0M1006 3920h0M1006 3940h0M1006 3933h0M1006 3925h0M1006 3910h0M1006 3944h0M1006 3946h0M1006 3918h0M1013 3933h0M1013 3949h0M1013 3941h0M1013 3968h0M1013 3928h0M1013 3948h0M1013 3954h0M1013 3907h0M1013 3928h0M1013 3885h0M1013 3933h0M1013 3945h0M1020 3895h0M1020 3921h0M1020 3913h0M1020 3912h0M1020 3935h0M1020 3918h0M1020 3928h0M1020 3940h0M1020 3907h0M1020 3910h0M1020 3919h0M1020 3935h0M1033 3929h0M1033 3939h0M1033 3964h0M1033 3938h0M1033 3961h0M1033 3937h0M1033 3935h0M1033 3932h0M1033 3934h0M1033 3934h0M1033 3955h0M1033 3943h0M1040 3919h0M1040 3911h0M1040 3905h0M1040 3889h0M1040 3955h0M1040 3909h0M1040 3918h0M1040 3879h0M1040 3900h0M1040 3941h0M1040 3909h0M1040 3923h0M1046 3909h0M1046 3894h0M1046 3895h0M1046 3894h0M1046 3902h0M1046 3921h0M1046 3885h0M1046 3877h0M1046 3894h0M1046 3909h0M1046 3889h0M1046 3884h0M1057 3899h0M1057 3877h0M1057 3916h0M1057 3908h0M1057 3929h0M1057 3910h0M1057 3910h0M1057 3914h0M1057 3910h0M1057 3871h0M1057 3902h0M1057 3901h0M1068 3864h0M1068 3890h0M1068 3856h0M1068 3877h0M1068 3837h0M1068 3882h0M1068 3872h0M1068 3888h0M1068 3861h0M1068 3879h0M1068 3864h0M1068 3869h0M1073 3878h0M1073 3878h0M1073 3892h0M1073 3907h0M1073 3910h0M1073 3889h0M1073 3856h0M1073 3900h0M1073 3905h0M1073 3904h0M1073 3910h0M1073 3908h0M1079 3862h0M1079 3885h0M1079 3893h0M1079 3910h0M1079 3881h0M1079 3885h0M1079 3904h0M1079 3902h0M1079 3885h0M1079 3869h0M1079 3875h0M1079 3881h0M1089 3874h0M1089 3880h0M1089 3845h0M1089 3897h0M1089 3885h0M1089 3860h0M1089 3884h0M1089 3857h0M1089 3880h0M1089 3877h0M1089 3885h0M1089 3901h0M1093 3849h0M1093 3874h0M1093 3874h0M1093 3869h0M1093 3875h0M1093 3868h0M1093 3888h0M1093 3888h0M1093 3869h0M1093 3890h0M1093 3905h0M1093 3888h0M1103 3863h0M1103 3884h0M1103 3889h0M1103 3878h0M1103 3848h0M1103 3873h0M1103 3870h0M1103 3872h0M1103 3868h0M1103 3858h0M1103 3851h0M1103 3898h0M1112 3844h0M1112 3849h0M1112 3806h0M1112 3846h0M1112 3813h0M1112 3828h0M1112 3860h0M1112 3836h0M1112 3832h0M1112 3846h0M1112 3880h0M1112 3849h0M1116 3877h0M1116 3831h0M1116 3863h0M1116 3866h0M1116 3864h0M1116 3872h0M1116 3872h0M1116 3858h0M1116 3855h0M1116 3867h0M1116 3861h0M1116 3881h0M1120 3860h0M1120 3845h0M1120 3862h0M1120 3856h0M1120 3845h0M1120 3867h0M1120 3809h0M1120 3849h0M1120 3849h0M1120 3859h0M1120 3823h0M1120 3826h0M1124 3869h0M1124 3856h0M1124 3838h0M1124 3856h0M1124 3866h0M1124 3866h0M1124 3860h0M1124 3848h0M1124 3858h0M1124 3848h0M1124 3804h0M1124 3820h0M1128 3856h0M1128 3860h0M1128 3863h0M1128 3845h0M1128 3866h0M1128 3866h0M1128 3867h0M1128 3863h0M1128 3841h0M1128 3849h0M1128 3882h0M1128 3868h0M1132 3843h0M1132 3852h0M1132 3842h0M1132 3857h0M1132 3886h0M1132 3849h0M1132 3852h0M1132 3848h0M1132 3876h0M1132 3854h0M1132 3866h0M1132 3866h0M1136 3834h0M1136 3853h0M1136 3866h0M1136 3878h0M1136 3848h0M1136 3822h0M1136 3840h0M1136 3874h0M1136 3853h0M1136 3833h0M1136 3813h0M1136 3821h0M1144 3831h0M1144 3850h0M1144 3841h0M1144 3839h0M1144 3846h0M1144 3833h0M1144 3840h0M1144 3829h0M1144 3811h0M1144 3822h0M1144 3827h0M1144 3838h0M1151 3853h0M1151 3843h0M1151 3868h0M1151 3832h0M1151 3857h0M1151 3846h0M1151 3857h0M1151 3871h0M1151 3819h0M1151 3870h0M1151 3837h0M1151 3860h0M1158 3838h0M1158 3832h0M1158 3811h0M1158 3795h0M1158 3838h0M1158 3825h0M1158 3810h0M1158 3835h0M1158 3814h0M1162 3826h0M1162 3829h0M1162 3817h0M1162 3830h0M1162 3854h0M1162 3825h0M1162 3853h0M1162 3824h0M1162 3812h0M1168 3823h0M1168 3796h0M1168 3812h0M1168 3834h0M1168 3820h0M1168 3792h0M1168 3819h0M1168 3813h0M1168 3820h0M1172 3848h0M1172 3834h0M1172 3837h0M1172 3843h0M1172 3873h0M1172 3821h0M1172 3829h0M1172 3824h0M1172 3819h0M1175 3832h0M1175 3818h0M1175 3796h0M1175 3849h0M1175 3826h0M1175 3834h0M1175 3814h0M1175 3800h0M1175 3827h0M1181 3827h0M1181 3832h0M1181 3852h0M1181 3814h0M1181 3836h0M1181 3817h0M1181 3849h0M1181 3811h0M1181 3851h0M1188 3825h0M1188 3774h0M1188 3802h0M1188 3821h0M1188 3800h0M1188 3791h0M1188 3812h0M1188 3804h0M1188 3792h0M1193 3855h0M1193 3814h0M1193 3800h0M1193 3802h0M1193 3791h0M1193 3818h0M1193 3767h0M1193 3794h0M1193 3802h0M1199 3773h0M1199 3786h0M1199 3798h0M1199 3772h0M1199 3781h0M1199 3817h0M1199 3805h0M1199 3780h0M1199 3786h0M1202 3786h0M1202 3793h0M1202 3771h0M1202 3805h0M1202 3802h0M1202 3791h0M1202 3784h0M1202 3783h0M1202 3772h0M1208 3783h0M1208 3794h0M1208 3817h0M1208 3803h0M1208 3768h0M1208 3789h0M1208 3808h0M1208 3839h0M1208 3813h0M1210 3801h0M1210 3766h0M1210 3790h0M1210 3797h0M1210 3817h0M1210 3820h0M1210 3805h0M1210 3809h0M1210 3755h0M1216 3804h0M1216 3777h0M1216 3793h0M1216 3814h0M1216 3774h0M1216 3800h0M1216 3815h0M1216 3790h0M1216 3787h0M1218 3781h0M1218 3779h0M1218 3806h0M1218 3824h0M1218 3830h0M1218 3794h0M1218 3773h0M1218 3776h0M1218 3770h0M1221 3764h0M1221 3747h0M1221 3788h0M1221 3753h0M1221 3758h0M1221 3765h0M1221 3771h0M1221 3781h0M1221 3762h0M1224 3775h0M1224 3761h0M1224 3779h0M1224 3765h0M1224 3785h0M1224 3763h0M1224 3772h0M1224 3764h0M1224 3779h0M1226 3802h0M1226 3781h0M1226 3772h0M1226 3802h0M1226 3784h0M1226 3785h0M1226 3791h0M1226 3821h0M1226 3792h0M1229 3774h0M1229 3780h0M1229 3783h0M1229 3833h0M1229 3783h0M1229 3782h0M1229 3813h0M1229 3778h0M1229 3792h0M1234 3791h0M1234 3796h0M1234 3787h0M1234 3732h0M1234 3777h0M1234 3777h0M1234 3790h0M1234 3790h0M1234 3789h0M1236 3773h0M1236 3791h0M1236 3773h0M1236 3805h0M1236 3772h0M1236 3787h0M1236 3776h0M1236 3788h0M1236 3801h0M1238 3767h0M1238 3762h0M1238 3774h0M1238 3757h0M1238 3766h0M1238 3755h0M1238 3755h0M1238 3771h0M1238 3782h0M1241 3753h0M1241 3757h0M1241 3786h0M1241 3758h0M1241 3762h0M1241 3763h0M1241 3761h0M1241 3773h0M1241 3764h0M1243 3768h0M1243 3783h0M1243 3762h0M1243 3757h0M1243 3789h0M1243 3771h0M1243 3751h0M1243 3763h0M1243 3759h0M1248 3769h0M1248 3756h0M1248 3787h0M1248 3795h0M1248 3802h0M1248 3769h0M1248 3782h0M1248 3796h0M1248 3764h0M1250 3748h0M1250 3785h0M1250 3759h0M1250 3748h0M1250 3777h0M1250 3743h0M1250 3735h0M1250 3741h0M1250 3769h0M1254 3757h0M1254 3757h0M1254 3753h0M1254 3753h0M1254 3774h0M1254 3779h0M1254 3801h0M1254 3760h0M1254 3737h0M1257 3775h0M1257 3758h0M1257 3762h0M1257 3789h0M1257 3779h0M1257 3785h0M1257 3736h0M1257 3779h0M1257 3754h0M1261 3706h0M1261 3714h0M1261 3711h0M1261 3756h0M1261 3742h0M1261 3748h0M1261 3741h0M1261 3695h0M1261 3763h0M1263 3771h0M1263 3730h0M1263 3731h0M1263 3759h0M1263 3719h0M1263 3750h0M1263 3731h0M1263 3746h0M1263 3760h0M1265 3763h0M1265 3751h0M1265 3759h0M1265 3724h0M1265 3764h0M1265 3768h0M1265 3772h0M1265 3773h0M1265 3784h0M1269 3751h0M1269 3765h0M1269 3768h0M1269 3760h0M1269 3749h0M1269 3756h0M1269 3753h0M1269 3774h0M1269 3770h0M1273 3762h0M1273 3773h0M1273 3766h0M1273 3763h0M1273 3764h0M1273 3765h0M1273 3768h0M1273 3740h0M1273 3766h0M1287 3751h0M1287 3771h0M1287 3771h0M1287 3753h0M1287 3780h0M1287 3805h0M1287 3749h0M1287 3738h0M1287 3780h0M1296 3737h0M1296 3778h0M1296 3760h0M1296 3765h0M1296 3750h0M1296 3777h0M1296 3732h0M1296 3749h0M1296 3742h0M1308 3726h0M1308 3733h0M1308 3727h0M1308 3719h0M1308 3692h0M1308 3704h0M1308 3708h0M1308 3729h0M1308 3705h0M1328 3725h0M1328 3728h0M1328 3708h0M1328 3722h0M1328 3717h0M1328 3688h0M1328 3745h0M1328 3739h0M1328 3750h0M1340 3677h0M1340 3734h0M1340 3716h0M1340 3680h0M1340 3686h0M1340 3689h0M1340 3689h0M1340 3702h0M1340 3703h0M1361 3702h0M1361 3700h0M1361 3671h0M1361 3683h0M1361 3686h0M1361 3676h0M1361 3695h0M1361 3724h0M1361 3687h0M1367 3707h0M1367 3719h0M1367 3675h0M1367 3701h0M1367 3715h0M1367 3701h0M1367 3721h0M1367 3718h0M1367 3707h0M1376 3689h0M1376 3695h0M1376 3696h0M1376 3685h0M1376 3692h0M1376 3669h0M1376 3673h0M1376 3702h0M1376 3657h0M1379 3705h0M1379 3709h0M1379 3732h0M1379 3703h0M1379 3695h0M1379 3695h0M1379 3684h0M1379 3700h0M1379 3707h0M1387 3703h0M1387 3706h0M1387 3716h0M1387 3698h0M1387 3695h0M1387 3700h0M1387 3655h0M1387 3695h0M1387 3700h0M1390 3637h0M1390 3679h0M1390 3654h0M1390 3666h0M1390 3662h0M1390 3671h0M1390 3668h0M1390 3661h0M1390 3633h0M1408 3669h0M1408 3691h0M1408 3684h0M1408 3644h0M1408 3709h0M1408 3664h0M1408 3678h0M1408 3681h0M1408 3697h0M1415 3686h0M1415 3707h0M1415 3694h0M1415 3700h0M1415 3668h0M1415 3682h0M1415 3704h0M1415 3716h0M1415 3687h0M1415 3693h0M1415 3703h0M1415 3676h0M1452 3652h0M1452 3644h0M1452 3661h0M1452 3646h0M1452 3659h0M1452 3690h0M1452 3660h0M1452 3674h0M1452 3674h0M1452 3662h0M1452 3679h0M1452 3672h0M1504 3660h0M1504 3633h0M1504 3647h0M1504 3638h0M1504 3637h0M1504 3656h0M1504 3639h0M1504 3651h0M1504 3635h0M1504 3638h0M1504 3645h0M1504 3623h0M1513 3637h0M1513 3651h0M1513 3632h0M1513 3629h0M1513 3627h0M1513 3637h0M1513 3654h0M1513 3653h0M1513 3642h0M1513 3619h0M1513 3615h0M1513 3625h0M1561 3623h0M1561 3584h0M1561 3593h0M1561 3606h0M1561 3591h0M1561 3594h0M1561 3600h0M1561 3625h0M1561 3597h0M1561 3590h0M1561 3600h0M1561 3624h0M1595 3578h0M1595 3575h0M1595 3592h0M1595 3572h0M1595 3584h0M1595 3586h0M1595 3561h0M1595 3588h0M1595 3589h0M1595 3599h0M1595 3588h0M1595 3568h0M1605 3584h0M1605 3601h0M1605 3540h0M1605 3581h0M1605 3581h0M1605 3597h0M1605 3565h0M1605 3564h0M1605 3573h0M1605 3589h0M1605 3607h0M1605 3605h0M1611 3623h0M1611 3580h0M1611 3619h0M1611 3580h0M1611 3596h0M1611 3585h0M1611 3591h0M1611 3581h0M1611 3594h0M1611 3590h0M1611 3595h0M1611 3582h0M1620 3620h0M1620 3587h0M1620 3577h0M1620 3570h0M1620 3581h0M1620 3600h0M1620 3582h0M1620 3582h0M1620 3590h0M1620 3593h0M1620 3576h0M1620 3569h0" stroke="#c8c8c8" stroke-width="17.5" stroke-linecap="round" fill="none" opacity="0.95"/>
<path d="M302.1 4406.0L1640.4 3734.9" stroke="#86c526" stroke-width="13.5" fill="none"/>
<path d="M302.1 4406.0L1640.4 3063.8" stroke="#e56b6f" stroke-width="13.5" fill="none"/>
<path d="M302.1 4406.0L1640.4 3501.7" stroke="#333" stroke-width="13.5" fill="none"/>
<circle cx="928.5" cy="3982.0" r="26.5" fill="#fff" stroke="#4d4d4d" stroke-width="10.5"/>
<rect x="1028.5" y="4134" width="282.5" height="180" rx="10" fill="#fff" stroke="#4d4d4d" stroke-width="1.8"/>
<text x="1169.75" y="4200.5" class="cl">Berlin</text><text x="1169.75" y="4293" class="cl">Sector 5</text>
<path d="M1657 3140V3692" stroke="#000" stroke-width="5" fill="none"/>
<path d="M1657 3121L1675 3153H1639Z M1657 3710L1675 3678H1639Z" fill="#000" stroke="#000" stroke-width="3" stroke-linejoin="round"/>
<text x="1844.5" y="3129" class="an">higher</text>
<text x="1844.5" y="3200.5" class="an">specificity</text>
<text x="1844.5" y="3664" class="an">lower</text>
<text x="1844.5" y="3735.5" class="an">specificity</text>
<text x="302.1" y="4533" class="ax">1</text>
<text x="783.6" y="4533" class="ax">10</text>
<text x="1265.1" y="4533" class="ax">100</text>
<text x="1746.6" y="4533" class="ax">1000</text>
<text x="196.4" y="4185.6" class="ay">10<tspan dy="-20" style="font-size:35px">1</tspan></text>
<text x="196.4" y="3702.7" class="ay">10<tspan dy="-20" style="font-size:35px">3</tspan></text>
<text x="196.4" y="3219.8" class="ay">10<tspan dy="-20" style="font-size:35px">5</tspan></text>
<text x="1139.7" y="4596" class="at">Tree size s<tspan dy="10" style="font-size:38px">i</tspan></text>
<text transform="translate(86 3734.5) rotate(-90)" class="at">Cumulated tree size t<tspan dy="10" style="font-size:38px">i</tspan></text>
<g stroke="#ebebeb" stroke-width="1.2" fill="none">
<path d="M2532.4 2996V4473.3"/>
<path d="M3013.9 2996V4473.3"/>
<path d="M3495.4 2996V4473.3"/>
<path d="M3976.9 2996V4473.3"/>
<path d="M2208.4 4406.0H4049"/>
<path d="M2208.4 3923.1H4049"/>
<path d="M2208.4 3440.2H4049"/>
</g><g stroke="#e0e0e0" stroke-width="2.2" fill="none">
<path d="M2291.7 2996V4483.3"/>
<path d="M2773.2 2996V4483.3"/>
<path d="M3254.7 2996V4483.3"/>
<path d="M3736.2 2996V4483.3"/>
<path d="M2197.4 4164.6H4049"/>
<path d="M2197.4 3681.7H4049"/>
<path d="M2197.4 3198.8H4049"/>
</g>
<path d="M2437 4290h0M2521 4234h0M2521 4230h0M2521 4249h0M2582 4186h0M2582 4171h0M2582 4187h0M2628 4153h0M2628 4167h0M2628 4131h0M2666 4135h0M2666 4130h0M2666 4134h0M2666 4132h0M2666 4118h0M2666 4133h0M2666 4141h0M2666 4130h0M2666 4132h0M2666 4133h0M2666 4129h0M2666 4136h0M2666 4146h0M2666 4158h0M2699 4117h0M2699 4106h0M2699 4095h0M2699 4120h0M2699 4097h0M2699 4118h0M2699 4121h0M2699 4101h0M2699 4102h0M2699 4121h0M2699 4108h0M2699 4100h0M2699 4123h0M2699 4100h0M2727 4107h0M2727 4101h0M2727 4107h0M2727 4109h0M2727 4109h0M2727 4120h0M2727 4110h0M2727 4103h0M2727 4079h0M2727 4092h0M2727 4097h0M2727 4110h0M2727 4105h0M2727 4113h0M2751 4096h0M2751 4077h0M2751 4072h0M2751 4082h0M2751 4081h0M2751 4087h0M2751 4077h0M2751 4087h0M2751 4084h0M2751 4087h0M2751 4091h0M2751 4079h0M2751 4069h0M2751 4074h0M2773 4072h0M2773 4085h0M2773 4076h0M2773 4082h0M2773 4075h0M2773 4070h0M2773 4076h0M2773 4060h0M2773 4087h0M2773 4090h0M2773 4073h0M2773 4080h0M2773 4085h0M2773 4076h0M2793 4051h0M2793 4039h0M2793 4037h0M2793 4048h0M2793 4053h0M2793 4039h0M2793 4041h0M2793 4056h0M2793 4053h0M2793 4048h0M2793 4047h0M2793 4042h0M2793 4044h0M2793 4038h0M2811 4043h0M2811 4026h0M2811 4027h0M2811 4025h0M2811 4026h0M2811 4052h0M2811 4028h0M2811 4035h0M2811 4016h0M2811 4034h0M2811 4007h0M2811 4036h0M2811 4036h0M2811 4032h0M2828 4035h0M2828 4028h0M2828 4030h0M2828 4035h0M2828 4033h0M2828 4042h0M2828 4035h0M2828 4039h0M2828 4013h0M2828 4022h0M2828 4035h0M2828 4037h0M2828 4011h0M2828 4035h0M2844 4015h0M2844 4020h0M2844 4020h0M2844 4018h0M2844 4027h0M2844 4020h0M2844 4029h0M2844 4014h0M2844 4034h0M2844 4027h0M2844 4024h0M2844 4019h0M2844 4012h0M2844 4000h0M2858 3998h0M2858 3991h0M2858 4006h0M2858 3988h0M2858 4019h0M2858 4005h0M2858 4009h0M2858 3997h0M2858 4010h0M2858 4014h0M2858 3993h0M2858 4004h0M2858 3980h0M2858 4018h0M2871 3995h0M2871 4007h0M2871 3984h0M2871 3994h0M2871 3997h0M2871 4007h0M2871 3985h0M2871 3994h0M2871 4007h0M2871 3992h0M2871 3985h0M2871 3987h0M2871 3992h0M2871 4011h0M2884 3993h0M2884 3990h0M2884 3984h0M2884 3976h0M2884 3990h0M2884 3994h0M2884 3976h0M2884 3969h0M2884 4007h0M2884 3996h0M2884 3998h0M2884 3988h0M2884 3996h0M2884 3979h0M2896 3980h0M2896 3972h0M2896 3975h0M2896 3950h0M2896 3959h0M2896 3974h0M2896 3961h0M2896 3964h0M2896 3966h0M2896 3987h0M2896 3950h0M2896 3967h0M2896 3982h0M2896 3970h0M2907 3972h0M2907 3967h0M2907 3966h0M2907 3973h0M2907 3990h0M2907 3979h0M2907 3975h0M2907 3976h0M2907 3983h0M2907 3977h0M2907 3983h0M2907 3984h0M2907 3990h0M2907 3989h0M2918 3980h0M2918 3970h0M2918 3964h0M2918 3965h0M2918 3973h0M2918 3975h0M2918 3961h0M2918 3989h0M2918 3977h0M2918 3979h0M2918 3949h0M2918 3956h0M2918 3970h0M2918 3991h0M2928 3957h0M2928 3953h0M2928 3952h0M2928 3970h0M2928 3949h0M2928 3951h0M2928 3961h0M2928 3966h0M2928 3963h0M2928 3969h0M2928 3950h0M2928 3957h0M2928 3970h0M2928 3989h0M2938 3967h0M2938 3960h0M2938 3946h0M2938 3944h0M2938 3959h0M2938 3953h0M2938 3963h0M2938 3960h0M2938 3974h0M2938 3942h0M2938 3950h0M2938 3955h0M2938 3952h0M2938 3945h0M2947 3927h0M2947 3923h0M2947 3926h0M2947 3944h0M2947 3943h0M2947 3956h0M2947 3959h0M2947 3951h0M2947 3947h0M2947 3948h0M2947 3941h0M2947 3952h0M2947 3954h0M2947 3949h0M2956 3941h0M2956 3933h0M2956 3939h0M2956 3942h0M2956 3923h0M2956 3950h0M2956 3948h0M2956 3931h0M2956 3919h0M2956 3934h0M2956 3941h0M2956 3928h0M2956 3926h0M2956 3923h0M2965 3947h0M2965 3931h0M2965 3932h0M2965 3947h0M2965 3949h0M2965 3939h0M2965 3921h0M2965 3944h0M2965 3932h0M2965 3943h0M2965 3951h0M2965 3947h0M2965 3941h0M2965 3960h0M2973 3929h0M2973 3936h0M2973 3927h0M2973 3924h0M2973 3916h0M2973 3910h0M2973 3929h0M2973 3921h0M2973 3923h0M2973 3941h0M2973 3912h0M2973 3932h0M2973 3925h0M2973 3934h0M2981 3913h0M2981 3923h0M2981 3909h0M2981 3927h0M2981 3926h0M2981 3931h0M2981 3938h0M2981 3931h0M2981 3925h0M2981 3936h0M2981 3905h0M2981 3918h0M2981 3927h0M2981 3910h0M2989 3926h0M2989 3932h0M2989 3926h0M2989 3939h0M2989 3925h0M2989 3927h0M2989 3939h0M2989 3934h0M2989 3937h0M2989 3930h0M2989 3935h0M2989 3912h0M2989 3945h0M2989 3910h0M2996 3910h0M2996 3927h0M2996 3900h0M2996 3903h0M2996 3911h0M2996 3926h0M2996 3890h0M2996 3918h0M2996 3927h0M2996 3929h0M2996 3907h0M2996 3906h0M2996 3924h0M2996 3915h0M3003 3905h0M3003 3911h0M3003 3910h0M3003 3892h0M3003 3904h0M3003 3902h0M3003 3914h0M3003 3908h0M3003 3896h0M3003 3900h0M3003 3900h0M3003 3905h0M3003 3894h0M3003 3891h0M3010 3914h0M3010 3884h0M3010 3899h0M3010 3915h0M3010 3897h0M3010 3908h0M3010 3892h0M3010 3893h0M3010 3897h0M3010 3874h0M3010 3919h0M3010 3892h0M3010 3901h0M3010 3897h0M3016 3917h0M3016 3908h0M3016 3885h0M3016 3892h0M3016 3909h0M3016 3879h0M3016 3910h0M3016 3897h0M3016 3894h0M3016 3907h0M3016 3922h0M3016 3913h0M3016 3897h0M3016 3923h0M3023 3893h0M3023 3899h0M3023 3909h0M3023 3886h0M3023 3900h0M3023 3900h0M3023 3899h0M3023 3899h0M3023 3920h0M3023 3894h0M3023 3905h0M3023 3899h0M3023 3906h0M3023 3910h0M3035 3904h0M3035 3912h0M3035 3892h0M3035 3910h0M3035 3910h0M3035 3895h0M3035 3917h0M3035 3897h0M3035 3905h0M3035 3913h0M3035 3897h0M3035 3893h0M3035 3912h0M3035 3887h0M3041 3906h0M3041 3897h0M3041 3882h0M3041 3890h0M3041 3896h0M3041 3914h0M3041 3887h0M3041 3902h0M3041 3891h0M3041 3873h0M3041 3897h0M3041 3898h0M3041 3874h0M3041 3888h0M3047 3885h0M3047 3870h0M3047 3883h0M3047 3881h0M3047 3900h0M3047 3883h0M3047 3871h0M3047 3876h0M3047 3871h0M3047 3898h0M3047 3876h0M3047 3878h0M3047 3878h0M3047 3883h0M3052 3896h0M3052 3862h0M3052 3872h0M3052 3880h0M3052 3872h0M3052 3882h0M3052 3875h0M3052 3862h0M3052 3878h0M3052 3870h0M3052 3871h0M3052 3873h0M3052 3868h0M3052 3856h0M3063 3858h0M3063 3858h0M3063 3847h0M3063 3852h0M3063 3861h0M3063 3862h0M3063 3864h0M3063 3869h0M3063 3857h0M3063 3875h0M3063 3860h0M3063 3845h0M3063 3852h0M3063 3864h0M3068 3852h0M3068 3852h0M3068 3854h0M3068 3851h0M3068 3855h0M3068 3850h0M3068 3839h0M3068 3845h0M3068 3866h0M3068 3857h0M3068 3873h0M3068 3856h0M3068 3852h0M3068 3854h0M3073 3863h0M3073 3876h0M3073 3863h0M3073 3862h0M3073 3863h0M3073 3869h0M3073 3857h0M3073 3864h0M3073 3864h0M3073 3862h0M3073 3887h0M3073 3876h0M3073 3867h0M3073 3853h0M3083 3861h0M3083 3876h0M3083 3851h0M3083 3856h0M3083 3857h0M3083 3878h0M3083 3876h0M3083 3841h0M3083 3871h0M3083 3871h0M3083 3864h0M3083 3872h0M3083 3864h0M3083 3844h0M3088 3834h0M3088 3851h0M3088 3833h0M3088 3848h0M3088 3860h0M3088 3840h0M3088 3837h0M3088 3848h0M3088 3841h0M3088 3845h0M3088 3839h0M3088 3830h0M3088 3834h0M3088 3834h0M3092 3851h0M3092 3845h0M3092 3840h0M3092 3867h0M3092 3830h0M3092 3844h0M3092 3841h0M3092 3834h0M3092 3833h0M3092 3842h0M3092 3841h0M3092 3851h0M3092 3843h0M3092 3840h0M3097 3852h0M3097 3828h0M3097 3822h0M3097 3841h0M3097 3864h0M3097 3834h0M3097 3840h0M3097 3840h0M3097 3842h0M3097 3835h0M3097 3828h0M3097 3839h0M3097 3833h0M3097 3846h0M3101 3827h0M3101 3844h0M3101 3852h0M3101 3843h0M3101 3831h0M3101 3822h0M3101 3836h0M3101 3856h0M3101 3849h0M3101 3834h0M3101 3828h0M3101 3833h0M3101 3853h0M3101 3856h0M3106 3841h0M3106 3835h0M3106 3855h0M3106 3822h0M3106 3839h0M3106 3845h0M3106 3819h0M3106 3823h0M3106 3835h0M3106 3855h0M3106 3831h0M3106 3841h0M3106 3840h0M3106 3835h0M3114 3833h0M3114 3850h0M3114 3838h0M3114 3828h0M3114 3839h0M3114 3835h0M3114 3842h0M3114 3835h0M3114 3839h0M3114 3820h0M3114 3833h0M3114 3824h0M3114 3854h0M3114 3842h0M3118 3822h0M3118 3830h0M3118 3820h0M3118 3847h0M3118 3827h0M3118 3822h0M3118 3815h0M3118 3840h0M3118 3824h0M3118 3842h0M3118 3829h0M3118 3823h0M3118 3817h0M3118 3843h0M3122 3831h0M3122 3829h0M3122 3817h0M3122 3824h0M3122 3818h0M3122 3823h0M3122 3825h0M3122 3827h0M3122 3823h0M3122 3827h0M3122 3827h0M3122 3810h0M3122 3813h0M3122 3822h0M3126 3817h0M3126 3833h0M3126 3803h0M3126 3833h0M3126 3824h0M3126 3822h0M3126 3809h0M3126 3822h0M3126 3832h0M3126 3819h0M3126 3822h0M3126 3824h0M3126 3813h0M3126 3816h0M3130 3821h0M3130 3826h0M3130 3822h0M3130 3819h0M3130 3825h0M3130 3834h0M3130 3800h0M3130 3810h0M3130 3805h0M3130 3821h0M3130 3816h0M3130 3835h0M3130 3813h0M3130 3820h0M3137 3817h0M3137 3827h0M3137 3829h0M3137 3829h0M3137 3807h0M3137 3818h0M3137 3811h0M3137 3813h0M3137 3814h0M3137 3812h0M3137 3828h0M3137 3820h0M3137 3838h0M3137 3823h0M3141 3818h0M3141 3822h0M3141 3839h0M3141 3811h0M3141 3825h0M3141 3830h0M3141 3814h0M3141 3836h0M3141 3823h0M3141 3829h0M3141 3827h0M3141 3834h0M3141 3815h0M3141 3831h0M3144 3812h0M3144 3802h0M3144 3793h0M3144 3801h0M3144 3793h0M3144 3821h0M3144 3775h0M3144 3815h0M3144 3791h0M3144 3801h0M3144 3813h0M3144 3811h0M3144 3809h0M3144 3813h0M3148 3810h0M3148 3818h0M3148 3800h0M3148 3795h0M3148 3819h0M3148 3808h0M3148 3825h0M3148 3801h0M3148 3815h0M3148 3819h0M3148 3817h0M3148 3807h0M3148 3820h0M3148 3801h0M3155 3808h0M3155 3809h0M3155 3806h0M3155 3800h0M3155 3806h0M3155 3817h0M3155 3802h0M3155 3807h0M3155 3802h0M3155 3817h0M3155 3807h0M3155 3810h0M3155 3798h0M3155 3809h0M3161 3794h0M3161 3804h0M3161 3794h0M3161 3813h0M3161 3822h0M3161 3785h0M3161 3812h0M3161 3821h0M3161 3803h0M3161 3807h0M3161 3799h0M3161 3789h0M3161 3821h0M3161 3792h0M3168 3776h0M3168 3793h0M3168 3792h0M3168 3780h0M3168 3796h0M3168 3791h0M3168 3784h0M3168 3784h0M3168 3791h0M3168 3787h0M3168 3781h0M3168 3777h0M3168 3785h0M3168 3775h0M3171 3795h0M3171 3793h0M3171 3802h0M3171 3792h0M3171 3793h0M3171 3782h0M3171 3796h0M3171 3791h0M3171 3771h0M3171 3805h0M3171 3793h0M3171 3780h0M3171 3800h0M3171 3798h0M3174 3800h0M3174 3800h0M3174 3788h0M3174 3792h0M3174 3797h0M3174 3782h0M3174 3800h0M3174 3815h0M3174 3770h0M3174 3808h0M3174 3782h0M3174 3808h0M3174 3780h0M3174 3817h0M3177 3782h0M3177 3781h0M3177 3798h0M3177 3774h0M3177 3785h0M3177 3792h0M3177 3793h0M3177 3785h0M3177 3784h0M3177 3786h0M3177 3781h0M3177 3785h0M3177 3807h0M3177 3779h0M3180 3809h0M3180 3800h0M3180 3788h0M3180 3802h0M3180 3792h0M3180 3788h0M3180 3795h0M3180 3793h0M3180 3797h0M3180 3803h0M3180 3796h0M3180 3796h0M3180 3798h0M3180 3811h0M3183 3794h0M3183 3787h0M3183 3787h0M3183 3790h0M3183 3773h0M3183 3796h0M3183 3774h0M3183 3801h0M3183 3798h0M3183 3779h0M3183 3801h0M3183 3786h0M3183 3802h0M3183 3776h0M3189 3775h0M3189 3784h0M3189 3785h0M3189 3780h0M3189 3793h0M3189 3807h0M3189 3767h0M3189 3788h0M3189 3792h0M3189 3797h0M3189 3790h0M3189 3793h0M3189 3791h0M3189 3790h0M3192 3778h0M3192 3775h0M3192 3774h0M3192 3783h0M3192 3760h0M3192 3753h0M3192 3773h0M3192 3767h0M3192 3780h0M3192 3741h0M3192 3756h0M3192 3785h0M3192 3781h0M3192 3768h0M3197 3777h0M3197 3795h0M3197 3788h0M3197 3775h0M3197 3788h0M3197 3769h0M3197 3782h0M3197 3780h0M3197 3782h0M3197 3792h0M3197 3784h0M3197 3796h0M3197 3783h0M3197 3800h0M3200 3779h0M3200 3781h0M3200 3778h0M3200 3773h0M3200 3783h0M3200 3769h0M3200 3777h0M3200 3779h0M3200 3776h0M3200 3783h0M3200 3779h0M3200 3797h0M3200 3766h0M3200 3779h0M3205 3765h0M3205 3781h0M3205 3762h0M3205 3749h0M3205 3772h0M3205 3763h0M3205 3766h0M3205 3772h0M3205 3774h0M3205 3778h0M3205 3774h0M3205 3777h0M3205 3771h0M3205 3761h0M3208 3777h0M3208 3769h0M3208 3775h0M3208 3769h0M3208 3775h0M3208 3775h0M3208 3773h0M3208 3756h0M3208 3768h0M3208 3781h0M3208 3775h0M3208 3791h0M3208 3782h0M3208 3785h0M3213 3776h0M3213 3771h0M3213 3761h0M3213 3766h0M3213 3756h0M3213 3774h0M3213 3769h0M3213 3766h0M3213 3766h0M3213 3766h0M3213 3762h0M3213 3780h0M3213 3780h0M3213 3781h0M3216 3771h0M3216 3766h0M3216 3768h0M3216 3784h0M3216 3763h0M3216 3761h0M3216 3774h0M3216 3782h0M3216 3763h0M3216 3760h0M3216 3777h0M3216 3760h0M3216 3765h0M3216 3773h0M3221 3757h0M3221 3770h0M3221 3767h0M3221 3769h0M3221 3785h0M3221 3783h0M3221 3771h0M3221 3759h0M3221 3767h0M3221 3773h0M3221 3762h0M3221 3762h0M3221 3777h0M3221 3779h0M3223 3760h0M3223 3744h0M3223 3758h0M3223 3762h0M3223 3748h0M3223 3757h0M3223 3751h0M3223 3746h0M3223 3751h0M3223 3748h0M3223 3783h0M3223 3753h0M3223 3761h0M3223 3751h0M3228 3750h0M3228 3762h0M3228 3755h0M3228 3765h0M3228 3774h0M3228 3745h0M3228 3754h0M3228 3757h0M3228 3756h0M3228 3772h0M3228 3765h0M3228 3762h0M3228 3768h0M3228 3766h0M3230 3748h0M3230 3749h0M3230 3758h0M3230 3764h0M3230 3753h0M3230 3758h0M3230 3761h0M3230 3760h0M3230 3757h0M3230 3760h0M3230 3760h0M3230 3777h0M3230 3772h0M3230 3747h0M3235 3733h0M3235 3765h0M3235 3757h0M3235 3744h0M3235 3765h0M3235 3743h0M3235 3754h0M3235 3742h0M3235 3747h0M3235 3748h0M3235 3760h0M3235 3759h0M3235 3748h0M3235 3726h0M3237 3761h0M3237 3755h0M3237 3769h0M3237 3748h0M3237 3761h0M3237 3747h0M3237 3748h0M3237 3754h0M3237 3743h0M3237 3761h0M3237 3752h0M3237 3744h0M3237 3757h0M3237 3750h0M3242 3737h0M3242 3737h0M3242 3758h0M3242 3736h0M3242 3747h0M3242 3731h0M3242 3741h0M3242 3738h0M3242 3726h0M3242 3739h0M3242 3741h0M3242 3716h0M3242 3729h0M3242 3721h0M3244 3770h0M3244 3741h0M3244 3739h0M3244 3754h0M3244 3760h0M3244 3750h0M3244 3746h0M3244 3744h0M3244 3734h0M3244 3747h0M3244 3742h0M3244 3757h0M3244 3742h0M3244 3744h0M3246 3719h0M3246 3741h0M3246 3751h0M3246 3768h0M3246 3735h0M3246 3752h0M3246 3744h0M3246 3750h0M3246 3745h0M3246 3747h0M3246 3745h0M3246 3749h0M3246 3744h0M3246 3728h0M3248 3747h0M3248 3742h0M3248 3758h0M3248 3729h0M3248 3746h0M3248 3736h0M3248 3762h0M3248 3739h0M3248 3750h0M3248 3749h0M3248 3748h0M3248 3748h0M3248 3734h0M3248 3745h0M3253 3729h0M3253 3734h0M3253 3755h0M3253 3740h0M3253 3740h0M3253 3733h0M3253 3760h0M3253 3735h0M3253 3735h0M3253 3739h0M3253 3735h0M3253 3733h0M3253 3731h0M3253 3743h0M3255 3760h0M3255 3750h0M3255 3734h0M3255 3769h0M3255 3749h0M3255 3757h0M3255 3738h0M3255 3743h0M3255 3737h0M3255 3723h0M3255 3747h0M3255 3751h0M3255 3751h0M3255 3737h0M3269 3762h0M3269 3751h0M3269 3730h0M3269 3761h0M3269 3732h0M3269 3760h0M3269 3743h0M3269 3757h0M3269 3751h0M3269 3743h0M3269 3753h0M3269 3756h0M3269 3739h0M3269 3746h0M3275 3744h0M3275 3728h0M3275 3746h0M3275 3737h0M3275 3738h0M3275 3734h0M3275 3732h0M3275 3735h0M3275 3729h0M3275 3732h0M3275 3727h0M3275 3739h0M3275 3724h0M3275 3745h0M3280 3724h0M3280 3701h0M3280 3723h0M3280 3717h0M3280 3718h0M3280 3709h0M3280 3720h0M3280 3732h0M3280 3738h0M3280 3706h0M3280 3719h0M3280 3724h0M3280 3707h0M3280 3719h0M3286 3725h0M3286 3726h0M3286 3740h0M3286 3714h0M3286 3711h0M3286 3738h0M3286 3719h0M3286 3734h0M3286 3735h0M3286 3721h0M3286 3732h0M3286 3726h0M3286 3733h0M3286 3718h0M3295 3709h0M3295 3699h0M3295 3706h0M3295 3705h0M3295 3708h0M3295 3726h0M3295 3706h0M3295 3694h0M3300 3712h0M3300 3726h0M3300 3728h0M3300 3718h0M3300 3698h0M3300 3720h0M3300 3702h0M3300 3715h0M3303 3736h0M3303 3707h0M3303 3720h0M3303 3722h0M3303 3713h0M3303 3709h0M3303 3698h0M3303 3717h0M3306 3731h0M3306 3709h0M3306 3712h0M3306 3722h0M3306 3727h0M3306 3716h0M3306 3723h0M3306 3723h0M3310 3706h0M3310 3692h0M3310 3702h0M3310 3692h0M3310 3709h0M3310 3714h0M3310 3708h0M3310 3703h0M3321 3695h0M3321 3694h0M3321 3697h0M3321 3698h0M3321 3690h0M3321 3700h0M3321 3689h0M3321 3701h0M3324 3713h0M3324 3706h0M3324 3710h0M3324 3703h0M3324 3696h0M3324 3683h0M3324 3706h0M3324 3722h0M3331 3684h0M3331 3691h0M3331 3694h0M3331 3693h0M3331 3694h0M3331 3682h0M3331 3687h0M3331 3676h0M3338 3685h0M3338 3689h0M3338 3688h0M3338 3693h0M3338 3702h0M3338 3689h0M3338 3695h0M3338 3687h0M3345 3699h0M3345 3691h0M3345 3704h0M3345 3681h0M3345 3694h0M3345 3697h0M3345 3684h0M3345 3697h0M3348 3699h0M3348 3695h0M3348 3708h0M3348 3701h0M3348 3695h0M3348 3688h0M3348 3692h0M3348 3682h0M3354 3701h0M3354 3695h0M3354 3690h0M3354 3676h0M3354 3691h0M3354 3690h0M3354 3687h0M3354 3693h0M3361 3670h0M3361 3681h0M3361 3694h0M3361 3685h0M3361 3705h0M3361 3709h0M3361 3689h0M3361 3687h0M3367 3674h0M3367 3689h0M3367 3684h0M3367 3691h0M3367 3675h0M3367 3685h0M3367 3675h0M3367 3672h0M3375 3679h0M3375 3669h0M3375 3687h0M3375 3679h0M3375 3657h0M3375 3668h0M3375 3682h0M3375 3681h0M3379 3681h0M3379 3673h0M3379 3691h0M3379 3683h0M3379 3675h0M3379 3664h0M3379 3680h0M3379 3669h0M3384 3669h0M3384 3652h0M3384 3656h0M3384 3667h0M3384 3654h0M3384 3651h0M3384 3653h0M3384 3671h0M3388 3653h0M3388 3653h0M3388 3674h0M3388 3657h0M3388 3646h0M3388 3655h0M3388 3669h0M3388 3663h0M3390 3646h0M3390 3649h0M3390 3661h0M3390 3665h0M3390 3654h0M3390 3657h0M3390 3663h0M3390 3661h0M3392 3668h0M3392 3662h0M3392 3651h0M3392 3661h0M3392 3660h0M3392 3667h0M3392 3685h0M3392 3680h0M3400 3656h0M3400 3664h0M3400 3661h0M3400 3677h0M3400 3669h0M3400 3657h0M3400 3664h0M3400 3671h0M3415 3662h0M3415 3655h0M3415 3661h0M3415 3660h0M3415 3658h0M3415 3660h0M3415 3638h0M3415 3656h0M3438 3637h0M3438 3656h0M3438 3646h0M3438 3627h0M3438 3643h0M3438 3637h0M3438 3646h0M3438 3647h0M3484 3618h0M3484 3622h0M3484 3625h0M3484 3617h0M3484 3613h0M3484 3600h0M3484 3625h0M3484 3615h0M3495 3643h0M3495 3615h0M3495 3614h0M3495 3627h0M3495 3625h0M3495 3627h0M3495 3617h0M3495 3637h0" stroke="#c8c8c8" stroke-width="17.5" stroke-linecap="round" fill="none" opacity="0.95"/>
<path d="M2291.7 4406.0L3629.5 3735.2" stroke="#86c526" stroke-width="13.5" fill="none"/>
<path d="M2291.7 4406.0L3629.5 3064.3" stroke="#e56b6f" stroke-width="13.5" fill="none"/>
<path d="M2291.7 4406.0L3629.5 3502.0" stroke="#333" stroke-width="13.5" fill="none"/>
<circle cx="2811.3" cy="4021.8" r="26.5" fill="#fff" stroke="#4d4d4d" stroke-width="10.5"/>
<rect x="2911" y="4174" width="282.5" height="180" rx="10" fill="#fff" stroke="#4d4d4d" stroke-width="1.8"/>
<text x="3052.25" y="4240.5" class="cl">Berlin</text><text x="3052.25" y="4333" class="cl">Sector 5</text>
<path d="M3646 3140V3692" stroke="#000" stroke-width="5" fill="none"/>
<path d="M3646 3121L3664 3153H3628Z M3646 3710L3664 3678H3628Z" fill="#000" stroke="#000" stroke-width="3" stroke-linejoin="round"/>
<text x="3833.3" y="3129" class="an">higher</text>
<text x="3833.3" y="3200.5" class="an">specificity</text>
<text x="3833.3" y="3664" class="an">lower</text>
<text x="3833.3" y="3735.5" class="an">specificity</text>
<text x="2291.7" y="4533" class="ax">1</text>
<text x="2773.2" y="4533" class="ax">10</text>
<text x="3254.7" y="4533" class="ax">100</text>
<text x="3736.2" y="4533" class="ax">1000</text>
<text x="2185.4" y="4185.6" class="ay">10<tspan dy="-20" style="font-size:35px">1</tspan></text>
<text x="2185.4" y="3702.7" class="ay">10<tspan dy="-20" style="font-size:35px">3</tspan></text>
<text x="2185.4" y="3219.8" class="ay">10<tspan dy="-20" style="font-size:35px">5</tspan></text>
<text x="3128.7" y="4596" class="at">Tree size s<tspan dy="10" style="font-size:38px">i</tspan></text>
</svg></body></html>
